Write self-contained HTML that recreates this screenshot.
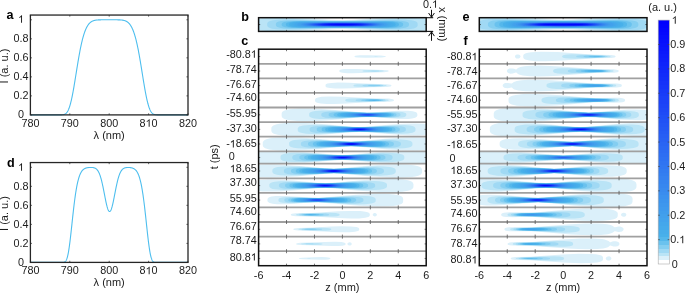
<!DOCTYPE html>
<html><head><meta charset="utf-8"><style>html,body{margin:0;padding:0;background:#fff;overflow:hidden}svg{display:block;will-change:transform;font-kerning:none;font-family:"Liberation Sans",sans-serif}</style></head>
<body><svg width="685" height="293" viewBox="0 0 685 293" font-family="Liberation Sans, sans-serif"><polyline points="30.40,114.90 30.60,114.90 30.79,114.90 30.99,114.90 31.19,114.90 31.38,114.90 31.58,114.90 31.78,114.90 31.98,114.90 32.17,114.90 32.37,114.90 32.57,114.90 32.76,114.90 32.96,114.90 33.16,114.90 33.35,114.90 33.55,114.90 33.75,114.90 33.95,114.90 34.14,114.90 34.34,114.90 34.54,114.90 34.73,114.90 34.93,114.90 35.13,114.90 35.32,114.90 35.52,114.90 35.72,114.90 35.92,114.90 36.11,114.90 36.31,114.90 36.51,114.90 36.70,114.90 36.90,114.90 37.10,114.90 37.30,114.90 37.49,114.90 37.69,114.90 37.89,114.90 38.08,114.90 38.28,114.90 38.48,114.90 38.67,114.90 38.87,114.90 39.07,114.90 39.27,114.90 39.46,114.90 39.66,114.90 39.86,114.90 40.05,114.90 40.25,114.90 40.45,114.90 40.64,114.90 40.84,114.90 41.04,114.90 41.23,114.90 41.43,114.90 41.63,114.90 41.83,114.90 42.02,114.90 42.22,114.90 42.42,114.90 42.61,114.90 42.81,114.90 43.01,114.90 43.20,114.90 43.40,114.90 43.60,114.90 43.80,114.90 43.99,114.90 44.19,114.90 44.39,114.90 44.58,114.90 44.78,114.90 44.98,114.90 45.17,114.90 45.37,114.90 45.57,114.90 45.77,114.90 45.96,114.90 46.16,114.90 46.36,114.90 46.55,114.90 46.75,114.90 46.95,114.90 47.14,114.90 47.34,114.90 47.54,114.90 47.74,114.90 47.93,114.90 48.13,114.90 48.33,114.90 48.52,114.90 48.72,114.90 48.92,114.90 49.11,114.90 49.31,114.90 49.51,114.90 49.71,114.90 49.90,114.90 50.10,114.90 50.30,114.90 50.49,114.90 50.69,114.90 50.89,114.90 51.08,114.90 51.28,114.90 51.48,114.90 51.68,114.90 51.87,114.90 52.07,114.90 52.27,114.90 52.46,114.90 52.66,114.90 52.86,114.90 53.05,114.90 53.25,114.90 53.45,114.90 53.65,114.90 53.84,114.90 54.04,114.90 54.24,114.90 54.43,114.90 54.63,114.90 54.83,114.90 55.02,114.90 55.22,114.90 55.42,114.90 55.62,114.90 55.81,114.90 56.01,114.90 56.21,114.90 56.40,114.90 56.60,114.90 56.80,114.90 56.99,114.90 57.19,114.90 57.39,114.90 57.59,114.90 57.78,114.90 57.98,114.90 58.18,114.90 58.37,114.90 58.57,114.90 58.77,114.90 58.97,114.90 59.16,114.90 59.36,114.89 59.56,114.89 59.75,114.89 59.95,114.89 60.15,114.89 60.34,114.88 60.54,114.88 60.74,114.87 60.94,114.87 61.13,114.86 61.33,114.85 61.53,114.84 61.72,114.83 61.92,114.82 62.12,114.80 62.31,114.79 62.51,114.77 62.71,114.74 62.91,114.71 63.10,114.68 63.30,114.65 63.50,114.61 63.69,114.56 63.89,114.51 64.09,114.44 64.28,114.38 64.48,114.30 64.68,114.22 64.88,114.12 65.07,114.02 65.27,113.90 65.47,113.77 65.66,113.63 65.86,113.47 66.06,113.30 66.25,113.12 66.45,112.91 66.65,112.69 66.84,112.45 67.04,112.19 67.24,111.91 67.44,111.61 67.63,111.28 67.83,110.93 68.03,110.56 68.22,110.16 68.42,109.74 68.62,109.29 68.81,108.82 69.01,108.31 69.21,107.78 69.41,107.22 69.60,106.63 69.80,106.02 70.00,105.37 70.19,104.70 70.39,103.99 70.59,103.26 70.78,102.49 70.98,101.70 71.18,100.88 71.38,100.03 71.57,99.16 71.77,98.25 71.97,97.33 72.16,96.37 72.36,95.39 72.56,94.39 72.75,93.36 72.95,92.31 73.15,91.24 73.35,90.16 73.54,89.05 73.74,87.92 73.94,86.78 74.13,85.63 74.33,84.46 74.53,83.28 74.72,82.09 74.92,80.88 75.12,79.67 75.32,78.46 75.51,77.24 75.71,76.01 75.91,74.78 76.10,73.55 76.30,72.32 76.50,71.09 76.69,69.87 76.89,68.65 77.09,67.43 77.29,66.22 77.48,65.02 77.68,63.82 77.88,62.63 78.07,61.46 78.27,60.30 78.47,59.14 78.66,58.01 78.86,56.88 79.06,55.77 79.26,54.68 79.45,53.60 79.65,52.54 79.85,51.50 80.04,50.47 80.24,49.46 80.44,48.47 80.63,47.50 80.83,46.55 81.03,45.62 81.23,44.71 81.42,43.82 81.62,42.95 81.82,42.10 82.01,41.27 82.21,40.46 82.41,39.67 82.60,38.91 82.80,38.16 83.00,37.43 83.20,36.73 83.39,36.04 83.59,35.37 83.79,34.73 83.98,34.10 84.18,33.49 84.38,32.91 84.57,32.34 84.77,31.79 84.97,31.25 85.17,30.74 85.36,30.24 85.56,29.76 85.76,29.30 85.95,28.85 86.15,28.42 86.35,28.01 86.54,27.61 86.74,27.23 86.94,26.86 87.14,26.51 87.33,26.17 87.53,25.85 87.73,25.53 87.92,25.23 88.12,24.95 88.32,24.67 88.52,24.41 88.71,24.16 88.91,23.92 89.11,23.69 89.30,23.47 89.50,23.26 89.70,23.06 89.89,22.87 90.09,22.69 90.29,22.52 90.48,22.36 90.68,22.20 90.88,22.06 91.08,21.92 91.27,21.78 91.47,21.66 91.67,21.54 91.86,21.43 92.06,21.32 92.26,21.22 92.45,21.12 92.65,21.03 92.85,20.95 93.05,20.87 93.24,20.79 93.44,20.72 93.64,20.66 93.83,20.59 94.03,20.54 94.23,20.48 94.43,20.43 94.62,20.38 94.82,20.34 95.02,20.29 95.21,20.25 95.41,20.22 95.61,20.18 95.80,20.15 96.00,20.12 96.20,20.10 96.40,20.07 96.59,20.05 96.79,20.02 96.99,20.00 97.18,19.99 97.38,19.97 97.58,19.95 97.77,19.94 97.97,19.93 98.17,19.91 98.37,19.90 98.56,19.89 98.76,19.88 98.96,19.87 99.15,19.87 99.35,19.86 99.55,19.85 99.74,19.85 99.94,19.84 100.14,19.84 100.34,19.83 100.53,19.83 100.73,19.83 100.93,19.82 101.12,19.82 101.32,19.82 101.52,19.82 101.71,19.82 101.91,19.81 102.11,19.81 102.31,19.81 102.50,19.81 102.70,19.81 102.90,19.81 103.09,19.81 103.29,19.81 103.49,19.81 103.68,19.81 103.88,19.81 104.08,19.81 104.28,19.81 104.47,19.81 104.67,19.81 104.87,19.81 105.06,19.81 105.26,19.80 105.46,19.80 105.65,19.80 105.85,19.80 106.05,19.80 106.25,19.80 106.44,19.80 106.64,19.80 106.84,19.80 107.03,19.80 107.23,19.80 107.43,19.80 107.62,19.80 107.82,19.80 108.02,19.80 108.22,19.80 108.41,19.80 108.61,19.80 108.81,19.80 109.00,19.80 109.20,19.80 109.40,19.80 109.59,19.80 109.79,19.80 109.99,19.80 110.19,19.80 110.38,19.80 110.58,19.80 110.78,19.80 110.97,19.80 111.17,19.80 111.37,19.80 111.56,19.80 111.76,19.80 111.96,19.80 112.16,19.80 112.35,19.80 112.55,19.80 112.75,19.80 112.94,19.80 113.14,19.80 113.34,19.81 113.53,19.81 113.73,19.81 113.93,19.81 114.12,19.81 114.32,19.81 114.52,19.81 114.72,19.81 114.91,19.81 115.11,19.81 115.31,19.81 115.50,19.81 115.70,19.81 115.90,19.81 116.09,19.81 116.29,19.81 116.49,19.81 116.69,19.82 116.88,19.82 117.08,19.82 117.28,19.82 117.47,19.82 117.67,19.83 117.87,19.83 118.06,19.83 118.26,19.84 118.46,19.84 118.66,19.85 118.85,19.85 119.05,19.86 119.25,19.87 119.44,19.87 119.64,19.88 119.84,19.89 120.03,19.90 120.23,19.91 120.43,19.93 120.63,19.94 120.82,19.95 121.02,19.97 121.22,19.99 121.41,20.00 121.61,20.02 121.81,20.05 122.00,20.07 122.20,20.10 122.40,20.12 122.60,20.15 122.79,20.18 122.99,20.22 123.19,20.25 123.38,20.29 123.58,20.34 123.78,20.38 123.97,20.43 124.17,20.48 124.37,20.54 124.57,20.59 124.76,20.66 124.96,20.72 125.16,20.79 125.35,20.87 125.55,20.95 125.75,21.03 125.94,21.12 126.14,21.22 126.34,21.32 126.54,21.43 126.73,21.54 126.93,21.66 127.13,21.78 127.32,21.92 127.52,22.06 127.72,22.20 127.91,22.36 128.11,22.52 128.31,22.69 128.51,22.87 128.70,23.06 128.90,23.26 129.10,23.47 129.29,23.69 129.49,23.92 129.69,24.16 129.88,24.41 130.08,24.67 130.28,24.95 130.48,25.23 130.67,25.53 130.87,25.85 131.07,26.17 131.26,26.51 131.46,26.86 131.66,27.23 131.85,27.61 132.05,28.01 132.25,28.42 132.45,28.85 132.64,29.30 132.84,29.76 133.04,30.24 133.23,30.74 133.43,31.25 133.63,31.79 133.82,32.34 134.02,32.91 134.22,33.49 134.42,34.10 134.61,34.73 134.81,35.37 135.01,36.04 135.20,36.73 135.40,37.43 135.60,38.16 135.79,38.91 135.99,39.67 136.19,40.46 136.39,41.27 136.58,42.10 136.78,42.95 136.98,43.82 137.17,44.71 137.37,45.62 137.57,46.55 137.76,47.50 137.96,48.47 138.16,49.46 138.36,50.47 138.55,51.50 138.75,52.54 138.95,53.60 139.14,54.68 139.34,55.77 139.54,56.88 139.73,58.01 139.93,59.14 140.13,60.30 140.33,61.46 140.52,62.63 140.72,63.82 140.92,65.02 141.11,66.22 141.31,67.43 141.51,68.65 141.70,69.87 141.90,71.09 142.10,72.32 142.30,73.55 142.49,74.78 142.69,76.01 142.89,77.24 143.08,78.46 143.28,79.67 143.48,80.88 143.67,82.09 143.87,83.28 144.07,84.46 144.27,85.63 144.46,86.78 144.66,87.92 144.86,89.05 145.05,90.16 145.25,91.24 145.45,92.31 145.65,93.36 145.84,94.39 146.04,95.39 146.24,96.37 146.43,97.33 146.63,98.25 146.83,99.16 147.02,100.03 147.22,100.88 147.42,101.70 147.62,102.49 147.81,103.26 148.01,103.99 148.21,104.70 148.40,105.37 148.60,106.02 148.80,106.63 148.99,107.22 149.19,107.78 149.39,108.31 149.59,108.82 149.78,109.29 149.98,109.74 150.18,110.16 150.37,110.56 150.57,110.93 150.77,111.28 150.96,111.61 151.16,111.91 151.36,112.19 151.56,112.45 151.75,112.69 151.95,112.91 152.15,113.12 152.34,113.30 152.54,113.47 152.74,113.63 152.93,113.77 153.13,113.90 153.33,114.02 153.53,114.12 153.72,114.22 153.92,114.30 154.12,114.38 154.31,114.44 154.51,114.51 154.71,114.56 154.90,114.61 155.10,114.65 155.30,114.68 155.50,114.71 155.69,114.74 155.89,114.77 156.09,114.79 156.28,114.80 156.48,114.82 156.68,114.83 156.87,114.84 157.07,114.85 157.27,114.86 157.47,114.87 157.66,114.87 157.86,114.88 158.06,114.88 158.25,114.89 158.45,114.89 158.65,114.89 158.84,114.89 159.04,114.89 159.24,114.90 159.44,114.90 159.63,114.90 159.83,114.90 160.03,114.90 160.22,114.90 160.42,114.90 160.62,114.90 160.81,114.90 161.01,114.90 161.21,114.90 161.41,114.90 161.60,114.90 161.80,114.90 162.00,114.90 162.19,114.90 162.39,114.90 162.59,114.90 162.78,114.90 162.98,114.90 163.18,114.90 163.38,114.90 163.57,114.90 163.77,114.90 163.97,114.90 164.16,114.90 164.36,114.90 164.56,114.90 164.75,114.90 164.95,114.90 165.15,114.90 165.34,114.90 165.54,114.90 165.74,114.90 165.94,114.90 166.13,114.90 166.33,114.90 166.53,114.90 166.72,114.90 166.92,114.90 167.12,114.90 167.31,114.90 167.51,114.90 167.71,114.90 167.91,114.90 168.10,114.90 168.30,114.90 168.50,114.90 168.69,114.90 168.89,114.90 169.09,114.90 169.28,114.90 169.48,114.90 169.68,114.90 169.88,114.90 170.07,114.90 170.27,114.90 170.47,114.90 170.66,114.90 170.86,114.90 171.06,114.90 171.25,114.90 171.45,114.90 171.65,114.90 171.85,114.90 172.04,114.90 172.24,114.90 172.44,114.90 172.63,114.90 172.83,114.90 173.03,114.90 173.22,114.90 173.42,114.90 173.62,114.90 173.82,114.90 174.01,114.90 174.21,114.90 174.41,114.90 174.60,114.90 174.80,114.90 175.00,114.90 175.19,114.90 175.39,114.90 175.59,114.90 175.79,114.90 175.98,114.90 176.18,114.90 176.38,114.90 176.57,114.90 176.77,114.90 176.97,114.90 177.16,114.90 177.36,114.90 177.56,114.90 177.76,114.90 177.95,114.90 178.15,114.90 178.35,114.90 178.54,114.90 178.74,114.90 178.94,114.90 179.13,114.90 179.33,114.90 179.53,114.90 179.73,114.90 179.92,114.90 180.12,114.90 180.32,114.90 180.51,114.90 180.71,114.90 180.91,114.90 181.10,114.90 181.30,114.90 181.50,114.90 181.70,114.90 181.89,114.90 182.09,114.90 182.29,114.90 182.48,114.90 182.68,114.90 182.88,114.90 183.08,114.90 183.27,114.90 183.47,114.90 183.67,114.90 183.86,114.90 184.06,114.90 184.26,114.90 184.45,114.90 184.65,114.90 184.85,114.90 185.05,114.90 185.24,114.90 185.44,114.90 185.64,114.90 185.83,114.90 186.03,114.90 186.23,114.90 186.42,114.90 186.62,114.90 186.82,114.90 187.02,114.90 187.21,114.90 187.41,114.90 187.61,114.90 187.80,114.90 188.00,114.90" fill="none" stroke="#4DBEEE" stroke-width="1.1"/>
<rect x="30.4" y="15.05" width="157.60" height="99.85" fill="none" stroke="#262626" stroke-width="1.3"/>
<line x1="30.40" y1="114.9" x2="30.40" y2="113.30000000000001" stroke="#262626" stroke-width="0.7"/>
<line x1="30.40" y1="15.05" x2="30.40" y2="16.650000000000002" stroke="#262626" stroke-width="0.7"/>
<text x="30.40" y="126.70" font-size="10.8" text-anchor="middle" fill="#1a1a1a">780</text>
<line x1="69.80" y1="114.9" x2="69.80" y2="113.30000000000001" stroke="#262626" stroke-width="0.7"/>
<line x1="69.80" y1="15.05" x2="69.80" y2="16.650000000000002" stroke="#262626" stroke-width="0.7"/>
<text x="69.80" y="126.70" font-size="10.8" text-anchor="middle" fill="#1a1a1a">790</text>
<line x1="109.20" y1="114.9" x2="109.20" y2="113.30000000000001" stroke="#262626" stroke-width="0.7"/>
<line x1="109.20" y1="15.05" x2="109.20" y2="16.650000000000002" stroke="#262626" stroke-width="0.7"/>
<text x="109.20" y="126.70" font-size="10.8" text-anchor="middle" fill="#1a1a1a">800</text>
<line x1="148.60" y1="114.9" x2="148.60" y2="113.30000000000001" stroke="#262626" stroke-width="0.7"/>
<line x1="148.60" y1="15.05" x2="148.60" y2="16.650000000000002" stroke="#262626" stroke-width="0.7"/>
<text x="148.60" y="126.70" font-size="10.8" text-anchor="middle" fill="#1a1a1a">8 0</text>
<path d="M763 0H583V1110Q518 1050 412 990Q306 930 222 900V1070Q373 1140 486 1240Q599 1340 646 1409H763Z" fill="#1a1a1a" transform="translate(145.60 126.70) scale(0.005273 -0.005273)"/>
<line x1="188.00" y1="114.9" x2="188.00" y2="113.30000000000001" stroke="#262626" stroke-width="0.7"/>
<line x1="188.00" y1="15.05" x2="188.00" y2="16.650000000000002" stroke="#262626" stroke-width="0.7"/>
<text x="188.00" y="126.70" font-size="10.8" text-anchor="middle" fill="#1a1a1a">820</text>
<line x1="30.4" y1="114.90" x2="32.0" y2="114.90" stroke="#262626" stroke-width="0.7"/>
<line x1="188.0" y1="114.90" x2="186.4" y2="114.90" stroke="#262626" stroke-width="0.7"/>
<text x="21.00" y="117.90" font-size="10.8" text-anchor="middle" fill="#1a1a1a">0</text>
<line x1="30.4" y1="95.88" x2="32.0" y2="95.88" stroke="#262626" stroke-width="0.7"/>
<line x1="188.0" y1="95.88" x2="186.4" y2="95.88" stroke="#262626" stroke-width="0.7"/>
<text x="21.00" y="98.88" font-size="10.8" text-anchor="middle" fill="#1a1a1a">0.2</text>
<line x1="30.4" y1="76.86" x2="32.0" y2="76.86" stroke="#262626" stroke-width="0.7"/>
<line x1="188.0" y1="76.86" x2="186.4" y2="76.86" stroke="#262626" stroke-width="0.7"/>
<text x="21.00" y="79.86" font-size="10.8" text-anchor="middle" fill="#1a1a1a">0.4</text>
<line x1="30.4" y1="57.84" x2="32.0" y2="57.84" stroke="#262626" stroke-width="0.7"/>
<line x1="188.0" y1="57.84" x2="186.4" y2="57.84" stroke="#262626" stroke-width="0.7"/>
<text x="21.00" y="60.84" font-size="10.8" text-anchor="middle" fill="#1a1a1a">0.6</text>
<line x1="30.4" y1="38.82" x2="32.0" y2="38.82" stroke="#262626" stroke-width="0.7"/>
<line x1="188.0" y1="38.82" x2="186.4" y2="38.82" stroke="#262626" stroke-width="0.7"/>
<text x="21.00" y="41.82" font-size="10.8" text-anchor="middle" fill="#1a1a1a">0.8</text>
<line x1="30.4" y1="19.80" x2="32.0" y2="19.80" stroke="#262626" stroke-width="0.7"/>
<line x1="188.0" y1="19.80" x2="186.4" y2="19.80" stroke="#262626" stroke-width="0.7"/>
<text x="21.00" y="22.80" font-size="10.8" text-anchor="middle" fill="#1a1a1a"> </text>
<path d="M763 0H583V1110Q518 1050 412 990Q306 930 222 900V1070Q373 1140 486 1240Q599 1340 646 1409H763Z" fill="#1a1a1a" transform="translate(18.00 22.80) scale(0.005273 -0.005273)"/>
<text x="109.20" y="138.60" font-size="11" text-anchor="middle" fill="#1a1a1a">λ (nm)</text>
<text x="7.80" y="66.00" font-size="11" text-anchor="middle" transform="rotate(-90 7.80 66.00)" fill="#1a1a1a">I (a. u.)</text>
<text x="6.60" y="18.80" font-size="12.6" text-anchor="start" font-weight="bold" fill="#000">a</text>
<polyline points="30.40,262.40 30.60,262.40 30.79,262.40 30.99,262.40 31.19,262.40 31.38,262.40 31.58,262.40 31.78,262.40 31.98,262.40 32.17,262.40 32.37,262.40 32.57,262.40 32.76,262.40 32.96,262.40 33.16,262.40 33.35,262.40 33.55,262.40 33.75,262.40 33.95,262.40 34.14,262.40 34.34,262.40 34.54,262.40 34.73,262.40 34.93,262.40 35.13,262.40 35.32,262.40 35.52,262.40 35.72,262.40 35.92,262.40 36.11,262.40 36.31,262.40 36.51,262.40 36.70,262.40 36.90,262.40 37.10,262.40 37.30,262.40 37.49,262.40 37.69,262.40 37.89,262.40 38.08,262.40 38.28,262.40 38.48,262.40 38.67,262.40 38.87,262.40 39.07,262.40 39.27,262.40 39.46,262.40 39.66,262.40 39.86,262.40 40.05,262.40 40.25,262.40 40.45,262.40 40.64,262.40 40.84,262.40 41.04,262.40 41.23,262.40 41.43,262.40 41.63,262.40 41.83,262.40 42.02,262.40 42.22,262.40 42.42,262.40 42.61,262.40 42.81,262.40 43.01,262.40 43.20,262.40 43.40,262.40 43.60,262.40 43.80,262.40 43.99,262.40 44.19,262.40 44.39,262.40 44.58,262.40 44.78,262.40 44.98,262.40 45.17,262.40 45.37,262.40 45.57,262.40 45.77,262.40 45.96,262.40 46.16,262.40 46.36,262.40 46.55,262.40 46.75,262.40 46.95,262.40 47.14,262.40 47.34,262.40 47.54,262.40 47.74,262.40 47.93,262.40 48.13,262.40 48.33,262.40 48.52,262.40 48.72,262.40 48.92,262.40 49.11,262.40 49.31,262.40 49.51,262.40 49.71,262.40 49.90,262.40 50.10,262.40 50.30,262.40 50.49,262.40 50.69,262.40 50.89,262.40 51.08,262.40 51.28,262.40 51.48,262.40 51.68,262.40 51.87,262.40 52.07,262.40 52.27,262.40 52.46,262.40 52.66,262.40 52.86,262.40 53.05,262.40 53.25,262.40 53.45,262.40 53.65,262.40 53.84,262.40 54.04,262.40 54.24,262.40 54.43,262.40 54.63,262.40 54.83,262.40 55.02,262.40 55.22,262.40 55.42,262.40 55.62,262.40 55.81,262.40 56.01,262.40 56.21,262.40 56.40,262.40 56.60,262.40 56.80,262.40 56.99,262.40 57.19,262.40 57.39,262.40 57.59,262.40 57.78,262.40 57.98,262.40 58.18,262.40 58.37,262.40 58.57,262.40 58.77,262.40 58.97,262.40 59.16,262.40 59.36,262.40 59.56,262.40 59.75,262.40 59.95,262.40 60.15,262.40 60.34,262.40 60.54,262.40 60.74,262.40 60.94,262.40 61.13,262.40 61.33,262.40 61.53,262.40 61.72,262.40 61.92,262.39 62.12,262.39 62.31,262.39 62.51,262.38 62.71,262.38 62.91,262.37 63.10,262.35 63.30,262.34 63.50,262.31 63.69,262.28 63.89,262.24 64.09,262.19 64.28,262.13 64.48,262.06 64.68,261.96 64.88,261.85 65.07,261.71 65.27,261.54 65.47,261.34 65.66,261.11 65.86,260.84 66.06,260.53 66.25,260.17 66.45,259.76 66.65,259.29 66.84,258.77 67.04,258.19 67.24,257.54 67.44,256.83 67.63,256.05 67.83,255.20 68.03,254.28 68.22,253.29 68.42,252.23 68.62,251.10 68.81,249.89 69.01,248.62 69.21,247.28 69.41,245.88 69.60,244.42 69.80,242.91 70.00,241.34 70.19,239.72 70.39,238.05 70.59,236.35 70.78,234.61 70.98,232.85 71.18,231.05 71.38,229.24 71.57,227.42 71.77,225.58 71.97,223.74 72.16,221.90 72.36,220.06 72.56,218.24 72.75,216.42 72.95,214.63 73.15,212.85 73.35,211.10 73.54,209.37 73.74,207.68 73.94,206.01 74.13,204.38 74.33,202.79 74.53,201.24 74.72,199.72 74.92,198.25 75.12,196.82 75.32,195.44 75.51,194.09 75.71,192.79 75.91,191.54 76.10,190.33 76.30,189.16 76.50,188.04 76.69,186.96 76.89,185.92 77.09,184.92 77.29,183.97 77.48,183.06 77.68,182.18 77.88,181.35 78.07,180.55 78.27,179.80 78.47,179.07 78.66,178.38 78.86,177.73 79.06,177.11 79.26,176.52 79.45,175.96 79.65,175.42 79.85,174.92 80.04,174.44 80.24,173.99 80.44,173.57 80.63,173.16 80.83,172.78 81.03,172.42 81.23,172.09 81.42,171.77 81.62,171.47 81.82,171.19 82.01,170.92 82.21,170.67 82.41,170.44 82.60,170.22 82.80,170.01 83.00,169.82 83.20,169.64 83.39,169.47 83.59,169.31 83.79,169.16 83.98,169.03 84.18,168.90 84.38,168.78 84.57,168.67 84.77,168.56 84.97,168.46 85.17,168.37 85.36,168.29 85.56,168.21 85.76,168.14 85.95,168.07 86.15,168.01 86.35,167.95 86.54,167.90 86.74,167.85 86.94,167.81 87.14,167.76 87.33,167.73 87.53,167.69 87.73,167.66 87.92,167.63 88.12,167.60 88.32,167.58 88.52,167.56 88.71,167.54 88.91,167.52 89.11,167.50 89.30,167.49 89.50,167.48 89.70,167.47 89.89,167.46 90.09,167.45 90.29,167.45 90.48,167.44 90.68,167.44 90.88,167.44 91.08,167.44 91.27,167.45 91.47,167.45 91.67,167.46 91.86,167.47 92.06,167.49 92.26,167.50 92.45,167.52 92.65,167.54 92.85,167.57 93.05,167.59 93.24,167.63 93.44,167.66 93.64,167.70 93.83,167.75 94.03,167.80 94.23,167.86 94.43,167.92 94.62,167.99 94.82,168.07 95.02,168.16 95.21,168.25 95.41,168.35 95.61,168.47 95.80,168.59 96.00,168.72 96.20,168.87 96.40,169.03 96.59,169.21 96.79,169.39 96.99,169.60 97.18,169.82 97.38,170.06 97.58,170.31 97.77,170.58 97.97,170.88 98.17,171.19 98.37,171.53 98.56,171.89 98.76,172.27 98.96,172.68 99.15,173.11 99.35,173.57 99.55,174.06 99.74,174.57 99.94,175.10 100.14,175.67 100.34,176.27 100.53,176.89 100.73,177.54 100.93,178.22 101.12,178.93 101.32,179.66 101.52,180.43 101.71,181.22 101.91,182.04 102.11,182.88 102.31,183.75 102.50,184.64 102.70,185.55 102.90,186.48 103.09,187.43 103.29,188.40 103.49,189.39 103.68,190.38 103.88,191.39 104.08,192.40 104.28,193.42 104.47,194.44 104.67,195.45 104.87,196.47 105.06,197.48 105.26,198.47 105.46,199.46 105.65,200.42 105.85,201.37 106.05,202.29 106.25,203.19 106.44,204.06 106.64,204.89 106.84,205.68 107.03,206.44 107.23,207.15 107.43,207.82 107.62,208.44 107.82,209.01 108.02,209.53 108.22,209.99 108.41,210.39 108.61,210.73 108.81,211.02 109.00,211.24 109.20,211.40 109.40,211.49 109.59,211.52 109.79,211.49 109.99,211.40 110.19,211.24 110.38,211.02 110.58,210.73 110.78,210.39 110.97,209.99 111.17,209.53 111.37,209.01 111.56,208.44 111.76,207.82 111.96,207.15 112.16,206.44 112.35,205.68 112.55,204.89 112.75,204.06 112.94,203.19 113.14,202.29 113.34,201.37 113.53,200.42 113.73,199.46 113.93,198.47 114.12,197.48 114.32,196.47 114.52,195.45 114.72,194.44 114.91,193.42 115.11,192.40 115.31,191.39 115.50,190.38 115.70,189.39 115.90,188.40 116.09,187.43 116.29,186.48 116.49,185.55 116.69,184.64 116.88,183.75 117.08,182.88 117.28,182.04 117.47,181.22 117.67,180.43 117.87,179.66 118.06,178.93 118.26,178.22 118.46,177.54 118.66,176.89 118.85,176.27 119.05,175.67 119.25,175.11 119.44,174.57 119.64,174.06 119.84,173.57 120.03,173.11 120.23,172.68 120.43,172.27 120.63,171.89 120.82,171.53 121.02,171.19 121.22,170.88 121.41,170.59 121.61,170.31 121.81,170.06 122.00,169.82 122.20,169.60 122.40,169.40 122.60,169.21 122.79,169.03 122.99,168.87 123.19,168.73 123.38,168.59 123.58,168.47 123.78,168.36 123.97,168.25 124.17,168.16 124.37,168.07 124.57,168.00 124.76,167.93 124.96,167.87 125.16,167.81 125.35,167.76 125.55,167.71 125.75,167.67 125.94,167.64 126.14,167.61 126.34,167.58 126.54,167.56 126.73,167.54 126.93,167.52 127.13,167.51 127.32,167.50 127.52,167.49 127.72,167.48 127.91,167.48 128.11,167.48 128.31,167.48 128.51,167.48 128.70,167.49 128.90,167.49 129.10,167.50 129.29,167.52 129.49,167.53 129.69,167.55 129.88,167.56 130.08,167.59 130.28,167.61 130.48,167.64 130.67,167.66 130.87,167.70 131.07,167.73 131.26,167.77 131.46,167.81 131.66,167.85 131.85,167.90 132.05,167.96 132.25,168.01 132.45,168.07 132.64,168.14 132.84,168.21 133.04,168.29 133.23,168.38 133.43,168.47 133.63,168.56 133.82,168.67 134.02,168.78 134.22,168.90 134.42,169.03 134.61,169.16 134.81,169.31 135.01,169.47 135.20,169.64 135.40,169.82 135.60,170.01 135.79,170.22 135.99,170.44 136.19,170.67 136.39,170.92 136.58,171.19 136.78,171.47 136.98,171.77 137.17,172.09 137.37,172.42 137.57,172.78 137.76,173.16 137.96,173.57 138.16,173.99 138.36,174.44 138.55,174.92 138.75,175.42 138.95,175.96 139.14,176.52 139.34,177.11 139.54,177.73 139.73,178.38 139.93,179.07 140.13,179.80 140.33,180.55 140.52,181.35 140.72,182.18 140.92,183.06 141.11,183.97 141.31,184.92 141.51,185.92 141.70,186.96 141.90,188.04 142.10,189.16 142.30,190.33 142.49,191.54 142.69,192.79 142.89,194.09 143.08,195.44 143.28,196.82 143.48,198.25 143.67,199.72 143.87,201.24 144.07,202.79 144.27,204.38 144.46,206.01 144.66,207.68 144.86,209.37 145.05,211.10 145.25,212.85 145.45,214.63 145.65,216.42 145.84,218.24 146.04,220.06 146.24,221.90 146.43,223.74 146.63,225.58 146.83,227.42 147.02,229.24 147.22,231.05 147.42,232.85 147.62,234.61 147.81,236.35 148.01,238.05 148.21,239.72 148.40,241.34 148.60,242.91 148.80,244.42 148.99,245.88 149.19,247.28 149.39,248.62 149.59,249.89 149.78,251.10 149.98,252.23 150.18,253.29 150.37,254.28 150.57,255.20 150.77,256.05 150.96,256.83 151.16,257.54 151.36,258.19 151.56,258.77 151.75,259.29 151.95,259.76 152.15,260.17 152.34,260.53 152.54,260.84 152.74,261.11 152.93,261.34 153.13,261.54 153.33,261.71 153.53,261.85 153.72,261.96 153.92,262.06 154.12,262.13 154.31,262.19 154.51,262.24 154.71,262.28 154.90,262.31 155.10,262.34 155.30,262.35 155.50,262.37 155.69,262.38 155.89,262.38 156.09,262.39 156.28,262.39 156.48,262.39 156.68,262.40 156.87,262.40 157.07,262.40 157.27,262.40 157.47,262.40 157.66,262.40 157.86,262.40 158.06,262.40 158.25,262.40 158.45,262.40 158.65,262.40 158.84,262.40 159.04,262.40 159.24,262.40 159.44,262.40 159.63,262.40 159.83,262.40 160.03,262.40 160.22,262.40 160.42,262.40 160.62,262.40 160.81,262.40 161.01,262.40 161.21,262.40 161.41,262.40 161.60,262.40 161.80,262.40 162.00,262.40 162.19,262.40 162.39,262.40 162.59,262.40 162.78,262.40 162.98,262.40 163.18,262.40 163.38,262.40 163.57,262.40 163.77,262.40 163.97,262.40 164.16,262.40 164.36,262.40 164.56,262.40 164.75,262.40 164.95,262.40 165.15,262.40 165.34,262.40 165.54,262.40 165.74,262.40 165.94,262.40 166.13,262.40 166.33,262.40 166.53,262.40 166.72,262.40 166.92,262.40 167.12,262.40 167.31,262.40 167.51,262.40 167.71,262.40 167.91,262.40 168.10,262.40 168.30,262.40 168.50,262.40 168.69,262.40 168.89,262.40 169.09,262.40 169.28,262.40 169.48,262.40 169.68,262.40 169.88,262.40 170.07,262.40 170.27,262.40 170.47,262.40 170.66,262.40 170.86,262.40 171.06,262.40 171.25,262.40 171.45,262.40 171.65,262.40 171.85,262.40 172.04,262.40 172.24,262.40 172.44,262.40 172.63,262.40 172.83,262.40 173.03,262.40 173.22,262.40 173.42,262.40 173.62,262.40 173.82,262.40 174.01,262.40 174.21,262.40 174.41,262.40 174.60,262.40 174.80,262.40 175.00,262.40 175.19,262.40 175.39,262.40 175.59,262.40 175.79,262.40 175.98,262.40 176.18,262.40 176.38,262.40 176.57,262.40 176.77,262.40 176.97,262.40 177.16,262.40 177.36,262.40 177.56,262.40 177.76,262.40 177.95,262.40 178.15,262.40 178.35,262.40 178.54,262.40 178.74,262.40 178.94,262.40 179.13,262.40 179.33,262.40 179.53,262.40 179.73,262.40 179.92,262.40 180.12,262.40 180.32,262.40 180.51,262.40 180.71,262.40 180.91,262.40 181.10,262.40 181.30,262.40 181.50,262.40 181.70,262.40 181.89,262.40 182.09,262.40 182.29,262.40 182.48,262.40 182.68,262.40 182.88,262.40 183.08,262.40 183.27,262.40 183.47,262.40 183.67,262.40 183.86,262.40 184.06,262.40 184.26,262.40 184.45,262.40 184.65,262.40 184.85,262.40 185.05,262.40 185.24,262.40 185.44,262.40 185.64,262.40 185.83,262.40 186.03,262.40 186.23,262.40 186.42,262.40 186.62,262.40 186.82,262.40 187.02,262.40 187.21,262.40 187.41,262.40 187.61,262.40 187.80,262.40 188.00,262.40" fill="none" stroke="#4DBEEE" stroke-width="1.1"/>
<rect x="30.4" y="162.55" width="157.60" height="99.85" fill="none" stroke="#262626" stroke-width="1.3"/>
<line x1="30.40" y1="262.4" x2="30.40" y2="260.79999999999995" stroke="#262626" stroke-width="0.7"/>
<line x1="30.40" y1="162.55" x2="30.40" y2="164.15" stroke="#262626" stroke-width="0.7"/>
<text x="30.40" y="274.20" font-size="10.8" text-anchor="middle" fill="#1a1a1a">780</text>
<line x1="69.80" y1="262.4" x2="69.80" y2="260.79999999999995" stroke="#262626" stroke-width="0.7"/>
<line x1="69.80" y1="162.55" x2="69.80" y2="164.15" stroke="#262626" stroke-width="0.7"/>
<text x="69.80" y="274.20" font-size="10.8" text-anchor="middle" fill="#1a1a1a">790</text>
<line x1="109.20" y1="262.4" x2="109.20" y2="260.79999999999995" stroke="#262626" stroke-width="0.7"/>
<line x1="109.20" y1="162.55" x2="109.20" y2="164.15" stroke="#262626" stroke-width="0.7"/>
<text x="109.20" y="274.20" font-size="10.8" text-anchor="middle" fill="#1a1a1a">800</text>
<line x1="148.60" y1="262.4" x2="148.60" y2="260.79999999999995" stroke="#262626" stroke-width="0.7"/>
<line x1="148.60" y1="162.55" x2="148.60" y2="164.15" stroke="#262626" stroke-width="0.7"/>
<text x="148.60" y="274.20" font-size="10.8" text-anchor="middle" fill="#1a1a1a">8 0</text>
<path d="M763 0H583V1110Q518 1050 412 990Q306 930 222 900V1070Q373 1140 486 1240Q599 1340 646 1409H763Z" fill="#1a1a1a" transform="translate(145.60 274.20) scale(0.005273 -0.005273)"/>
<line x1="188.00" y1="262.4" x2="188.00" y2="260.79999999999995" stroke="#262626" stroke-width="0.7"/>
<line x1="188.00" y1="162.55" x2="188.00" y2="164.15" stroke="#262626" stroke-width="0.7"/>
<text x="188.00" y="274.20" font-size="10.8" text-anchor="middle" fill="#1a1a1a">820</text>
<line x1="30.4" y1="262.40" x2="32.0" y2="262.40" stroke="#262626" stroke-width="0.7"/>
<line x1="188.0" y1="262.40" x2="186.4" y2="262.40" stroke="#262626" stroke-width="0.7"/>
<text x="21.00" y="265.90" font-size="10.8" text-anchor="middle" fill="#1a1a1a">0</text>
<line x1="30.4" y1="243.38" x2="32.0" y2="243.38" stroke="#262626" stroke-width="0.7"/>
<line x1="188.0" y1="243.38" x2="186.4" y2="243.38" stroke="#262626" stroke-width="0.7"/>
<text x="21.00" y="246.88" font-size="10.8" text-anchor="middle" fill="#1a1a1a">0.2</text>
<line x1="30.4" y1="224.36" x2="32.0" y2="224.36" stroke="#262626" stroke-width="0.7"/>
<line x1="188.0" y1="224.36" x2="186.4" y2="224.36" stroke="#262626" stroke-width="0.7"/>
<text x="21.00" y="227.86" font-size="10.8" text-anchor="middle" fill="#1a1a1a">0.4</text>
<line x1="30.4" y1="205.34" x2="32.0" y2="205.34" stroke="#262626" stroke-width="0.7"/>
<line x1="188.0" y1="205.34" x2="186.4" y2="205.34" stroke="#262626" stroke-width="0.7"/>
<text x="21.00" y="208.84" font-size="10.8" text-anchor="middle" fill="#1a1a1a">0.6</text>
<line x1="30.4" y1="186.32" x2="32.0" y2="186.32" stroke="#262626" stroke-width="0.7"/>
<line x1="188.0" y1="186.32" x2="186.4" y2="186.32" stroke="#262626" stroke-width="0.7"/>
<text x="21.00" y="189.82" font-size="10.8" text-anchor="middle" fill="#1a1a1a">0.8</text>
<line x1="30.4" y1="167.30" x2="32.0" y2="167.30" stroke="#262626" stroke-width="0.7"/>
<line x1="188.0" y1="167.30" x2="186.4" y2="167.30" stroke="#262626" stroke-width="0.7"/>
<text x="21.00" y="170.80" font-size="10.8" text-anchor="middle" fill="#1a1a1a"> </text>
<path d="M763 0H583V1110Q518 1050 412 990Q306 930 222 900V1070Q373 1140 486 1240Q599 1340 646 1409H763Z" fill="#1a1a1a" transform="translate(18.00 170.80) scale(0.005273 -0.005273)"/>
<text x="109.20" y="286.10" font-size="11" text-anchor="middle" fill="#1a1a1a">λ (nm)</text>
<text x="7.80" y="213.50" font-size="11" text-anchor="middle" transform="rotate(-90 7.80 213.50)" fill="#1a1a1a">I (a. u.)</text>
<text x="7.00" y="167.10" font-size="12.6" text-anchor="start" font-weight="bold" fill="#000">d</text>
<clipPath id="bc"><rect x="258.6" y="17.7" width="167.60" height="13.70"/></clipPath>
<g clip-path="url(#bc)">
<path d="M259.1 17.7l45.9 0 26.4 2 10.7 .4 11.3-.4 26.4-2 46.4 0 0 13.7-46.4 0-26.4-2-10.7-.4-11.3 .4-26.4 2-46.4 0 0-13.7 .5 0z" fill="#dbf0fa" fill-rule="evenodd"/>
<path d="M268.1 18.2l8.5-.1 10.5 .2 44 2.2 11 .2 11.3-.2 27.3-1.5 19-.8 11.5-.1 8.5 .3 6.5 .8 0 10.7-4 .6-4.5 .4-13 .1-19.5-.7-31.8-1.7-10.7-.2-11.3 .2-32.3 1.7-19.5 .7-12.5-.1-4.5-.4-4-.6 0-10.7 4-.6 5.5-.4z" fill="#bae4f6" fill-rule="evenodd"/>
<path d="M278.6 19.7l6.5-.2 8 .1 35.5 1.3 14.6 .1 14-.2 33-1.2 14 0 7 .6 2.5 .5 1.8 .6 1.3 .7 .6 .8 .2 .7 .1 1.6-.3 1.2-.6 .8-1.3 .7-1.5 .6-5.3 .8-8.5 .4-15.5-.3-29.5-1.1-12.5-.1-14.6 .2-33 1.2-12.5 .1-6-.3-4.5-.6-2.8-.9-.9-.5-.8-.7-.4-1 0-2.1 .4-1 .8-.7 1.6-.8 1.9-.5 3.2-.5 3.5-.3z" fill="#a0d9f4" fill-rule="evenodd"/>
<path d="M287.1 20.5l11-.1 29.5 .8 15.6 .1 14.5-.1 28.5-.8 10.5 0 6 .5 4.1 .9 1.1 .5 .8 .7 .3 .8 0 1-.2 1-.6 .8-1.4 .7-1.6 .5-5 .7-7.5 .2-10-.1-26-.7-13-.1-16.1 .1-28.5 .8-10 0-5.5-.3-3.8-.6-2.4-.7-.8-.5-.6-.8-.2-1.2 .2-1.3 .6-.8 .8-.5 1.3-.5 2.5-.5 5.9-.5z" fill="#84cef1" fill-rule="evenodd"/>
<path d="M294.1 21l8.5 0 33 .5 22.1-.1 26-.5 8.5 .1 5.5 .4 3.5 .8 1.2 .6 .5 .5 .2 .5 .1 1-.2 .8-.6 .7-1 .5-1.7 .5-5 .6-7 .3-38.5-.6-21.1 .1-24.5 .4-9.5 0-5.2-.3-3.8-.5-2.3-.7-.7-.5-.3-.5-.2-1 .2-1.1 .6-.7 1-.5 1.7-.5 2.5-.4 6.5-.4z" fill="#6ac2ee" fill-rule="evenodd"/>
<path d="M295.1 21.5l8.5-.2 22 .3 29.1 0 25-.2 8.5 0 5.5 .4 3.5 .7 1 .5 .5 .5 .3 1.3-.3 .8-.5 .5-1 .5-2 .5-5 .5-7 .1-28.5-.2-57.1 .2-5-.3-3.5-.4-2.1-.7-.7-.5-.4-.5 0-1.5 .4-.5 .8-.6 3-.8 5-.4z" fill="#54b7eb" fill-rule="evenodd"/>
<path d="M299.6 21.7l85.6 0 5 .3 3.5 .6 1 .4 .7 .5 .3 .5 0 .8-.3 .8-.7 .5-2.8 .7-4.7 .5-7.5 .1-20.5-.1-58.6 .1-5-.3-3.5-.4-2-.6-.7-.5-.3-.5 0-1.1 .3-.5 1.3-.7 3.4-.7 5.5-.4z" fill="#48b0ea" fill-rule="evenodd"/>
<path d="M301.6 22l80.6 0 5.4 .3 3.3 .5 1.8 .7 .4 .5 .1 .6-.2 .7-.7 .5-2.6 .8-4.5 .4-7.5 .2-74.6-.1-5-.2-3.5-.4-2.1-.7-.8-.7 0-.8 .1-.5 1.3-.8 3.5-.7 5-.3z" fill="#47adea" fill-rule="evenodd"/>
<path d="M335.1 22l47.1 .2 4 .3 3 .5 1.5 .7 .3 .9-.3 .8-1.5 .7-2.5 .4-3 .3-7.5 .2-31 .1-42.6-.2-4-.3-2.5-.4-1.8-.6-.5-.8 0-.5 .2-.5 .8-.5 2.3-.6 3.5-.4 7.5-.2 27-.1z" fill="#45aaeb" fill-rule="evenodd"/>
<path d="M310.6 22.3l33.1-.2 35 .2 5 .3 3.2 .4 1.8 .6 .4 .4 .1 .6-.3 .7-1.2 .6-2.3 .4-3.7 .3-36 .4-41.6-.3-6.2-.6-1.6-.5-.7-.8 .1-.8 .6-.5 2.3-.6 4.5-.4 7.5-.2z" fill="#44a7eb" fill-rule="evenodd"/>
<path d="M326.6 22.3l20.6-.1 31 .3 4.5 .3 3 .4 1.6 .6 .4 .8-.4 .7-1.3 .5-2.3 .4-3.5 .3-8 .2-29.5 .2-30.1-.2-8-.2-3.5-.3-2.3-.4-1.3-.5-.4-.7 .4-.8 1.1-.5 4.5-.6 7-.3 16.5-.1z" fill="#43a3ec" fill-rule="evenodd"/>
<path d="M335.6 22.3l20.1 0 22.5 .4 6.1 .6 1.6 .5 .3 .2 .2 .6-.2 .5-.3 .2-1.6 .5-5.6 .6-36.6 .5-36-.5-5.6-.6-1.6-.5-.3-.2-.2-.5 .2-.6 .3-.2 1.2-.4 5-.7 8.5-.2 22-.2z" fill="#42a0ec" fill-rule="evenodd"/>
<path d="M324.6 22.5l23.1-.1 27 .4 7 .5 1.7 .5 .4 .2 .3 .6-.3 .5-1.2 .5-2.4 .4-3.5 .2-10.5 .3-24.1 .2-24-.2-10-.3-3.5-.2-2.4-.4-1.2-.5-.3-.5 .3-.6 1.1-.4 3.5-.6 7-.3 12-.2z" fill="#3f9aed" fill-rule="evenodd"/>
<path d="M336.1 22.5l19.6 .1 18 .4 6.6 .5 1.6 .5 .4 .6-.4 .5-1.6 .5-5.6 .5-13.5 .3-18.5 .2-19.1-.2-13.5-.3-5.6-.5-1.6-.5-.4-.5 .4-.6 1.2-.4 5-.5 10.5-.4 16.5-.2z" fill="#3c94ed" fill-rule="evenodd"/>
<path d="M324.1 22.8l22.1-.2 23 .3 9 .6 2 .5 .4 .6-.4 .5-1.5 .4-5.5 .5-14.5 .4-16 .1-16.1-.1-15-.4-5.5-.5-1.5-.4-.4-.5 .4-.6 .7-.2 3.3-.5 15.5-.5z" fill="#3a8dee" fill-rule="evenodd"/>
<path d="M331.1 22.8l18.6-.1 20 .4 7 .5 2 .4 .5 .6-.5 .5-1 .2-6 .6-11.5 .3-17.5 .2-17.6-.1-12-.4-6-.6-1-.2-.5-.5 .5-.6 .9-.2 4.1-.5 20-.5z" fill="#3787ef" fill-rule="evenodd"/>
<path d="M321.6 23l22.1-.2 22 .3 9 .5 2.6 .4 .7 .6-.7 .5-1 .2-6.1 .6-12 .3-15.5 .1-15.6-.1-12.5-.3-6.1-.6-1-.2-.7-.5 .7-.6 2.9-.5 11.2-.5z" fill="#3581f0" fill-rule="evenodd"/>
<path d="M325.6 23l20.1-.1 19.5 .3 9 .5 1.8 .3 .8 .5-.8 .6-1.2 .2-5.1 .5-12.5 .3-14.5 .1-14.6-.1-12.5-.3-5.6-.5-1.2-.2-.8-.5 .8-.6 3.4-.5 13.4-.5z" fill="#327bf0" fill-rule="evenodd"/>
<path d="M330.6 23l17.1 0 17 .2 8.5 .6 1.6 .2 .7 .3 .2 .3-.2 .2-.7 .3-1.4 .2-5.2 .4-10.5 .3-15 .2-15.6-.2-10.5-.3-5.2-.4-1.4-.2-.7-.3-.2-.2 .2-.3 .8-.3 4-.5 16.5-.5z" fill="#3074f1" fill-rule="evenodd"/>
<path d="M339.1 23l15.6 .1 12 .3 5.5 .4 1.5 .3 .7 .2 .2 .3-.4 .3-1.5 .3-5.5 .5-10.5 .3-14 .1-14.6-.1-10.5-.3-5.5-.5-1.5-.3-.4-.3 .4-.4 1.5-.3 5-.4 22-.5z" fill="#2d6ef2" fill-rule="evenodd"/>
<path d="M325.1 23.3l18.1-.2 18 .2 9.5 .5 1.8 .2 .9 .3 .2 .3-.2 .2-1.7 .4-5.5 .4-24.1 .4-23.5-.4-5.5-.4-1.7-.4-.2-.2 .2-.3 .9-.3 2.3-.3 10.5-.4z" fill="#2a68f3" fill-rule="evenodd"/>
<path d="M328.1 23.3l17.1-.1 16 .2 8.1 .4 2.1 .2 .9 .3 .3 .3-.3 .2-1.1 .3-5.8 .5-22.7 .3-23.1-.3-5.5-.4-1.6-.4-.3-.2 .3-.3 .9-.3 2.7-.3 12-.4z" fill="#2861f3" fill-rule="evenodd"/>
<path d="M332.6 23.3l15.1-.1 14 .3 7.5 .4 2.1 .4 .3 .3-.3 .2-1.1 .3-6 .4-22.1 .4-22-.4-5.5-.4-1.1-.3-.3-.2 .3-.3 1.1-.3 3-.3 15-.4z" fill="#255bf4" fill-rule="evenodd"/>
<path d="M323.6 23.5l16-.2 17.6 .1 9.5 .4 2.5 .2 1.1 .3 .4 .3-.4 .2-1.2 .3-5.4 .4-21 .3-21.6-.3-5.4-.4-1.2-.3-.4-.2 .4-.3 2.1-.4 7-.4z" fill="#2355f5" fill-rule="evenodd"/>
<path d="M326.1 23.5l15.5-.1 16.1 .1 9 .4 2.5 .4 .5 .3-.4 .2-1.3 .3-5.3 .3-20.6 .3-20.5-.3-4.8-.3-1.3-.3-.4-.2 .4-.3 2.1-.3 8.5-.5z" fill="#204ff6" fill-rule="evenodd"/>
<path d="M329.1 23.5l14.6-.1 14 .2 8.5 .4 2.1 .3 .4 .3-.4 .2-1.5 .3-4.6 .3-19.5 .3-20.1-.3-4.6-.3-1.5-.3-.4-.2 .5-.3 3-.4 9.5-.4z" fill="#1e48f6" fill-rule="evenodd"/>
<path d="M333.1 23.5l25.6 .2 6.9 .3 1.7 .3 .4 .3-.4 .2-1.7 .3-3.9 .2-19 .3-19.6-.3-3.9-.2-1.7-.3-.4-.2 .4-.3 1.1-.2 3-.2 11.5-.4z" fill="#1b42f7" fill-rule="evenodd"/>
<path d="M325.1 23.8l13.5-.3 15.6 .1 10 .4 2 .3 .5 .3-.5 .2-1.9 .3-4.4 .2-17.2 .3-17.8-.3-4.4-.2-1.9-.3-.5-.2 .5-.3 1.9-.3 4.6-.2z" fill="#183cf8" fill-rule="evenodd"/>
<path d="M327.1 23.8l13-.2 14.6 .1 8.2 .3 2.2 .3 .6 .3-.6 .2-1.4 .2-4.5 .3-16.5 .2-17.1-.2-4.5-.3-1.4-.2-.6-.2 .6-.3 2.2-.3 5.2-.2z" fill="#1635f9" fill-rule="evenodd"/>
<path d="M330.1 23.8l24.9 0 6.4 .2 2.5 .3 .6 .2-1.3 .4-4.5 .3-16 .2-16.6-.2-4.5-.3-1.3-.3 .6-.3 2.5-.3 6.7-.2z" fill="#132ff9" fill-rule="evenodd"/>
<path d="M333.6 23.8l21.1 .1 5.5 .2 2.4 .2 .7 .3-.7 .2-4.4 .3-15.5 .3-16.1-.3-4.4-.3-.7-.2 .7-.3 2.9-.3 8.5-.2z" fill="#1129fa" fill-rule="evenodd"/>
<path d="M327.1 24l10.5-.2 12.6 .1 7.6 .1 3.4 .3 .8 .2-.8 .3-3.5 .3-15 .2-15.6-.2-3.5-.3-.8-.2 .8-.3 3.5-.3z" fill="#0e23fb" fill-rule="evenodd"/>
<path d="M329.6 24l21.6-.1 7 .3 2.4 .4-1 .2-4.2 .3-12.7 .1-13.3-.1-4.2-.3-1-.2 1-.3 4.4-.3z" fill="#0c1cfc" fill-rule="evenodd"/>
<path d="M332.6 24l19.1 0 6.1 .3 1.2 .3-1.2 .2-4.1 .2-11 .1-11.1-.1-4.6-.2-1.2-.2 1.2-.3 5.6-.3z" fill="#0916fc" fill-rule="evenodd"/>
<path d="M338.6 24l12.6 .1 4.3 .2 1.6 .3-3.9 .3-10.5 .2-11.1-.2-3.9-.3 1.9-.3 9-.3z" fill="#0610fd" fill-rule="evenodd"/>
<path d="M332.6 24.3l14.1-.1 5.8 .1 2.2 .3-2.5 .2-10.1 .2-9.8-.2-2.2-.2 2.5-.3z" fill="#0409fe" fill-rule="evenodd"/>
<path d="M337.6 24.3l9.8 0 4 .3-4 .2-5.3 0-4.7 0-4-.2 4.2-.3z" fill="#0103ff" fill-rule="evenodd"/>
</g>
<line x1="286.53" y1="17.7" x2="286.53" y2="19.2" stroke="#555" stroke-width="0.7"/>
<line x1="286.53" y1="31.4" x2="286.53" y2="29.9" stroke="#555" stroke-width="0.7"/>
<line x1="314.47" y1="17.7" x2="314.47" y2="19.2" stroke="#555" stroke-width="0.7"/>
<line x1="314.47" y1="31.4" x2="314.47" y2="29.9" stroke="#555" stroke-width="0.7"/>
<line x1="342.40" y1="17.7" x2="342.40" y2="19.2" stroke="#555" stroke-width="0.7"/>
<line x1="342.40" y1="31.4" x2="342.40" y2="29.9" stroke="#555" stroke-width="0.7"/>
<line x1="370.33" y1="17.7" x2="370.33" y2="19.2" stroke="#555" stroke-width="0.7"/>
<line x1="370.33" y1="31.4" x2="370.33" y2="29.9" stroke="#555" stroke-width="0.7"/>
<line x1="398.27" y1="17.7" x2="398.27" y2="19.2" stroke="#555" stroke-width="0.7"/>
<line x1="398.27" y1="31.4" x2="398.27" y2="29.9" stroke="#555" stroke-width="0.7"/>
<line x1="258.6" y1="24.55" x2="260.20000000000005" y2="24.55" stroke="#333" stroke-width="0.8"/>
<line x1="426.2" y1="24.55" x2="424.59999999999997" y2="24.55" stroke="#333" stroke-width="0.8"/>
<rect x="258.6" y="17.7" width="167.60" height="13.70" fill="none" stroke="#111" stroke-width="1.5"/>
<clipPath id="bf"><rect x="479.3" y="17.7" width="167.70" height="13.70"/></clipPath>
<g clip-path="url(#bf)">
<path d="M479.8 17.7l53.4 0 19.7 1.6 10 .3 10-.3 20.2-1.6 53.9 0 0 13.7-53.9 0-19.7-1.6-10-.3-10 .3-20.2 1.6-53.9 0 0-13.7 .5 0z" fill="#dbf0fa" fill-rule="evenodd"/>
<path d="M479.8 17.7l23.6 0 47.5 2.3 12.5 .2 12-.2 47.5-2.3 24.1 0 0 13.7-24.1 0-47.5-2.3-12-.2-12.5 .2-47.5 2.3-24.1 0 0-13.7 .5 0z" fill="#bae4f6" fill-rule="evenodd"/>
<path d="M493.3 19l13 0 41.6 1.4 14.5 .2 15.5-.2 44.1-1.5 7.5 0 6 .2 4.5 .4 3 .5 2.5 .7 1.5 .8 0 6.1-2 1-3.5 .8-4.5 .5-6 .3-13.5-.2-41.6-1.4-13-.1-13.5 .1-39.1 1.4-11.5 .2-7-.1-5.7-.5-4-.7-1.4-.5-1.4-.8 0-6.1 .4-.2 1.6-.8 3.1-.8 4.1-.5 4.8-.2z" fill="#a0d9f4" fill-rule="evenodd"/>
<path d="M499.8 20l10-.1 32.1 .9 23 .1 19.9-.2 31.2-.8 9.5 0 6.5 .5 4 .9 1.3 .7 .7 .8 .3 .7 .1 1.6-.2 1-.6 .7-1.2 .8-1.5 .5-4.9 .8-8 .3-9.5 0-28.1-.9-20-.1-21 .1-30.6 .9-10.5 0-5.5-.3-4.3-.5-2.7-.8-.8-.5-.7-.8-.4-1 .1-2 .4-.8 1-.7 1.9-.8 2-.4 6.5-.6z" fill="#84cef1" fill-rule="evenodd"/>
<path d="M503.3 20.7l9.5-.2 29.1 .6 39.5 0 29.1-.6 9.5 .1 5.9 .4 3.6 .8 1.1 .5 .9 .7 .3 .8 0 1-.2 1-.6 .8-.8 .5-1.5 .5-4.7 .7-7 .3-36.1-.6-38.5 0-25.1 .5-9.5 .1-5-.3-4-.5-2.7-.7-1.3-1-.3-1 .1-1.6 .4-.7 .7-.5 1.1-.5 2-.5 4.5-.6z" fill="#6ac2ee" fill-rule="evenodd"/>
<path d="M512.8 21l29.6 .4 20.5-.1 22 .1 22.1-.4 9 0 5.5 .4 3.5 .7 1.3 .7 .5 .5 .2 .5 0 1-.1 .8-.6 .7-1 .5-1.7 .5-4.6 .6-7 .2-28.6-.4-20 .1-22.5-.1-21.1 .4-8.5 0-5-.3-3.6-.5-2.3-.7-.7-.5-.3-.5-.1-1.3 .2-1 .5-.5 1.3-.7 2-.4 2.5-.4 7-.3z" fill="#54b7eb" fill-rule="evenodd"/>
<path d="M511.3 21.5l8-.2 20.6 .3 23.5-.2 22 .2 27.1-.2 5.6 .4 3.4 .6 1.5 .9 .3 .5 .1 1-.2 .8-.5 .5-.9 .5-1.8 .5-4.5 .5-6.5 .2-24.1-.3-21.5 .2-23-.2-25.6 .2-5-.2-3.3-.4-2.2-.6-.7-.4-.5-.5-.2-.8 .1-1 .3-.5 .7-.5 2.5-.8 4.8-.5z" fill="#48b0ea" fill-rule="evenodd"/>
<path d="M514.8 21.7l7.6-.1 19.5 .2 21-.2 22 .2 25.1-.1 5 .3 3.2 .5 1.4 .5 .6 .5 .2 .5 .1 .8-.3 .8-.6 .5-2.5 .7-4.6 .5-6.5 .2-19.6-.2-22 .2-23.5-.2-23.6 .1-4.5-.2-3.6-.4-2.4-.7-.8-.8 0-1.5 .4-.5 .9-.5 3-.7 4.5-.4z" fill="#47adea" fill-rule="evenodd"/>
<path d="M554.9 21.8l55.1 .2 4 .3 2.5 .6 1.2 .6 .3 .5 .1 .8-.4 .8-1.5 .7-2.7 .5-3.5 .3-7.1 .1-18.5-.1-21 .3-22-.3-18 .1-7.1-.1-3.5-.3-2.7-.5-1.5-.7-.4-.8 .2-1 1-.8 2.4-.6 3.5-.3 6.6-.2 18.5 .1 14.5-.2z" fill="#45aaeb" fill-rule="evenodd"/>
<path d="M547.9 22l16.5-.2 20 .3 22.6 0 4 .3 3 .5 1.6 .6 .4 .5 .1 .6-.3 .7-1.3 .8-2.4 .5-3.6 .3-44.1 .4-46.1-.4-3.5-.2-2.5-.5-1.6-.6-.4-.8 .2-1 .8-.6 2-.5 3-.4 7.1-.2 24.5-.1z" fill="#44a7eb" fill-rule="evenodd"/>
<path d="M552.9 22l13-.1 40.1 .4 4 .3 2.4 .4 1.6 .7 .3 .9-.3 .8-1.5 .7-2.5 .4-3 .2-42.6 .5-44.6-.4-3.5-.3-2.4-.4-1.3-.5-.6-.8 0-.5 .2-.5 .9-.5 2-.5 3.2-.4 6.1-.2 28.5-.2z" fill="#43a3ec" fill-rule="evenodd"/>
<path d="M558.9 22l46 .5 3.6 .2 2.5 .4 1.5 .7 .3 .8-.3 .7-1 .5-2.5 .5-3.5 .3-42.1 .5-42.6-.5-3.5-.3-2.5-.5-1-.5-.3-.7 .3-.8 1-.5 2.5-.5 3-.3 38.6-.5z" fill="#42a0ec" fill-rule="evenodd"/>
<path d="M552.9 22.3l14-.1 35 .5 4.1 .2 2.4 .4 1.4 .5 .3 .2 .2 .6-.2 .5-.3 .2-1.3 .5-5.6 .6-39.5 .6-40-.6-5.6-.6-1.3-.5-.3-.2-.2-.5 .3-.7 1-.5 2.1-.4 3-.2 30.5-.5z" fill="#3f9aed" fill-rule="evenodd"/>
<path d="M545.9 22.5l20-.2 33.5 .5 6.6 .5 1.6 .5 .4 .2 .3 .6-.3 .5-1.1 .5-5.5 .6-38 .6-38-.6-3.5-.2-2.5-.4-1.1-.5-.3-.5 .3-.6 1.1-.5 4-.5 6.5-.3 16-.2z" fill="#3c94ed" fill-rule="evenodd"/>
<path d="M552.9 22.5l14.5-.1 30.5 .5 6.8 .6 1.5 .5 .3 .6-.3 .5-1.5 .5-5.3 .5-36 .6-36.5-.6-5.3-.5-1.5-.5-.3-.5 .3-.6 1.3-.4 4.5-.5 27-.6z" fill="#3a8dee" fill-rule="evenodd"/>
<path d="M543.4 22.8l21.5-.3 29 .5 8.5 .5 2.2 .5 .4 .6-.4 .5-1.2 .3-5.5 .6-35 .6-34.5-.6-5.5-.6-1.2-.3-.4-.5 .4-.6 .7-.2 3.5-.5 17.5-.5z" fill="#3787ef" fill-rule="evenodd"/>
<path d="M549.9 22.8l17-.2 27.5 .5 7 .5 1.8 .4 .5 .6-.5 .5-1.3 .3-5.5 .5-33 .6-33.5-.6-5.5-.5-1.3-.3-.5-.5 .5-.6 .8-.2 4.3-.5 21.7-.5z" fill="#3581f0" fill-rule="evenodd"/>
<path d="M555.9 22.8l13 0 24.5 .4 7 .5 1.5 .3 .6 .6-.6 .5-1 .2-6 .5-31.5 .6-32-.6-6-.5-1-.2-.6-.5 .6-.6 1-.2 4.5-.5 26-.5z" fill="#327bf0" fill-rule="evenodd"/>
<path d="M543.9 23l21-.2 24.5 .4 9 .4 2.3 .4 .6 .6-.6 .5-1.2 .2-5.6 .5-30.5 .5-31-.5-5.6-.5-1.2-.2-.6-.5 .1-.3 .8-.3 3.5-.5 14.5-.5z" fill="#3074f1" fill-rule="evenodd"/>
<path d="M548.9 23l17-.1 23 .3 8.5 .5 2.1 .3 .6 .3 .2 .3-.2 .2-.6 .3-1.3 .2-5.3 .4-29.5 .5-30-.5-5.3-.4-1.3-.2-.6-.3-.2-.2 .2-.3 .7-.3 4-.5 18-.5z" fill="#2d6ef2" fill-rule="evenodd"/>
<path d="M555.4 23l14 0 20.5 .3 7 .5 1.5 .2 .7 .3 .2 .3-.4 .3-1.5 .3-5.5 .5-28.5 .4-28.5-.4-5.5-.4-1.5-.2-.7-.3-.2-.2 .4-.4 1.5-.3 4.5-.4 22-.5z" fill="#2a68f3" fill-rule="evenodd"/>
<path d="M541.9 23.3l21.5-.2 22 .2 10 .5 1.9 .2 .8 .3 .2 .3-.2 .2-.7 .2-1.5 .3-5.5 .3-27.5 .4-27.5-.4-5.5-.4-1.7-.4-.2-.2 .2-.3 .8-.3 2.4-.3 10.5-.4z" fill="#2861f3" fill-rule="evenodd"/>
<path d="M545.4 23.3l19.5-.2 20.5 .3 8.9 .4 2 .2 .9 .3 .2 .3-.2 .2-1.8 .4-5.5 .4-26.5 .4-26.5-.4-6-.4-1.8-.4-.2-.2 .2-.3 .9-.3 2.9-.3 12.5-.4z" fill="#255bf4" fill-rule="evenodd"/>
<path d="M550.9 23.3l16.5-.1 18.5 .3 7.5 .3 2 .3 .8 .2 .3 .3-.3 .2-1.8 .4-5.9 .4-25.6 .3-25.5-.4-6-.4-1.3-.3-.3-.2 .3-.3 1-.3 3.8-.3 16-.4z" fill="#2355f5" fill-rule="evenodd"/>
<path d="M562.4 23.3l25.5 .3 6 .4 1.4 .3 .3 .2-.3 .3-1.4 .3-6 .4-24.5 .3-25-.3-6-.4-1.4-.3-.3-.2 .3-.3 1.4-.3 6-.4 24-.3z" fill="#204ff6" fill-rule="evenodd"/>
<path d="M542.4 23.5l19.5-.1 20 .1 9.5 .4 2.5 .3 .8 .4-.3 .2-1.3 .3-6.2 .4-23.5 .2-24-.2-6.2-.4-1.3-.3-.3-.2 .3-.3 2.5-.4 8-.4z" fill="#1e48f6" fill-rule="evenodd"/>
<path d="M545.9 23.5l19-.1 17.5 .2 8.5 .3 2.5 .4 .4 .3-.4 .2-1.4 .3-5.6 .3-23.5 .3-23-.3-5.6-.3-1.4-.3-.4-.3 .9-.3 2.5-.3 10-.4z" fill="#1b42f7" fill-rule="evenodd"/>
<path d="M550.9 23.5l32 .1 8 .4 1.6 .3 .4 .2-.4 .3-1.6 .3-5 .3-22.5 .2-22.5-.2-5.5-.3-1.6-.3-.4-.2 .4-.3 1.6-.3 3-.2 12.5-.3z" fill="#183cf8" fill-rule="evenodd"/>
<path d="M540.9 23.8l13-.2 25.5 0 9.5 .4 2.6 .3 .5 .3-.5 .2-1.8 .3-4.8 .2-21.5 .2-22-.2-4.8-.2-1.8-.3-.5-.2 .5-.3 1.8-.3 4.3-.2z" fill="#1635f9" fill-rule="evenodd"/>
<path d="M543.4 23.8l36.5-.1 8.6 .3 2 .3 .5 .3-.5 .2-2 .3-5.6 .2-25.5 .2-16-.2-4-.3-1.6-.2-.5-.3 .5-.2 2-.3 5.6-.2z" fill="#132ff9" fill-rule="evenodd"/>
<path d="M545.9 23.8l34 0 7.2 .2 2.3 .3 .6 .3-.6 .2-2.3 .3-6.2 .2-25.5 .1-14-.2-4-.3-1.1-.4 .6-.2 2.3-.3 6.7-.2z" fill="#1129fa" fill-rule="evenodd"/>
<path d="M552.4 23.8l27.5 .1 5.6 .1 2.7 .3 .7 .3-.7 .2-2.3 .2-5.5 .2-26 .1-13-.2-3.3-.3-.7-.2 .7-.3 2.8-.3 11.5-.2z" fill="#0e23fb" fill-rule="evenodd"/>
<path d="M542.9 24l8.5-.1 26 0 6.5 .2 3.1 .2 .8 .2-.8 .3-3.3 .3-10.8 .1-26.5 0-5.5-.3-2.4-.4 .8-.2 3.6-.3z" fill="#0c1cfc" fill-rule="evenodd"/>
<path d="M545.4 24l32.5 0 6 .2 2.6 .4-1 .2-3.6 .2-8.5 .2-26.5-.1-5.5-.2-1.6-.3 1-.3 4.6-.3z" fill="#0916fc" fill-rule="evenodd"/>
<path d="M549.4 24l27.9 0 6.6 .3 1.1 .3-3.1 .3-8 .2-25 0-6.5-.3-1.1-.2 1.6-.3 6.5-.3z" fill="#0610fd" fill-rule="evenodd"/>
<path d="M544.9 24.3l31-.2 5.9 .2 1.5 .2-1.9 .3-7 .2-25-.1-4.9-.1-1.5-.2 1.9-.3z" fill="#0409fe" fill-rule="evenodd"/>
<path d="M548.4 24.3l7 0 4.1 .3-8.1 .2-3.5 0-2.6-.2 3.1-.3zM571.4 24.3l7 0 2.6 .3-2.6 .2-3.5 0-8.1-.3 4.6-.2z" fill="#0103ff" fill-rule="evenodd"/>
</g>
<line x1="507.25" y1="17.7" x2="507.25" y2="19.2" stroke="#555" stroke-width="0.7"/>
<line x1="507.25" y1="31.4" x2="507.25" y2="29.9" stroke="#555" stroke-width="0.7"/>
<line x1="535.20" y1="17.7" x2="535.20" y2="19.2" stroke="#555" stroke-width="0.7"/>
<line x1="535.20" y1="31.4" x2="535.20" y2="29.9" stroke="#555" stroke-width="0.7"/>
<line x1="563.15" y1="17.7" x2="563.15" y2="19.2" stroke="#555" stroke-width="0.7"/>
<line x1="563.15" y1="31.4" x2="563.15" y2="29.9" stroke="#555" stroke-width="0.7"/>
<line x1="591.10" y1="17.7" x2="591.10" y2="19.2" stroke="#555" stroke-width="0.7"/>
<line x1="591.10" y1="31.4" x2="591.10" y2="29.9" stroke="#555" stroke-width="0.7"/>
<line x1="619.05" y1="17.7" x2="619.05" y2="19.2" stroke="#555" stroke-width="0.7"/>
<line x1="619.05" y1="31.4" x2="619.05" y2="29.9" stroke="#555" stroke-width="0.7"/>
<line x1="479.3" y1="24.55" x2="480.90000000000003" y2="24.55" stroke="#333" stroke-width="0.8"/>
<line x1="647.0" y1="24.55" x2="645.4" y2="24.55" stroke="#333" stroke-width="0.8"/>
<rect x="479.3" y="17.7" width="167.70" height="13.70" fill="none" stroke="#111" stroke-width="1.5"/>
<clipPath id="cc0"><rect x="258.6" y="49.2" width="167.60" height="14.60"/></clipPath>
<g clip-path="url(#cc0)">
<path d="M359.7 55.2l8 0 13 .4 4 .3 1 .3 .2 .3-.2 .3-.7 .2-3.3 .4-16 .4-8-.2-2.4-.3-.8-.5 0-.6 .8-.5 4.4-.5z" fill="#dbf0fa" fill-rule="evenodd"/>
<path d="M373.7 56.5l2-.2 2.6 .2-2.6 .2-2-.2z" fill="#bae4f6" fill-rule="evenodd"/>
</g>
<clipPath id="cc1"><rect x="258.6" y="63.8" width="167.60" height="14.50"/></clipPath>
<g clip-path="url(#cc1)">
<path d="M345.2 69l11-.1 27 1 4.2 .4 .9 .3 .5 .5-.5 .5-.9 .2-3.2 .4-31 1-6 0-4.5-.4-2.4-.5-1-.7 0-1 1-.8 2.2-.5 2.7-.3z" fill="#dbf0fa" fill-rule="evenodd"/>
<path d="M364.7 70.3l5.5-.2 8 .1 4.2 .4 1.1 .2 .2 .2-.2 .3-1.1 .3-2.2 .2-9.5 .2-6.2-.2-1.4-.2-.6-.3-.1-.3 .1-.2 .6-.2 1.6-.3z" fill="#bae4f6" fill-rule="evenodd"/>
<path d="M372.2 70.8l4.5-.1 1.8 .1 .8 .2-.8 .3-3.3 .2-3.4-.2-.6-.3 1-.2z" fill="#a0d9f4" fill-rule="evenodd"/>
</g>
<clipPath id="cc2"><rect x="258.6" y="78.3" width="167.60" height="14.60"/></clipPath>
<g clip-path="url(#cc2)">
<path d="M338.1 82.6l11.1 .1 21.8 1.1 15.7 .5 3.9 .5 .6 .3 .3 .5-.3 .5-.6 .3-3.9 .5-15 .4-18.5 1-10.5 .3-7.6-.1-5.2-.4-3.1-.7-.8-.5-.4-.5-.1-1.1 .2-.7 .6-.5 1.1-.5 4.2-.7 6.5-.3z" fill="#dbf0fa" fill-rule="evenodd"/>
<path d="M357.2 84.3l7.5-.1 16 .4 4 .3 1.1 .2 .5 .2 .2 .3-.2 .3-.6 .2-3.5 .5-18 .5-7.5-.3-2.6-.4-.6-.5 0-.6 .6-.5 3.1-.5z" fill="#bae4f6" fill-rule="evenodd"/>
<path d="M365.2 84.8l5.5-.2 7.5 .2 3.8 .3 1 .2 .3 .3-.3 .3-.8 .2-2 .2-9.5 .3-5.9-.2-1.5-.3-.6-.2-.1-.3 .1-.3 .6-.2 1.9-.3z" fill="#a0d9f4" fill-rule="evenodd"/>
<path d="M370.2 85.1l7.5 0 2.3 .2 .5 .3-.5 .3-1.8 .2-4.5 .1-3.7-.1-1.6-.2-.4-.3 .4-.3 1.8-.2z" fill="#84cef1" fill-rule="evenodd"/>
<path d="M374.2 85.6l2.1 0-2.5 0 .4 0z" fill="#6ac2ee" fill-rule="evenodd"/>
</g>
<clipPath id="cc3"><rect x="258.6" y="92.9" width="167.60" height="14.60"/></clipPath>
<g clip-path="url(#cc3)">
<path d="M329.1 96.4l15.1 .3 30 1.7 14.5 .2 4.2 .6 .9 .5 .2 .5-.2 .5-.9 .5-3.7 .5-16 .3-26 1.6-12.6 .4-8-.1-6-.4-2.6-.5-1.5-.5-.9-.5-.5-.8-.1-1.5 .2-.8 .8-.7 1.1-.5 4.5-.9 7.5-.4z" fill="#dbf0fa" fill-rule="evenodd"/>
<path d="M350.2 98.4l8.5-.1 24.5 .7 4.4 .4 .8 .3 .4 .5-.4 .5-.8 .3-3.4 .4-26.5 .7-5 0-4-.3-2.1-.3-.7-.3-.6-.5 0-1 .6-.5 1.8-.5 2.5-.3z" fill="#bae4f6" fill-rule="evenodd"/>
<path d="M360.7 98.9l7 0 13 .3 4 .4 .9 .3 .1 .3-.1 .3-.6 .2-3.3 .4-15.5 .4-7.5-.2-2.3-.3-.8-.5 0-.6 .8-.5 4.3-.5z" fill="#a0d9f4" fill-rule="evenodd"/>
<path d="M367.7 99.2l12 .2 2.6 .3 .9 .2 .2 .3-.2 .3-.9 .2-2.1 .3-10.5 .2-6.6-.2-1.3-.3-.5-.2-.1-.3 .1-.3 .5-.2 1.3-.3 4.6-.2z" fill="#84cef1" fill-rule="evenodd"/>
<path d="M370.2 99.4l8 .2 2.5 .3 .7 .3-.3 .3-1.9 .3-6.5 .2-5.5-.2-1.8-.3-.2-.3 .2-.3 .9-.2 3.9-.3z" fill="#6ac2ee" fill-rule="evenodd"/>
<path d="M371.2 99.7l5.5 0 2.2 .2 .6 .3-.6 .3-1.2 .1-4 .2-3.5-.2-1.4-.1-.4-.3 .4-.3 2.4-.2z" fill="#54b7eb" fill-rule="evenodd"/>
<path d="M373.7 99.9l3.2 .3-2.7 .3-2.3-.3 1.8-.3z" fill="#48b0ea" fill-rule="evenodd"/>
</g>
<clipPath id="cc4"><rect x="258.6" y="107.5" width="167.60" height="14.60"/></clipPath>
<g clip-path="url(#cc4)">
<path d="M298.1 108.5l10.5-.1 12.5 .5 14 1 24 2.1 7.6 .4 7.4-.1 24.1-1.6 10 0 4.5 .5 2.9 .8 .9 .5 .6 .8 .2 .7 .1 1.3-.2 .8-.5 .7-1.5 .9-3 .8-4 .4-10 0-24.1-1.6-7.9-.1-7.1 .4-33 2.8-10 .6-8.5 .2-10-.1-8.1-.8-2.6-.5-2.4-.7-1.8-1-.8-1-.3-1.5 .1-2.6 .7-1.2 1.5-1 2.2-.8 3.4-.7 8.6-.8z" fill="#dbf0fa" fill-rule="evenodd"/>
<path d="M322.1 110.5l6 0 7.5 .2 23 1.6 8.1 .3 7.5-.1 17-.8 7.5 .1 3.5 .3 2.8 .7 .8 .5 .4 .5 .2 1.3-.4 1-1.3 .8-2.5 .6-3.5 .3-7.5 .1-17-.8-8-.1-7.6 .3-20 1.4-11.5 .4-7.5-.1-5.5-.6-3.2-.8-1.2-.8-.5-.7-.1-1.3 .1-1.3 .5-.7 1.2-.8 1.6-.5 2.6-.5 7-.5z" fill="#bae4f6" fill-rule="evenodd"/>
<path d="M330.1 111.5l11 0 25.6 1.3 5 0 15.5-.6 6.5 .1 3 .2 2.5 .6 1 .7 .2 .5 .1 .8-.3 .7-1.3 .8-2.3 .5-2.9 .2-6.5 .1-15.5-.6-5.5 0-21.5 1.1-8.1 .3-6.5-.1-4.5-.4-3.1-.9-.7-.5-.4-.5-.1-1 .1-1 .4-.5 .7-.5 2.6-.8 5-.5z" fill="#a0d9f4" fill-rule="evenodd"/>
<path d="M336.6 112l8.6 0 22 .9 17.5-.4 5.5 .1 3 .3 2 .4 1.2 .7 .2 1.1-.4 .7-1 .5-2 .4-3 .3-5.5 .1-18-.4-25.1 1-5.5-.1-4-.4-2.3-.6-.8-.5-.3-.5 0-1.6 .3-.5 .8-.5 2.8-.6 4-.4z" fill="#84cef1" fill-rule="evenodd"/>
<path d="M338.6 112.5l8.6-.2 21 .7 19-.2 3.1 .2 1.9 .4 1.3 .6 .3 .8-.1 .5-.5 .5-1.4 .5-2.6 .4-4 .2-17.5-.3-18.5 .6-7.1 .1-3.6-.2-2.4-.4-1.4-.4-1-.7-.1-1.3 .6-.8 1.4-.5 3-.5z" fill="#6ac2ee" fill-rule="evenodd"/>
<path d="M342.1 112.8l6.6-.2 18 .5 18.5-.1 3 .2 1.9 .3 1.1 .5 .3 .8-.3 .8-1.5 .6-2.5 .3-4 .2-16-.2-21.5 .5-5.9-.4-1.7-.5-.7-.5-.2-.5 0-.8 .9-.8 1.7-.5 2.3-.2z" fill="#54b7eb" fill-rule="evenodd"/>
<path d="M348.2 112.8l19 .3 17 0 2.5 .2 2 .4 .9 .6 .1 .5-.4 .8-1.4 .5-2.7 .3-4 .1-13.5 0-20 .3-5.6-.5-1.5-.5-.5-.5 0-1 1.1-.8 2.5-.5 4.5-.2z" fill="#48b0ea" fill-rule="evenodd"/>
<path d="M347.7 113l5.5-.1 13.5 .3 16 0 4.4 .6 1 .5 .1 .5-.1 .5-.4 .3-1.7 .5-6.3 .3-12 0-18.5 .2-4.5-.4-1.6-.4-.7-.5 0-1 .7-.5 2-.5 2.6-.3z" fill="#47adea" fill-rule="evenodd"/>
<path d="M348.2 113.3l6-.2 27 .2 4.4 .5 1.1 .5 .2 .5-.2 .5-.4 .3-1.1 .3-2.5 .3-4 .1-27.5 .2-5-.4-1-.3-.8-.5-.1-.8 .4-.5 1.4-.5 2.1-.2z" fill="#45aaeb" fill-rule="evenodd"/>
<path d="M350.7 113.3l5.5-.1 24 .2 4 .4 1.4 .5 .2 .5-.2 .5-.9 .4-3.5 .5-24.5 .2-5 0-3-.3-2-.4-.8-.6 .2-.8 .9-.5 3.7-.5z" fill="#44a7eb" fill-rule="evenodd"/>
<path d="M354.2 113.3l25.5 .2 4 .5 .8 .3 .3 .5-.3 .5-.5 .3-3.8 .5-22 .2-8.1-.2-2.2-.5-.5-.5 .1-.8 1.2-.5 2-.3 3.5-.2z" fill="#43a3ec" fill-rule="evenodd"/>
<path d="M352.2 113.5l6-.2 20 .2 4.5 .5 .9 .3 .3 .5-.3 .5-1.8 .5-7.6 .4-20 0-4.1-.4-.8-.2-.7-.5 0-.6 .7-.5 2.9-.5z" fill="#42a0ec" fill-rule="evenodd"/>
<path d="M356.2 113.5l21 .1 4 .4 .7 .3 .4 .5-.4 .5-2.2 .5-7 .3-16.8 0-3.7-.4-1.2-.4-.3-.2 0-.6 .9-.5 4.6-.5z" fill="#3f9aed" fill-rule="evenodd"/>
<path d="M355.7 113.8l6-.2 14 .1 3.8 .3 1 .3 .5 .5-.5 .5-1.8 .4-7.5 .3-14-.1-3.5-.3-1.2-.5 0-.6 .3-.2 2.9-.5z" fill="#3c94ed" fill-rule="evenodd"/>
<path d="M358.2 113.8l7-.1 9.8 .1 3.7 .4 1 .3 .1 .3-.1 .3-.5 .2-3 .4-11.5 .2-8-.2-2.3-.4-.5-.5 .5-.5 .8-.2 3-.3z" fill="#3a8dee" fill-rule="evenodd"/>
<path d="M360.7 113.8l14 .1 3.3 .4 .6 .2 .2 .3-.2 .3-.6 .2-2.3 .3-10 .3-8-.3-1.8-.3-.5-.2-.2-.3 .2-.3 .5-.2 .8-.2 4-.3z" fill="#3787ef" fill-rule="evenodd"/>
<path d="M359.2 114l5.5-.2 8.5 .1 3.8 .4 .7 .2 .1 .3-.1 .3-.7 .2-1.8 .3-9 .2-7.5-.2-1.5-.3-.7-.2-.1-.3 .1-.3 .7-.2 2-.3z" fill="#3581f0" fill-rule="evenodd"/>
<path d="M360.7 114l5.5-.1 6.5 .1 3.2 .3 .9 .2 .2 .3-.2 .3-.9 .2-1.7 .2-7.5 .2-6.5-.2-1.8-.2-.8-.2-.1-.3 .1-.3 .8-.2 2.3-.3z" fill="#327bf0" fill-rule="evenodd"/>
<path d="M362.2 114l10 0 2.7 .3 1 .2 .2 .3-.2 .3-.7 .2-1.5 .1-6.5 .3-6.5-.3-1.5-.2-.8-.4 .2-.3 .9-.2 2.7-.3z" fill="#3074f1" fill-rule="evenodd"/>
<path d="M364.7 114l8 .2 2 .2 .6 .4-.2 .3-1.9 .3-6 .2-6-.2-1.6-.3-.2-.3 .2-.3 1-.2 4.1-.3z" fill="#2d6ef2" fill-rule="evenodd"/>
<path d="M362.2 114.3l4-.2 4.5 0 2.5 .2 1 .2 .4 .3-.4 .3-1.3 .2-5.7 .2-5.4-.2-1.3-.2-.3-.3 .3-.3 1.7-.2z" fill="#2a68f3" fill-rule="evenodd"/>
<path d="M363.2 114.3l7.5-.1 2.5 .3 .6 .3-.4 .3-1.6 .2-4.6 .1-4.2-.1-1.5-.2-.4-.3 .4-.3 1.7-.2z" fill="#2861f3" fill-rule="evenodd"/>
<path d="M364.7 114.3l5.7 0 2.2 .2 .5 .3-.5 .3-1.4 .1-3.5 .2-4-.2-1.3-.1-.4-.3 .4-.3 2.3-.2z" fill="#255bf4" fill-rule="evenodd"/>
<path d="M363.7 114.5l5-.2 3 .2 .6 .3-1.1 .3-3.5 .2-3.5-.2-1.4-.3 .9-.3z" fill="#2355f5" fill-rule="evenodd"/>
<path d="M364.7 114.5l4.5-.1 1.4 .1 .8 .3-.8 .3-2.9 .1-3-.1-.9-.3 .9-.3z" fill="#204ff6" fill-rule="evenodd"/>
<path d="M366.2 114.5l2.9 0 1.3 .3-2.7 .3-1.6 0-1.3-.3 1.4-.3z" fill="#1e48f6" fill-rule="evenodd"/>
<path d="M366.7 114.8l2.1 0-2.3 0 .2 0z" fill="#1b42f7" fill-rule="evenodd"/>
</g>
<clipPath id="cc5"><rect x="258.6" y="122.1" width="167.60" height="14.60"/></clipPath>
<g clip-path="url(#cc5)">
<path d="M288.1 122.8l10.5-.1 13 .5 14 1 23.2 2.2 9.9 .5 8.5-.3 24.5-2.1 12.5-.8 11.5-.3 8.5 .3 2 .2 0 11-4 .3-5 .2-11.5-.2-14-.9-24.5-2.1-8.5-.3-9.9 .5-23.2 2.2-12.5 .9-11.5 .5-10 .1-7.7-.4-6.3-.9-3.7-1.1-1.3-.8-.9-1-.4-1.5 .1-2.8 .7-1.2 1.3-1 2.6-1 3.1-.7 4-.5 5-.4z" fill="#dbf0fa" fill-rule="evenodd"/>
<path d="M309.6 124.9l7-.1 8 .2 27.5 1.9 7.2 .2 8-.2 24.4-1.7 7-.1 6 0 5.3 .5 2.4 .5 1.4 .5 .8 .5 .7 .8 .2 .7 0 1.3-.2 1-.7 .8-2.2 1-4.4 .7-6.8 .3-11-.2-22.9-1.6-8-.2-7.2 .2-26.5 1.9-7.5 .2-6.5 0-5.5-.3-4-.6-2.9-.9-.7-.5-.6-.8-.2-1 .1-1.8 .5-.7 .9-.8 1.9-.7 2-.4 6.5-.6z" fill="#bae4f6" fill-rule="evenodd"/>
<path d="M317.6 125.9l5.5-.2 7 .1 23.8 1.3 5.8 .2 5.8-.2 20.7-1.1 10-.1 5 .4 3 .8 1 .5 .4 .5 .3 1.6-.2 .7-.5 .8-2 .9-3.7 .6-5.8 .2-8.5-.1-19.7-1.1-6.3-.2-5.3 .2-22.3 1.3-10.5 .1-4.5-.2-3.2-.5-2.5-.7-.7-.5-.4-.5-.2-.8 0-1.3 .3-.7 .6-.5 1-.5 1.9-.5 4.2-.5z" fill="#a0d9f4" fill-rule="evenodd"/>
<path d="M324.1 126.4l10-.1 17.3 .8 8.3 .3 23-1 8.5 0 4 .3 3 .7 1.2 .7 .3 .5 .1 1.1-.2 .7-.4 .5-1.8 .8-3.2 .5-5.5 .3-7.5-.2-21.5-.9-8.3 .3-16.3 .8-8.5 .1-4-.3-2.8-.4-2.2-.7-.8-.8-.1-1.8 .3-.5 .6-.5 2.2-.7 4.3-.5z" fill="#84cef1" fill-rule="evenodd"/>
<path d="M330.1 126.6l8 0 21.1 .8 21.5-.7 7.5 .1 3.8 .3 2.1 .5 1.1 .8 .3 1.3-.1 .5-.4 .5-1.8 .7-3.3 .5-5.2 .2-25-.7-21.6 .8-7.5 0-4-.3-2.5-.4-1.7-.6-.7-.7 0-1.6 .3-.5 .9-.5 2.7-.6 4.5-.4z" fill="#6ac2ee" fill-rule="evenodd"/>
<path d="M333.6 126.9l7 0 18.6 .6 19-.5 7 0 3.5 .3 2.4 .6 1 .7 .1 1.1-.1 .5-.5 .5-1.9 .6-3 .4-4.5 .2-22.5-.6-19.1 .6-7 0-5.6-.5-1.7-.5-1-.7-.1-.8 .1-.8 1-.7 2.8-.7 4.5-.3z" fill="#54b7eb" fill-rule="evenodd"/>
<path d="M335.1 127.1l6.5 0 18.1 .5 17-.5 6 .1 3 .2 2.5 .5 1.3 .7 .1 1.1-.1 .5-.7 .5-1.6 .5-3 .3-4.5 .2-20-.5-18.1 .5-6 0-5.3-.5-1.5-.5-.7-.8 .1-1.3 1.2-.7 2.4-.5 3.3-.3z" fill="#48b0ea" fill-rule="evenodd"/>
<path d="M335.6 127.4l7.1-.2 17 .4 15.5-.3 5.5 0 5 .6 1.3 .5 .5 .5 0 .5 0 .5-.5 .5-1.3 .5-3 .4-4.5 .2-18.5-.3-16 .4-6.1-.1-3-.2-2.5-.4-1.2-.5-.5-.5 0-1 .9-.8 2-.5 2.3-.2z" fill="#47adea" fill-rule="evenodd"/>
<path d="M340.1 127.4l19.1 .3 15-.3 5.5 .1 3 .3 1.8 .3 1 .5 .2 .8 0 .5-.6 .5-1.6 .5-2.8 .3-4 .2-17-.3-20.1 .3-5.2-.5-1.5-.5-.5-.5 0-1 1.1-.8 2.5-.5 4.1-.2z" fill="#45aaeb" fill-rule="evenodd"/>
<path d="M339.1 127.6l6.1-.1 14.5 .2 18-.1 3 .2 2.1 .3 1.1 .5 .3 .8-.3 .8-1.7 .6-3 .4-3.5 .1-16-.2-19.1 .2-4.5-.5-1.4-.4-.6-.5 0-1 .6-.5 1.8-.5 2.6-.3z" fill="#44a7eb" fill-rule="evenodd"/>
<path d="M342.1 127.6l17.1 .2 17.5-.1 4.5 .4 1.3 .5 .4 .8-.4 .8-1.3 .5-3 .3-4.5 .2-13.5-.2-18.6 .2-4.6-.5-1.2-.5-.4-.5 .1-.8 1.1-.6 2-.4 3.5-.3z" fill="#43a3ec" fill-rule="evenodd"/>
<path d="M340.6 127.9l5.6-.2 29.5 .1 3 .2 2 .4 .8 .5 .2 .5-.2 .5-.3 .3-1.5 .5-2.5 .3-4 .1-30 0-4.6-.4-1-.3-.8-.5-.1-.8 .4-.5 1.5-.5 2-.2z" fill="#42a0ec" fill-rule="evenodd"/>
<path d="M344.7 127.9l29.5 0 4.2 .5 1.1 .5 .2 .5-.2 .5-.4 .3-1.4 .4-3 .3-4 .1-26-.1-4.6-.5-.7-.2-.6-.5 .2-.8 1-.5 4.7-.5z" fill="#3f9aed" fill-rule="evenodd"/>
<path d="M344.2 128.1l5.5-.2 22.5 .1 4.2 .4 1.4 .5 .2 .5-.2 .5-1.6 .5-3 .4-4 .1-23-.1-4.1-.4-.8-.2-.7-.5 0-.6 .7-.5 2.9-.5z" fill="#3c94ed" fill-rule="evenodd"/>
<path d="M346.7 128.1l24.5 0 4 .4 1.1 .4 .3 .5-.3 .5-1.7 .5-6.9 .4-20.5-.1-3.5-.4-1-.3-.6-.3 0-.6 .8-.5 3.8-.5z" fill="#3a8dee" fill-rule="evenodd"/>
<path d="M349.7 128.1l21 .1 3.6 .4 .7 .3 .4 .5-.4 .5-.7 .3-3.1 .4-17 .1-8.5-.3-2-.5-.3-.5 .3-.5 1-.3 5-.5z" fill="#3787ef" fill-rule="evenodd"/>
<path d="M347.7 128.4l6-.2 15 0 4.3 .4 .8 .3 .5 .5-.5 .5-1.6 .4-6.5 .3-16 0-3.5-.4-1.3-.3-.3-.2 0-.6 .3-.2 2.8-.5z" fill="#3581f0" fill-rule="evenodd"/>
<path d="M349.2 128.4l6.5-.2 12.5 .1 3.7 .3 .9 .3 .5 .5-.1 .3-.5 .2-3 .5-11.5 .2-9.5-.2-2.7-.5-.5-.5 .5-.5 .7-.2 2.5-.3z" fill="#327bf0" fill-rule="evenodd"/>
<path d="M351.2 128.4l9-.1 7.8 .1 3.2 .3 .6 .2 .6 .5-.6 .5-2.6 .4-10 .2-9.5-.2-2.7-.4-.6-.5 .6-.5 .7-.2 3.5-.3z" fill="#3074f1" fill-rule="evenodd"/>
<path d="M352.7 128.4l14.5 0 3.5 .4 .8 .3 .1 .3-.1 .3-.5 .2-2.3 .4-9.5 .2-9-.2-2.3-.4-.5-.2-.1-.3 .4-.4 1-.3 4-.3z" fill="#2d6ef2" fill-rule="evenodd"/>
<path d="M355.2 128.4l12 .1 2.9 .4 .6 .2 .1 .3-.1 .3-.6 .2-1.9 .3-9 .2-8.5-.2-1.9-.3-.6-.2-.2-.3 .2-.3 .6-.2 1.4-.3 5-.2z" fill="#2a68f3" fill-rule="evenodd"/>
<path d="M351.7 128.6l6-.2 8 .1 3.6 .4 .7 .2 .1 .3-.1 .3-.7 .2-1.7 .3-8.4 .2-8-.2-1.6-.3-.7-.2-.1-.3 .1-.3 .7-.2 2.1-.3z" fill="#2861f3" fill-rule="evenodd"/>
<path d="M352.7 128.6l6-.1 6.5 .1 3.3 .3 .8 .2 .2 .3-.2 .3-.8 .2-1.8 .2-7.5 .2-7-.2-1.8-.2-.8-.2-.1-.3 .1-.3 .8-.2 2.3-.3z" fill="#255bf4" fill-rule="evenodd"/>
<path d="M353.7 128.6l5.5-.1 6 .1 2.6 .3 .8 .2 .2 .3-.2 .3-.8 .2-1.6 .2-6.5 .2-7-.2-1.6-.2-.8-.2-.2-.3 .2-.3 .8-.2 2.6-.3z" fill="#2355f5" fill-rule="evenodd"/>
<path d="M354.7 128.6l9.6 0 2.8 .3 .9 .2 .2 .3-.5 .4-1.5 .2-6.5 .2-6.5-.1-1.5-.2-.8-.2-.2-.3 .2-.3 1-.2 2.8-.3z" fill="#204ff6" fill-rule="evenodd"/>
<path d="M356.2 128.6l8.5 .1 2 .3 .7 .1 .2 .3-.2 .3-1.7 .3-6 .2-6.5-.2-1.6-.3-.3-.3 .3-.3 1-.2 3.6-.3z" fill="#1e48f6" fill-rule="evenodd"/>
<path d="M359.2 128.6l6 .3 1.6 .2 .3 .3-.3 .3-1.2 .2-5.9 .3-6-.3-1.5-.2-.3-.3 .3-.3 1.5-.2 5.5-.3z" fill="#1b42f7" fill-rule="evenodd"/>
<path d="M354.2 128.9l4-.2 4.5 .1 2.5 .1 1 .2 .3 .3-.3 .3-1.4 .2-5.1 .2-5.6-.2-1.3-.2-.3-.3 .3-.3 1.4-.2z" fill="#183cf8" fill-rule="evenodd"/>
<path d="M355.2 128.9l7.5-.1 2.5 .3 .8 .3-.4 .3-1.6 .2-4.3 .2-4.7-.2-1.6-.2-.4-.3 .4-.3 1.8-.2z" fill="#1635f9" fill-rule="evenodd"/>
<path d="M356.2 128.9l6.5 0 2.3 .2 .4 .3-.4 .3-1.3 .1-4 .2-4-.1-1.7-.2-.4-.3 .4-.3 2.2-.2z" fill="#132ff9" fill-rule="evenodd"/>
<path d="M357.2 128.9l5 0 2.2 .2 .5 .3-.5 .3-1.2 .1-3.5 .2-4-.2-1.1-.1-.4-.3 .4-.3 2.6-.2z" fill="#1129fa" fill-rule="evenodd"/>
<path d="M355.7 129.1l5.5-.2 2.5 .2 .6 .3-1.1 .3-3.5 .2-3.5-.1-1.5-.4 1-.3z" fill="#0e23fb" fill-rule="evenodd"/>
<path d="M356.2 129.1l4.5-.1 2.3 .1 .7 .3-1 .3-3 .1-3.5-.1-.8-.3 .8-.3z" fill="#0c1cfc" fill-rule="evenodd"/>
<path d="M357.2 129.1l4 0 1.8 .3-.8 .3-2.5 .1-2.8-.1-.9-.3 1.2-.3z" fill="#0916fc" fill-rule="evenodd"/>
<path d="M358.2 129.1l2.8 0 1.3 .3-2.6 .3-1.7 0-1.2-.3 1.4-.3z" fill="#0610fd" fill-rule="evenodd"/>
<path d="M358.2 129.3l3.1 .1-1.6 .2-2-.2 .5-.1z" fill="#0409fe" fill-rule="evenodd"/>
</g>
<clipPath id="cc6"><rect x="258.6" y="136.7" width="167.60" height="14.60"/></clipPath>
<g clip-path="url(#cc6)">
<path d="M279.1 137.5l11-.2 13 .5 14 1 23.2 2.2 10.4 .5 7.6-.3 26.9-2.4 15.5-1.1 13.5-.3 11 .3 1 .1 0 12.4-10.5 .4-14-.3-14-.9-29.4-2.6-7.6-.3-10.4 .5-23.2 2.2-13 .9-11.5 .5-10 .1-7.5-.4-6-.8-3.9-1.2-1.2-.8-.9-1-.4-1.5 .1-2.8 .7-1.2 1.2-1 2.4-1 3-.7 4-.5 5-.3z" fill="#dbf0fa" fill-rule="evenodd"/>
<path d="M300.6 139.5l7-.2 8.5 .3 27.6 1.9 7.5 .2 7.1-.2 27.4-1.9 8-.2 7 .1 5.8 .5 2.5 .5 1.5 .5 .9 .5 .7 .7 .3 .8 .1 1.5-.2 1-.6 .8-1.2 .7-1.5 .5-4.8 .8-7.5 .3-12.5-.3-25.9-1.8-7.1-.2-7.5 .2-27.1 1.9-7.5 .3-6.5-.1-5-.3-4-.5-2.6-.8-.9-.5-.7-.7-.3-1 0-2.1 .5-.7 .9-.8 1.6-.6 2-.5 6.5-.6z" fill="#bae4f6" fill-rule="evenodd"/>
<path d="M308.6 140.5l5.5-.3 7 .1 24.5 1.4 5.6 .1 5.3-.1 23.2-1.3 11-.1 5 .4 3.3 .8 1 .5 .6 .5 .3 .7 0 1.1-.1 .7-.5 .8-.7 .5-1.4 .5-4 .6-6 .3-9.5-.1-22.2-1.3-5.3-.1-5.6 .1-22.5 1.3-10.5 .1-4.5-.2-3.5-.5-2.4-.7-1-.8-.3-.7 0-1.6 .3-.7 .5-.5 1-.5 1.9-.5 4-.5z" fill="#a0d9f4" fill-rule="evenodd"/>
<path d="M315.1 140.9l4.5-.1 6 0 17.4 .9 8.2 .3 7.8-.3 16.7-.8 9.5 0 4.3 .3 3 .8 .9 .5 .4 .5 .1 1.3-.1 .7-.4 .5-.9 .5-1.3 .4-4 .6-5 .2-7.5-.1-15.7-.8-7.8-.3-8.2 .3-16.4 .8-9 .1-3.5-.2-3.1-.5-2.2-.7-.7-.8-.1-1.8 .2-.5 .6-.5 2.2-.7 4.1-.6z" fill="#84cef1" fill-rule="evenodd"/>
<path d="M320.6 141.2l8 0 22.6 .8 22-.8 8 0 4 .4 2.6 .6 1.1 .8 .2 1.3-.2 .7-.6 .5-2.1 .7-3.5 .5-5 .2-26.5-.9-22.1 .8-7.5 0-3.5-.2-2.5-.4-2.1-.7-.6-.7 0-1.6 .3-.5 .8-.5 2.6-.6 4-.4z" fill="#6ac2ee" fill-rule="evenodd"/>
<path d="M324.1 141.5l7 0 20.1 .6 20-.6 7 0 3.5 .3 2.5 .6 1 .6 .3 .5 0 .8-.1 .5-.5 .5-2.1 .7-3.1 .4-4.5 .2-24-.7-20.1 .6-6.5 0-5.5-.5-1.7-.5-.9-.7-.1-.8 .1-.8 .9-.7 2.7-.7 4-.3z" fill="#54b7eb" fill-rule="evenodd"/>
<path d="M325.6 141.7l7 0 18.6 .5 18-.5 6.5 0 3.4 .3 2.3 .5 1.1 .7 .2 1.1-.2 .5-.3 .3-1.7 .7-3.3 .4-4.5 .2-21.5-.6-18.1 .5-6 0-3.5-.2-2.2-.3-1.4-.5-.6-.5-.1-1.3 .7-.8 2.1-.6 3.5-.4z" fill="#48b0ea" fill-rule="evenodd"/>
<path d="M326.6 142l7-.2 17.6 .4 16.5-.4 6 .1 3.5 .3 2 .4 1 .6 .2 1.1-.2 .5-.7 .5-1.9 .5-2.9 .3-4.5 .1-19-.4-16.6 .4-6-.1-5-.5-1.1-.3-.9-.8 0-1 .9-.8 1.8-.5 2.3-.2z" fill="#47adea" fill-rule="evenodd"/>
<path d="M330.6 142l20.6 .3 20.5-.3 3.3 .2 2.2 .5 1 .5 .3 .8-.1 .5-.5 .5-1.4 .5-2.8 .4-4.5 .2-18-.4-20.6 .3-5.1-.5-1.4-.5-.5-.5 0-1 1-.8 2.4-.5 3.6-.2z" fill="#45aaeb" fill-rule="evenodd"/>
<path d="M329.6 142.2l5-.1 16.1 .2 19.5-.2 3 .2 2.3 .4 1 .5 .3 .8-.3 .8-1.8 .7-3 .3-4 .1-16.5-.2-19.1 .2-4.6-.4-1.7-.5-.6-.5 0-1 .6-.5 1.7-.5 2.1-.3z" fill="#44a7eb" fill-rule="evenodd"/>
<path d="M332.6 142.2l18.6 .2 18-.2 4.6 .5 1.2 .5 .4 .8-.4 .8-1.8 .6-3 .3-4 .1-14.5-.2-19.1 .2-4.5-.5-1.2-.5-.3-.5 .1-.8 .9-.6 1.9-.4 3.1-.3z" fill="#43a3ec" fill-rule="evenodd"/>
<path d="M331.6 142.5l5.5-.3 13.6 .2 17-.1 3 .2 2 .3 1 .4 .3 .3 .1 .5-.1 .5-.3 .3-1.4 .5-2.6 .3-4 .1-14.5-.1-16.6 .1-5-.4-.9-.3-.7-.5-.1-.8 .3-.5 1.4-.5 2-.2z" fill="#42a0ec" fill-rule="evenodd"/>
<path d="M335.1 142.5l31.1 0 4.6 .5 1 .5 .2 .5-.2 .5-.3 .3-1.8 .5-6.5 .3-27.6-.1-4-.4-1.1-.3-.5-.5 .1-.8 1-.5 4-.5z" fill="#3f9aed" fill-rule="evenodd"/>
<path d="M335.1 142.7l5.5-.2 23.6 .1 4.6 .4 1.2 .5 .3 .5-.3 .5-.4 .3-1.4 .3-6.5 .4-24.6-.1-3.9-.4-.8-.2-.6-.5 0-.6 .6-.5 2.7-.5z" fill="#3c94ed" fill-rule="evenodd"/>
<path d="M337.6 142.7l25.6 0 4 .3 1.3 .5 .3 .5-.3 .5-1.6 .5-2.7 .3-4.5 .1-21.1-.1-3.6-.3-1-.2-.7-.5 0-.6 .7-.5 3.6-.5z" fill="#3a8dee" fill-rule="evenodd"/>
<path d="M340.1 142.7l22.1 0 4.3 .5 .7 .3 .3 .5-.3 .5-1.9 .5-6.6 .3-19.1-.1-3.5-.3-1-.3-.5-.3 0-.6 .8-.5 4.7-.5z" fill="#3787ef" fill-rule="evenodd"/>
<path d="M344.7 142.7l17.5 .2 3 .3 .8 .3 .4 .5-.4 .5-.8 .3-3 .3-15 .2-8.9-.3-2.3-.5-.4-.5 .4-.5 2.1-.5 6.6-.3z" fill="#3581f0" fill-rule="evenodd"/>
<path d="M340.1 143l6.6-.2 13.5 .1 3.8 .3 .9 .3 .5 .5-.5 .5-1.7 .4-6.5 .3-15.1-.1-3.7-.3-1.2-.5 0-.6 .4-.2 3-.5z" fill="#327bf0" fill-rule="evenodd"/>
<path d="M341.6 143l7.6-.2 10.5 .1 3.2 .3 1 .3 .5 .5-.5 .5-2.7 .5-10 .2-10.6-.3-2.5-.4-.6-.5 .1-.3 1-.4 3-.3z" fill="#3074f1" fill-rule="evenodd"/>
<path d="M343.7 143l15.5 0 3.5 .4 .8 .3 .1 .3-.6 .5-2.3 .4-9.5 .2-10.1-.2-2.1-.4-.6-.5 .2-.3 1-.4 4.1-.3z" fill="#2d6ef2" fill-rule="evenodd"/>
<path d="M345.7 143l13 .1 3.5 .4 .5 .2 .1 .3-.1 .3-.5 .2-2 .3-9 .3-9.1-.2-2.3-.4-.5-.2-.1-.3 .1-.3 .5-.2 1.3-.3 4.6-.2z" fill="#2a68f3" fill-rule="evenodd"/>
<path d="M348.7 143l10.5 .2 2.2 .3 .6 .2 .1 .3-.1 .3-.6 .2-1.7 .3-8.5 .2-8.5-.2-2.1-.3-.6-.2-.1-.3 .1-.3 .6-.2 1.6-.3 6.5-.2z" fill="#2861f3" fill-rule="evenodd"/>
<path d="M343.7 143.2l6-.2 7.5 .1 3.4 .4 .7 .2 .1 .3-.1 .3-.7 .2-1.8 .3-7.6 .2-8-.2-1.8-.3-.7-.2-.1-.3 .1-.3 .7-.2 2.3-.3z" fill="#255bf4" fill-rule="evenodd"/>
<path d="M344.7 143.2l5.5-.1 6.5 .1 3.2 .3 .7 .2 .2 .3-.2 .3-.7 .2-1.7 .2-7 .2-7-.1-2.1-.3-.7-.2-.2-.3 .2-.3 .7-.2 2.6-.3z" fill="#2355f5" fill-rule="evenodd"/>
<path d="M345.7 143.2l11 0 2.4 .3 .9 .2 .2 .3-.2 .3-.8 .2-1.5 .2-6.5 .2-7-.2-1.5-.3-.7-.1-.2-.3 .2-.3 .9-.2 2.8-.3z" fill="#204ff6" fill-rule="evenodd"/>
<path d="M346.7 143.2l9.5 .1 2.2 .2 1 .2 .2 .3-.2 .3-1.7 .3-6.5 .2-6.5-.2-1.5-.2-.8-.4 .2-.3 1-.2 3.1-.3z" fill="#1e48f6" fill-rule="evenodd"/>
<path d="M348.2 143.2l8 .2 2 .2 .8 .4-.2 .3-1.6 .3-6 .2-6-.2-2-.3-.2-.3 .2-.3 1.1-.2 3.9-.3z" fill="#1b42f7" fill-rule="evenodd"/>
<path d="M345.2 143.5l4-.2 5 0 2.8 .2 1.2 .2 .3 .3-.3 .3-1.2 .2-5.8 .2-6-.2-1.4-.2-.3-.3 .3-.3 1.4-.2z" fill="#183cf8" fill-rule="evenodd"/>
<path d="M346.2 143.5l8-.1 2.5 .2 .9 .1 .4 .3-.4 .3-1.4 .2-5 .2-5.4-.2-1.4-.2-.4-.3 .4-.3 1.8-.2z" fill="#1635f9" fill-rule="evenodd"/>
<path d="M346.7 143.5l7.5-.1 2.5 .3 .7 .3-.4 .3-1.6 .2-4.2 .1-4.6-.1-1.6-.2-.4-.3 .4-.3 1.7-.2z" fill="#132ff9" fill-rule="evenodd"/>
<path d="M347.7 143.5l6.5 0 2.3 .2 .4 .3-.4 .3-1.3 .1-4 .2-4-.1-1.7-.2-.4-.3 .4-.3 2.2-.2z" fill="#1129fa" fill-rule="evenodd"/>
<path d="M348.7 143.5l5 0 2.2 .2 .4 .3-.4 .3-1.2 .1-3.5 .2-4-.2-1.1-.1-.4-.3 .4-.3 2.6-.2z" fill="#0e23fb" fill-rule="evenodd"/>
<path d="M347.2 143.7l5.5-.2 2.5 .2 .6 .3-1.1 .3-3.5 .2-3.5-.1-1.5-.4 1-.3z" fill="#0c1cfc" fill-rule="evenodd"/>
<path d="M347.7 143.7l4.5-.1 2.3 .1 .7 .3-1 .3-3 .1-3.5-.1-.9-.3 .9-.3z" fill="#0916fc" fill-rule="evenodd"/>
<path d="M348.7 143.7l4 0 1.9 .3-.9 .3-2.5 .1-2.9-.1-.9-.3 1.3-.3z" fill="#0610fd" fill-rule="evenodd"/>
<path d="M349.7 143.7l3 0 1.2 .3-1.2 .3-1.5 0-1.9 0-1.2-.3 1.6-.3z" fill="#0409fe" fill-rule="evenodd"/>
<path d="M349.2 144l2-.2 1.8 .2-1.8 .2-2.2-.2 .2 0z" fill="#0103ff" fill-rule="evenodd"/>
</g>
<clipPath id="cc7"><rect x="258.6" y="151.3" width="167.60" height="12.40"/></clipPath>
<g clip-path="url(#cc7)">
<path d="M263.6 151.5l2-.2 28.5 0 13 .9 26 2.4 9.6 .4 9-.4 26-2.4 13-.9 28.5 0 3.9 .5 3.1 .7 0 10-3.1 .7-3.9 .5-28.5 0-13-.9-26-2.4-9-.4-9.6 .4-26 2.4-13 .9-28.5 0-3.9-.5-3.1-.7 0-10 5-1z" fill="#dbf0fa" fill-rule="evenodd"/>
<path d="M290.1 153.1l7-.3 9 .2 9 .5 17.8 1.3 9.8 .4 9.2-.4 25.8-1.7 8-.3 6.5 .1 6 .5 4 1 1.2 .7 .7 .8 .2 .7 .1 1.5-.3 1-.7 .8-1.2 .7-1.5 .5-5 .7-7 .4-13.5-.4-23.3-1.6-9.2-.4-9.8 .4-24.3 1.7-7.5 .2-6.5 0-5.5-.3-4-.5-2.9-.9-1.3-1-.4-1 0-2 .4-.8 .8-.8 2.9-1 5.5-.7z" fill="#bae4f6" fill-rule="evenodd"/>
<path d="M302.1 153.8l5.5-.1 6.5 .2 20.1 1.2 7.9 .3 8.5-.3 20.6-1.2 11.5-.1 5.4 .5 2.8 .8 .9 .5 .5 .5 .3 .8 0 1-.2 .7-.6 .8-.9 .5-1.6 .5-4.1 .6-6 .3-10-.3-18.6-1.1-7.9-.3-8.5 .3-19.6 1.2-11 .1-5-.3-3.1-.5-2.2-.7-.9-1.1-.2-1 .2-1.2 .6-.8 .6-.4 3.1-.9 5.4-.5z" fill="#a0d9f4" fill-rule="evenodd"/>
<path d="M308.6 154.3l9.5 .1 18.9 .9 5.1 .1 5.7-.1 19.4-.9 9.5 0 4 .3 3.1 .6 1 .6 .5 .5 .2 1.5-.2 .7-.5 .5-1.9 .8-3.7 .6-6 .2-7.5-.1-17.9-.9-5.1-.1-5.7 .1-18.9 .9-9 .1-4.2-.3-3-.5-1.9-.8-.6-.7 0-1.8 .3-.5 .7-.5 1.5-.5 1.7-.3 5-.5z" fill="#84cef1" fill-rule="evenodd"/>
<path d="M310.6 154.8l9-.1 23.1 .8 21.5-.8 8 0 4 .3 2.8 .6 1.3 .8 .3 .5 0 .7-.1 .8-.5 .5-1.9 .8-3.5 .5-4.9 .2-6.5-.1-20.5-.8-22.1 .8-7.5 0-3.5-.2-2.9-.4-1.5-.6-.9-.7-.1-1.5 .3-.5 .7-.5 1.9-.6 3.5-.5z" fill="#6ac2ee" fill-rule="evenodd"/>
<path d="M313.6 155.1l8-.2 21.1 .7 19.5-.6 7 0 4 .3 2.5 .6 1.1 .7 .2 1-.1 .5-.3 .5-1.8 .8-3.5 .5-4.6 .2-24-.7-19.6 .6-7 0-5.5-.5-1.5-.4-1.1-.7-.2-.5 .1-1 .7-.8 2-.6 3-.4z" fill="#54b7eb" fill-rule="evenodd"/>
<path d="M315.6 155.3l7.5-.2 20.1 .6 17-.5 6.5 0 3.5 .2 2.2 .5 1.5 .7 .3 1-.1 .5-.5 .5-1.9 .7-3 .4-4.5 .2-21.5-.6-18.1 .5-6 0-5.5-.5-1.5-.4-.9-.8 0-1 .5-.7 1.4-.6 3-.5z" fill="#48b0ea" fill-rule="evenodd"/>
<path d="M320.6 155.3l21.5 .4 17.1-.4 6 .1 3 .2 2.4 .5 .9 .5 .3 .5 .1 .5-.2 .5-.5 .5-1.5 .5-3.5 .5-4.5 .1-19-.4-17.1 .4-5.5-.1-5-.5-1.5-.5-.6-.7 .1-1 1.1-.8 2.5-.5 3.9-.3z" fill="#47adea" fill-rule="evenodd"/>
<path d="M320.1 155.6l6.5-.2 16.1 .4 15-.3 5.5 0 3 .2 2.2 .4 1.1 .5 .4 .5 0 .5-.4 .8-1.8 .7-2.7 .3-4.3 .2-18-.4-20.6 .3-4.5-.4-1.9-.5-.7-.5-.1-1 .8-.7 1.9-.5 2.5-.3z" fill="#45aaeb" fill-rule="evenodd"/>
<path d="M323.6 155.6l18.5 .2 14.6-.2 5.5 0 3 .3 2.1 .5 .8 .5 .2 .7-.5 .8-1.6 .5-3 .4-4.5 .1-16-.2-19.6 .2-4.7-.5-1.4-.5-.4-.5 .1-1 .8-.5 2.3-.5 3.8-.3z" fill="#44a7eb" fill-rule="evenodd"/>
<path d="M322.1 155.8l5.5-.1 14 .2 19.1-.2 3 .3 2 .4 .9 .5 .2 .7-.2 .5-.3 .3-1.6 .5-3 .3-4 .1-15-.2-18.1 .2-4.5-.4-1.6-.5-.5-.5 0-.8 .5-.5 1.6-.5 2-.3z" fill="#43a3ec" fill-rule="evenodd"/>
<path d="M324.6 155.8l35.1 0 4.6 .6 1 .5 .3 .7-.3 .5-.4 .3-1.9 .5-6.8 .4-13.5-.2-17.1 .1-4.5-.4-1.2-.4-.6-.5 0-.8 .8-.6 1.7-.4 2.8-.3z" fill="#42a0ec" fill-rule="evenodd"/>
<path d="M325.1 156.1l5.5-.2 27.1 .1 4.5 .5 .9 .4 .3 .2 0 .5-.3 .5-.5 .3-1.4 .3-6.5 .4-27.1 0-4.5-.5-.9-.2-.8-.5 0-.8 .8-.5 2.9-.5z" fill="#3f9aed" fill-rule="evenodd"/>
<path d="M328.1 156.1l28.1 0 4.5 .5 .9 .5 .1 .5-.4 .5-1.8 .5-2.8 .3-5 .1-23.6-.1-4-.5-.6-.3-.4-.5 .1-.5 .9-.5 4-.5z" fill="#3c94ed" fill-rule="evenodd"/>
<path d="M332.6 156.1l23.1 .1 3.5 .5 .9 .4 .1 .5-.5 .5-2.2 .5-7.3 .3-20.6-.1-3.8-.4-.7-.3-.5-.5 .1-.5 1.4-.5 2.5-.4 4-.1z" fill="#3a8dee" fill-rule="evenodd"/>
<path d="M329.6 156.3l6-.1 18.1 .1 4 .4 1.1 .4 .1 .5-.6 .5-2.1 .5-8 .2-17.6-.1-3.2-.3-.9-.3-.6-.5 .1-.5 .5-.2 3.1-.6z" fill="#3787ef" fill-rule="evenodd"/>
<path d="M331.6 156.3l21.6 0 3.9 .6 .5 .2 .2 .5-.7 .5-2.4 .4-9 .3-14.4-.2-3.2-.4-.9-.3-.2-.3 .2-.5 .5-.2 3.9-.6z" fill="#3581f0" fill-rule="evenodd"/>
<path d="M333.6 156.4l18.6 0 3.8 .5 .5 .2 .3 .5-.8 .5-2.8 .4-10.5 .2-11.1-.2-2.8-.4-.8-.5 .3-.5 .8-.3 4.5-.4z" fill="#327bf0" fill-rule="evenodd"/>
<path d="M337.1 156.4l15.1 .1 2.7 .4 .7 .2 .2 .5-.9 .5-2.2 .4-10 .2-10.6-.2-2.2-.4-.9-.5 .2-.5 1.4-.4 6.5-.3z" fill="#3074f1" fill-rule="evenodd"/>
<path d="M332.6 156.6l6.5-.2 11.1 .1 3.8 .4 .7 .2 .3 .3 0 .2-1 .5-1.8 .3-9.5 .2-9.6-.2-2.3-.3-1-.5 0-.2 .3-.3 2.5-.5z" fill="#2d6ef2" fill-rule="evenodd"/>
<path d="M334.1 156.6l7.5-.2 8.6 .2 3 .3 .7 .2 .3 .3 0 .2-1.2 .5-2.1 .3-8.2 .2-8.8-.2-2.1-.3-1.2-.5 0-.2 .5-.4 3-.4z" fill="#2a68f3" fill-rule="evenodd"/>
<path d="M335.6 156.6l7.1-.1 6.9 .1 3.1 .4 .8 .4 0 .2-.8 .4-2 .3-8 .2-8.1-.2-2-.2-1.3-.5 0-.2 .8-.4 3.5-.4z" fill="#2861f3" fill-rule="evenodd"/>
<path d="M337.1 156.6l12.1 .1 3.2 .4 .4 .3 0 .2-.6 .4-2 .3-7.5 .2-7.6-.2-2-.2-1.1-.5 0-.2 .4-.3 .7-.2 4-.3z" fill="#255bf4" fill-rule="evenodd"/>
<path d="M338.6 156.6l10.6 .1 2.5 .4 .5 .3 0 .2-.5 .3-2 .3-7 .2-7.6-.2-2-.3-.5-.3 0-.2 .5-.3 1-.2 4.5-.3z" fill="#2355f5" fill-rule="evenodd"/>
<path d="M335.6 156.8l5.5-.2 6.6 .1 3.4 .4 .5 .3 0 .2-.5 .3-1.9 .3-6.5 .2-7.1-.2-1.9-.3-.5-.3 0-.2 .5-.3 1.9-.3z" fill="#204ff6" fill-rule="evenodd"/>
<path d="M336.1 156.9l5-.2 6.1 .1 3.2 .3 .6 .3 0 .2-.6 .3-1.6 .2-6.1 .2-6.6-.2-1.7-.2-.6-.3 0-.2 .6-.3 1.7-.2z" fill="#1e48f6" fill-rule="evenodd"/>
<path d="M337.1 156.9l5-.2 5.1 .1 2.6 .3 .6 .3 0 .2-.6 .3-1.9 .2-5.2 .2-5.8-.2-1.9-.2-.6-.3 0-.2 .6-.3 2.1-.2z" fill="#1b42f7" fill-rule="evenodd"/>
<path d="M338.1 156.9l8.8 0 2.3 .2 .6 .3 0 .2-.6 .3-2 .2-4.5 .1-5.1-.1-2-.2-.6-.3 0-.2 .6-.3 2.5-.2z" fill="#183cf8" fill-rule="evenodd"/>
<path d="M339.1 156.9l7.6 0 1.8 .2 .8 .3 0 .2-2.1 .4-4.5 .2-4.6-.1-2.6-.5 0-.2 .8-.3 2.8-.2z" fill="#1635f9" fill-rule="evenodd"/>
<path d="M340.6 156.9l6.6 .1 1.5 .4 0 .2-2 .4-4 .2-4.6-.2-2-.4 0-.2 .8-.3 3.7-.2z" fill="#132ff9" fill-rule="evenodd"/>
<path d="M337.6 157.1l3.5-.2 4.1 .1 2 .1 1 .3 0 .2-1.5 .3-4 .2-4.1-.1-2-.4 0-.2 1-.3z" fill="#1129fa" fill-rule="evenodd"/>
<path d="M338.6 157.1l6.6-.1 2 .3 .4 .1 0 .2-1.4 .3-3.5 .1-4.1-.1-1.4-.3 0-.2 1.4-.3z" fill="#0e23fb" fill-rule="evenodd"/>
<path d="M339.1 157.1l6.1 0 1.9 .3 0 .2-1.4 .3-3 .1-3.6-.1-1.4-.3 0-.2 1.4-.3z" fill="#0c1cfc" fill-rule="evenodd"/>
<path d="M340.1 157.1l4.6 0 1.8 .3 0 .2-3.8 .3-2.6 0-1.8-.3 0-.2 1.8-.3z" fill="#0916fc" fill-rule="evenodd"/>
<path d="M342.1 157.1l3.1 .2 .6 .1 0 .2-3.1 .3-3.7-.3 .1-.3 3-.2z" fill="#0610fd" fill-rule="evenodd"/>
<path d="M340.1 157.3l3.6-.1 1.3 .2 0 .2-2.3 .2-2.9-.2 0-.2 .3-.1z" fill="#0409fe" fill-rule="evenodd"/>
<path d="M341.1 157.3l2.9 .1 0 .2-3.2 0 0-.2 .3-.1z" fill="#0103ff" fill-rule="evenodd"/>
</g>
<clipPath id="cc8"><rect x="258.6" y="163.7" width="167.60" height="14.60"/></clipPath>
<g clip-path="url(#cc8)">
<path d="M264.6 164.5l10-.1 12 .5 13.5 1 23 2.1 10.5 .5 10.9-.5 23.2-2.2 14-1 13-.5 11 .2 8.2 .7 3.3 .7 2.4 .8 1.2 .8 .9 1 .4 1.2 0 2.1-.2 1.2-.6 1-1.2 1-1.8 .8-3 .7-3.1 .5-8 .6-10.5 .1-12.5-.6-13.5-.9-23.2-2.2-10.4-.5-7.6 .3-29.4 2.6-14 .9-14 .3-10.5-.4 0-12.4 6-.3z" fill="#dbf0fa" fill-rule="evenodd"/>
<path d="M284.1 166.5l7-.1 8 .2 27.4 1.9 7.1 .2 7.5-.2 27.6-1.9 8-.3 7 .1 6.1 .6 2.5 .5 1.5 .5 .9 .5 .7 .7 .3 .8 .1 1.5-.2 1-.6 .8-1.2 .7-1.5 .5-5.1 .8-7.5 .4-12.5-.3-26.1-1.9-7.5-.2-7.1 .2-26.4 1.9-7.5 .2-6.5 0-5.5-.3-3.7-.5-2.6-.8-.9-.5-.7-.7-.4-1 .1-2.1 .4-.7 1-.8 1.8-.7 2-.4 6.5-.6z" fill="#bae4f6" fill-rule="evenodd"/>
<path d="M291.6 167.5l5.5-.3 7 .1 24.2 1.4 5.8 .1 5.1-.1 23-1.3 11.5-.1 5 .4 3.4 .8 1 .5 .5 .5 .3 .7 .1 1.1-.1 .7-.5 .8-.8 .5-1.3 .5-4.1 .7-6 .3-9.5-.2-22.5-1.3-5.6-.1-5.3 .1-22.7 1.3-10 .1-4.5-.2-3.5-.5-2.4-.7-1-.8-.3-.7 0-1.6 .3-.7 .6-.5 1-.5 1.8-.5 4-.5z" fill="#a0d9f4" fill-rule="evenodd"/>
<path d="M298.1 167.9l10-.1 17.7 .9 8.3 .3 7.7-.3 16.4-.8 9.5-.1 4.7 .4 2.8 .7 1.4 .8 .2 .5 .1 1.1-.2 .7-.4 .5-.8 .5-1.7 .5-3.7 .5-5.4 .2-7.5-.1-15.4-.8-8.2-.3-7.8 .3-16.2 .8-9 .1-3.5-.2-3.2-.5-2.1-.7-.8-.8-.1-1.8 .3-.5 .6-.5 2.1-.7 4.2-.6z" fill="#84cef1" fill-rule="evenodd"/>
<path d="M303.6 168.2l8 0 22 .8 22.6-.8 8 0 4 .4 2.6 .6 1 .8 .2 1.3-.2 .7-.5 .5-2.1 .7-3.5 .5-5 .2-26.6-.9-22 .8-7.5 0-4-.3-2.5-.4-1.6-.6-.7-.7 0-1.6 .3-.5 .9-.5 2.6-.6 4-.4z" fill="#6ac2ee" fill-rule="evenodd"/>
<path d="M307.1 168.5l7 0 19.5 .6 20.1-.6 7 0 3.4 .2 2.6 .5 1.4 .8 .3 .5 0 .8-.1 .5-.5 .5-2.1 .7-3.5 .4-4.5 .2-23.6-.7-20 .6-6.5 0-5.6-.5-1.7-.5-.9-.7-.1-.8 .1-.8 .9-.7 2.8-.7 4-.3z" fill="#54b7eb" fill-rule="evenodd"/>
<path d="M308.6 168.7l7 0 18 .5 18.6-.5 6.5 0 3.3 .3 2.2 .5 1.2 .7 .2 1.1-.2 .5-.6 .5-1.4 .5-3.2 .4-4.5 .2-21.6-.6-18 .5-6 0-5.5-.5-1.8-.5-.5-.5-.1-1.3 .6-.8 2.3-.6 3.5-.4z" fill="#48b0ea" fill-rule="evenodd"/>
<path d="M309.6 169l7-.2 17.5 .4 16.1-.4 6.5 .1 3.5 .3 2 .5 .8 .5 .2 1.1-.2 .5-.7 .5-1.8 .5-2.8 .3-4.5 .1-19.1-.4-16.5 .4-6-.1-5-.5-1.3-.3-.8-.8 0-1 .8-.8 1.9-.5 2.4-.2z" fill="#47adea" fill-rule="evenodd"/>
<path d="M313.6 169l20 .3 15.6-.3 5.5 0 3.1 .2 2.4 .5 .9 .5 .2 .8-.1 .5-.5 .5-1.4 .5-3.1 .4-4 .2-18.1-.4-20.7 .3-5.1-.5-1.4-.5-.5-.5 0-1 1-.8 2.4-.5 3.8-.2z" fill="#45aaeb" fill-rule="evenodd"/>
<path d="M312.6 169.2l6-.1 15.5 .2 19.1-.2 3 .2 2.1 .4 1.1 .5 .3 .8-.3 .8-1.7 .6-2.5 .4-4.5 .1-16.6-.2-19.5 .2-4.5-.4-1.4-.5-.6-.5 0-1 .6-.5 1.7-.5 2.2-.3z" fill="#44a7eb" fill-rule="evenodd"/>
<path d="M315.6 169.2l18 .2 18.6-.2 4.5 .5 1.2 .5 .3 .8-.3 .8-1.7 .6-3 .3-4 .1-15.1-.2-18.5 .2-4.6-.5-1.2-.5-.4-.5 .1-.8 1.1-.7 1.7-.3 3.3-.3z" fill="#43a3ec" fill-rule="evenodd"/>
<path d="M314.1 169.5l5.5-.3 14 .2 17.1-.1 2.8 .2 2.2 .4 .9 .3 .4 .8-.4 .8-1.4 .5-2.5 .3-4 .1-14.6-.1-17 .1-4.6-.4-.9-.3-.8-.5-.1-.8 .4-.5 1.4-.5 1.6-.2z" fill="#42a0ec" fill-rule="evenodd"/>
<path d="M318.1 169.5l31.1 0 4.5 .5 1 .5 .1 .5-.1 .5-.4 .3-1.9 .5-6.7 .3-27.1-.1-4.5-.5-.8-.2-.5-.5 .2-.8 1-.5 4.1-.5z" fill="#3f9aed" fill-rule="evenodd"/>
<path d="M318.1 169.7l5.5-.2 23.6 .1 4.4 .4 1.3 .5 .2 .5-.2 .5-.5 .3-1.2 .3-3 .3-4 .1-24.1-.1-4.1-.4-.8-.2-.6-.5 0-.6 .6-.5 2.9-.5z" fill="#3c94ed" fill-rule="evenodd"/>
<path d="M320.1 169.7l5.5-.1 20.6 .1 4 .4 1.1 .4 .3 .5-.3 .5-1.5 .5-2.6 .3-4.5 .1-21.6-.1-3.2-.3-1.1-.2-.7-.5 0-.6 .7-.5 3.3-.5z" fill="#3a8dee" fill-rule="evenodd"/>
<path d="M323.1 169.7l22.1 .1 4.2 .4 .6 .3 .3 .5-.3 .5-1.9 .5-6.5 .3-19 0-3.5-.4-1-.2-.7-.4 0-.6 .9-.5 1.8-.3 3-.2z" fill="#3787ef" fill-rule="evenodd"/>
<path d="M327.6 169.7l17.1 .2 3.4 .3 .7 .3 .4 .5-.4 .5-2.3 .5-8.9 .3-15-.2-3-.3-.8-.3-.4-.5 .4-.5 1.8-.4 7-.4z" fill="#3581f0" fill-rule="evenodd"/>
<path d="M323.1 170l6.5-.2 13.6 .1 3.7 .3 .8 .3 .5 .5-.5 .5-2.8 .5-10.8 .2-11.4-.2-2.6-.4-.6-.3-.1-.3 .5-.5 .7-.2 2.5-.3z" fill="#327bf0" fill-rule="evenodd"/>
<path d="M324.6 170l8-.2 10.1 .2 3 .2 1 .3 .6 .5-.6 .5-2.5 .4-10.6 .3-10-.2-2.7-.5-.5-.5 .5-.5 .7-.2 3-.3z" fill="#3074f1" fill-rule="evenodd"/>
<path d="M326.1 170l15.5 0 3.6 .3 1 .4 .2 .3-.6 .5-2.1 .4-10.1 .2-9.5-.2-2.3-.4-.6-.5 .6-.5 .8-.2 3.5-.3z" fill="#2d6ef2" fill-rule="evenodd"/>
<path d="M328.1 170l13.5 .1 3.4 .4 .5 .2 .1 .3-.1 .3-.5 .2-2.3 .4-9.1 .2-9-.3-2-.3-.5-.2-.1-.3 .1-.3 .5-.2 1-.2 4.5-.3z" fill="#2a68f3" fill-rule="evenodd"/>
<path d="M331.6 170l10 .2 2.6 .3 .6 .2 .1 .3-.1 .3-.6 .2-2.1 .3-8.5 .2-8.5-.2-1.7-.3-.6-.2-.1-.3 .1-.3 .6-.2 1.6-.3 6.6-.2z" fill="#2861f3" fill-rule="evenodd"/>
<path d="M326.1 170.2l6-.2 7.5 .1 3.8 .4 .7 .2 .1 .3-.1 .3-.7 .2-1.8 .3-8 .2-7.6-.2-1.8-.3-.7-.2-.1-.3 .1-.3 .7-.2 1.9-.3z" fill="#255bf4" fill-rule="evenodd"/>
<path d="M327.1 170.2l5.5-.1 6.5 .1 3.6 .3 .7 .2 .2 .3-.2 .3-.7 .2-2.1 .3-7 .1-7-.2-1.7-.2-.7-.2-.2-.3 .2-.3 .7-.2 2.2-.3z" fill="#2355f5" fill-rule="evenodd"/>
<path d="M328.1 170.2l11 0 2.8 .3 .9 .2 .2 .3-.2 .3-.7 .1-1.5 .3-7 .2-6.5-.2-1.5-.2-.8-.2-.2-.3 .2-.3 .9-.2 2.4-.3z" fill="#204ff6" fill-rule="evenodd"/>
<path d="M329.6 170.2l9 .1 2.6 .2 1 .2 .2 .3-.8 .4-1.5 .2-6.5 .2-6.5-.2-1.7-.3-.2-.3 .2-.3 1-.2 3.2-.3z" fill="#1e48f6" fill-rule="evenodd"/>
<path d="M331.1 170.2l8 .2 2 .2 .7 .4-.2 .3-2 .3-6 .2-6-.2-1.6-.3-.2-.3 .2-.3 1.1-.2 4-.3z" fill="#1b42f7" fill-rule="evenodd"/>
<path d="M328.1 170.5l4-.2 5 0 2.7 .2 1.2 .2 .3 .3-.3 .3-1.4 .2-6 .2-5.8-.2-1.2-.2-.3-.3 .3-.3 1.5-.2z" fill="#183cf8" fill-rule="evenodd"/>
<path d="M328.6 170.5l4-.2 4.5 .1 2.5 .2 .8 .1 .4 .3-.4 .3-1.4 .2-5.4 .2-5-.2-1.4-.2-.4-.3 .4-.3 1.4-.2z" fill="#1635f9" fill-rule="evenodd"/>
<path d="M329.6 170.5l7.5-.1 2.5 .3 .6 .3-.4 .3-1.6 .2-4.6 .1-4.2-.1-1.6-.2-.4-.3 .4-.3 1.8-.2z" fill="#132ff9" fill-rule="evenodd"/>
<path d="M330.6 170.5l6.5 0 2.2 .2 .4 .3-.4 .3-1.7 .2-4 .1-4-.2-1.3-.1-.4-.3 .4-.3 2.3-.2z" fill="#1129fa" fill-rule="evenodd"/>
<path d="M331.6 170.5l5 0 2.1 .2 .4 .3-.4 .3-1.1 .1-4 .2-3.5-.2-1.2-.1-.4-.3 .4-.3 2.7-.2z" fill="#0e23fb" fill-rule="evenodd"/>
<path d="M329.6 170.7l5.5-.2 2.9 .2 .6 .3-1.5 .4-3.5 .1-3.5-.2-1.1-.3 .6-.3z" fill="#0c1cfc" fill-rule="evenodd"/>
<path d="M330.6 170.7l4.5-.1 2.2 .1 .7 .3-.9 .3-3.5 .1-3-.1-1-.3 1-.3z" fill="#0916fc" fill-rule="evenodd"/>
<path d="M331.1 170.7l4 0 1.4 0 .9 .3-.9 .3-2.9 .1-2.5-.1-.9-.3 .9-.3z" fill="#0610fd" fill-rule="evenodd"/>
<path d="M332.1 170.7l3.4 0 1.2 .3-1.2 .3-1.9 0-1.5 0-1.2-.3 1.2-.3z" fill="#0409fe" fill-rule="evenodd"/>
<path d="M332.1 170.9l2-.1 1.7 .2-2.2 .2-1.8-.2 .3-.1z" fill="#0103ff" fill-rule="evenodd"/>
</g>
<clipPath id="cc9"><rect x="258.6" y="178.3" width="167.60" height="14.50"/></clipPath>
<g clip-path="url(#cc9)">
<path d="M380.2 179l9-.1 8 .1 6.5 .5 4.3 .8 3 1 1.2 .7 .7 .8 .6 1.5-.1 3-.5 1-1 1-1.5 .7-2.4 .8-5.8 .9-8 .5-10.5 0-12-.6-13-.9-23-2.1-9.6-.6-8.2 .3-24.8 2.2-14 .9-11.5 .2-5-.2-4-.4 0-10.9 1.5-.2 8.5-.4 11 .3 13.5 .8 24.8 2.2 8.2 .3 9.6-.5 29.5-2.7 15-.9z" fill="#dbf0fa" fill-rule="evenodd"/>
<path d="M362.7 181l12 0 4.5 .3 3.5 .5 2.4 .8 1.5 1 .4 1 0 2-.3 .7-.7 .7-2.4 1-3.9 .8-5.5 .3-6.5 .1-8-.3-27.3-1.9-7.3-.2-7.3 .2-23.2 1.6-10.5 .3-7-.3-4.5-.7-1.6-.6-.8-.5-.7-.8-.2-1 0-1.2 .2-.8 .7-.7 .8-.5 1.3-.5 2.3-.5 5-.5 6-.1 7.5 .2 24.7 1.6 7.8 .3 6.8-.3 19.3-1.4 11-.6z" fill="#bae4f6" fill-rule="evenodd"/>
<path d="M289.1 182l10 .1 20.6 1.2 5.4 .1 5.5-.1 23.6-1.4 11.5 0 5 .5 3 .8 .9 .6 .4 .5 .2 1.7-.2 .8-.7 .8-2.1 .8-4.4 .6-6.1 .3-9-.2-22.1-1.3-5-.1-5.9 .1-20.6 1.2-10 .1-4-.3-3.1-.5-2.1-.7-.7-.8-.3-.8 .1-1.5 .6-.7 .8-.5 3.2-.8 5.5-.5z" fill="#a0d9f4" fill-rule="evenodd"/>
<path d="M294.1 182.5l8.5 .1 22.5 .9 8-.2 16.6-.9 9.5 0 4.5 .4 3 .7 1.1 .8 .3 .5 0 1-.1 .8-.4 .4-.9 .6-1.5 .4-3.8 .6-5.2 .1-7.5-.1-23.1-1-8.5 .2-14.5 .7-8.5 .1-3.9-.3-2.6-.4-1.6-.6-.8-.7-.2-1 .2-1 .4-.6 1-.4 3-.7 4.5-.4z" fill="#84cef1" fill-rule="evenodd"/>
<path d="M346.7 182.8l8 0 5.5 .5 1.8 .5 .8 .5 .4 .8 0 .9-.4 .8-1.5 .8-2.7 .4-3.9 .3-7.5 0-22.1-.8-24.5 .8-5-.2-3.5-.4-2-.7-.5-.4-.3-.8 .3-1.2 1.1-.8 2.4-.6 3.5-.3 7.5 0 21.5 .7 21.1-.8z" fill="#6ac2ee" fill-rule="evenodd"/>
<path d="M344.7 183l7.1 0 5.1 .6 1.7 .4 .7 .6 .3 .4 0 1-.6 .8-1.3 .6-2.4 .4-3.6 .3-6.5 0-20.1-.7-22 .6-4.5-.1-3.5-.4-1.9-.7-.5-.5-.1-.5 .1-1 1-.8 1.9-.5 3.5-.3 7-.1 19.5 .6 19.1-.7z" fill="#54b7eb" fill-rule="evenodd"/>
<path d="M303.6 183.3l21.5 .4 18.1-.5 7 .1 2.9 .3 2.3 .4 1.2 .8 .1 1-.1 .5-.4 .4-1.7 .6-3.3 .4-5 .2-20.6-.5-17.5 .4-5.5 0-5.1-.5-1.5-.5-.8-.8 0-.7 .1-.5 1.3-.8 2.6-.4 4.4-.3z" fill="#48b0ea" fill-rule="evenodd"/>
<path d="M303.1 183.5l6-.1 16.5 .4 16-.4 6.1 0 3.5 .3 2 .5 1 .6 .2 1-.2 .5-.7 .5-1.8 .5-3 .3-4 .1-19.1-.4-16 .4-5.5-.1-5.1-.6-1.2-.4-.5-.6 0-1 1-.7 2-.5 2.8-.3z" fill="#47adea" fill-rule="evenodd"/>
<path d="M339.1 183.5l6.1 0 4.5 .4 2.2 .7 .5 .4 .1 .8-.6 .8-1.4 .4-4.8 .5-20.6-.2-16.5 .2-4.5-.1-2.9-.4-1.5-.4-.6-.6 0-.4 .2-.8 1-.5 1.8-.4 3-.3 5.5 0 15 .2 13.5-.3z" fill="#45aaeb" fill-rule="evenodd"/>
<path d="M305.6 183.8l5.5-.1 14.5 .2 18.6-.2 3 .2 2.3 .4 1 .5 .3 .8-.3 .7-1.8 .7-2.5 .3-4.1 .2-16.5-.3-18.5 .2-4.5-.5-1.3-.3-.6-.6 0-1 .6-.4 1.9-.6 2.4-.2z" fill="#44a7eb" fill-rule="evenodd"/>
<path d="M309.1 183.8l16 .1 18.3-.1 4.4 .5 1.2 .5 .4 .8-.4 .7-1.8 .6-3 .4-4.1 .1-14.5-.2-17.5 .1-4.5-.5-1.3-.5-.3-.5 0-.5 .3-.5 1.3-.5 2-.3 3.5-.2z" fill="#43a3ec" fill-rule="evenodd"/>
<path d="M307.1 184l5-.2 13 .2 16.5-.1 3 .1 2.1 .4 1 .4 .3 .2 .1 .6-.1 .4-.3 .3-1.4 .5-2.6 .3-4.1 .2-14-.2-16 .1-4.5-.4-1-.2-.8-.6-.2-.7 .4-.5 1.6-.5 2-.3z" fill="#42a0ec" fill-rule="evenodd"/>
<path d="M311.1 184l29 0 4.7 .6 1 .4 .2 .6-.2 .4-.3 .3-1.8 .5-6.6 .3-26.2-.1-4.3-.4-.9-.3-.5-.5 .1-.8 1.1-.4 4.7-.6z" fill="#3f9aed" fill-rule="evenodd"/>
<path d="M310.6 184.3l5.5-.2 22.5 0 4.1 .5 1.3 .4 .2 .6-.2 .4-.4 .3-1.5 .3-6.5 .4-23.5-.1-3.7-.3-.9-.3-.7-.5 0-.5 .7-.5 3.1-.5z" fill="#3c94ed" fill-rule="evenodd"/>
<path d="M313.1 184.3l24.5 0 4 .4 .9 .3 .2 .5-.2 .5-1.6 .6-6.8 .3-20.5-.1-3.5-.3-1-.2-.8-.5 0-.5 .8-.5 4-.5z" fill="#3a8dee" fill-rule="evenodd"/>
<path d="M316.1 184.3l20.5 0 3.9 .5 .6 .2 .3 .6-.3 .4-2 .6-8.5 .3-17-.2-3.1-.4-.7-.3-.4-.4 .4-.6 1.3-.3 5-.4z" fill="#3787ef" fill-rule="evenodd"/>
<path d="M313.6 184.5l6-.2 15 .1 4.6 .4 .7 .2 .4 .6-.4 .4-1.8 .5-6.5 .3-16-.1-3.5-.3-1.5-.6 0-.5 .3-.3 2.7-.5z" fill="#3581f0" fill-rule="evenodd"/>
<path d="M315.1 184.5l6.5-.1 12.5 .1 3.8 .3 .9 .2 .5 .6-.1 .2-.6 .3-2.5 .4-9.5 .2-11.6-.1-2.9-.5-.5-.3-.1-.2 .5-.6 .6-.1 2.5-.4z" fill="#327bf0" fill-rule="evenodd"/>
<path d="M317.1 184.5l16.5 0 3.5 .4 .7 .1 .6 .6-.6 .4-2.7 .5-9.5 .2-10-.2-2.7-.5-.5-.4 .5-.6 .7-.1 3.5-.4z" fill="#3074f1" fill-rule="evenodd"/>
<path d="M318.6 184.5l14.5 .1 3.5 .4 .8 .3 .1 .3-.1 .2-.5 .2-2.3 .4-9 .2-9.5-.2-2.3-.4-.5-.2-.1-.2 .4-.5 1-.2 4-.4z" fill="#2d6ef2" fill-rule="evenodd"/>
<path d="M321.1 184.5l12 .2 3 .3 .5 .3 .2 .3-.2 .2-.5 .2-2 .4-8.5 .2-9-.2-1.9-.4-.6-.2-.1-.2 .1-.3 .6-.3 1.4-.2 5-.3z" fill="#2a68f3" fill-rule="evenodd"/>
<path d="M317.1 184.8l5.5-.2 8.5 0 4 .4 .8 .3 .1 .3-.1 .2-.7 .2-1.6 .3-8 .2-8.5-.2-1.6-.3-.7-.2-.1-.2 .1-.3 .7-.3 1.6-.2z" fill="#2861f3" fill-rule="evenodd"/>
<path d="M318.6 184.8l6-.2 6.5 .1 3.4 .3 .7 .3 .1 .3-.1 .2-.7 .2-1.9 .3-7 .2-7.5-.2-1.9-.3-.7-.2-.2-.2 .2-.3 .7-.3 2.4-.2z" fill="#255bf4" fill-rule="evenodd"/>
<path d="M319.6 184.8l6-.1 5.5 .1 2.6 .2 .8 .3 .2 .3-.2 .2-.8 .3-1.6 .1-7 .2-6.5-.1-1.6-.3-.8-.2-.2-.2 .2-.3 .8-.3 2.6-.2z" fill="#2355f5" fill-rule="evenodd"/>
<path d="M320.6 184.8l9.7 0 2.6 .2 1 .3 .2 .3-.2 .2-.8 .2-1.5 .2-6.5 .2-6.5-.2-1.5-.3-.5-.3 .2-.3 .9-.3 2.9-.2z" fill="#204ff6" fill-rule="evenodd"/>
<path d="M322.1 184.8l8 .1 2.1 .1 1 .3 .3 .3-.4 .2-2 .4-6 .2-6-.3-1.7-.3-.2-.2 .2-.3 1-.3 3.7-.2z" fill="#1e48f6" fill-rule="evenodd"/>
<path d="M324.1 184.8l6.5 .2 2 .3 .3 .3-.3 .2-1.5 .3-6 .2-5.5-.2-1.6-.3-.3-.2 .3-.3 1.2-.3 4.9-.2z" fill="#1b42f7" fill-rule="evenodd"/>
<path d="M320.1 185l4-.1 4.5 0 2.5 .2 .9 .2 .3 .3-.3 .2-1.3 .2-5.6 .3-5.2-.3-1.3-.2-.3-.2 .3-.3 1.5-.3z" fill="#183cf8" fill-rule="evenodd"/>
<path d="M321.1 185l7.5 0 2.5 .2 .7 .4-.4 .2-1.5 .2-4.8 .2-4.4-.2-1.5-.2-.4-.2 .4-.3 1.9-.3z" fill="#1635f9" fill-rule="evenodd"/>
<path d="M322.1 185l6.5 0 2.2 .3 .4 .3-.4 .2-1.7 .2-4 .2-4-.2-1.3-.2-.4-.2 .4-.3 2.3-.3z" fill="#132ff9" fill-rule="evenodd"/>
<path d="M323.1 185l5 .1 2.1 .2 .4 .3-.4 .2-1.1 .1-4 .2-3.5-.1-1.2-.2-.5-.2 .5-.3 2.7-.3z" fill="#1129fa" fill-rule="evenodd"/>
<path d="M325.1 185l3.5 .2 1.5 .4-1.5 .3-3.5 .2-3.5-.2-1.1-.3 1.1-.4 3.5-.2z" fill="#0e23fb" fill-rule="evenodd"/>
<path d="M322.1 185.3l4.5-.2 2.2 .2 .6 .3-.8 .2-3.5 .2-3-.2-1-.2 1-.3z" fill="#0c1cfc" fill-rule="evenodd"/>
<path d="M322.6 185.3l4-.1 2.2 .4-.8 .2-2.9 .1-2.5-.1-.8-.2 .8-.3z" fill="#0916fc" fill-rule="evenodd"/>
<path d="M324.1 185.3l2.7 0 1.2 .3-1.2 .2-1.7 0-2.6-.2 1.6-.3z" fill="#0610fd" fill-rule="evenodd"/>
<path d="M323.6 185.5l1.5-.1 2 .2-2 .1-1.6-.1 .1-.1z" fill="#0409fe" fill-rule="evenodd"/>
</g>
<clipPath id="cc10"><rect x="258.6" y="192.8" width="167.60" height="14.60"/></clipPath>
<g clip-path="url(#cc10)">
<path d="M372.7 193.8l8.5-.1 7.5 .2 5.5 .5 4.5 .9 2.7 1 1.4 1.3 .4 1.5-.1 2.8-.5 1-1.2 1-1.7 .7-3 .8-3.5 .5-4.5 .4-10.5 .2-9-.2-10-.6-33.5-2.8-7.1-.4-7.9 .1-24.1 1.6-10 0-4-.4-3-.8-1.5-.9-.5-.7-.2-.8 .2-1.8 .5-.7 .6-.5 1.1-.5 1.8-.5 4.4-.5 4.6-.2 6 .1 24.1 1.6 7.9 .1 7.1-.4 30.5-2.6 16.5-.9z" fill="#dbf0fa" fill-rule="evenodd"/>
<path d="M355.7 195.8l10 .1 4 .4 2.6 .5 2.1 .8 .9 .7 .4 1 0 1.8-.4 .8-.9 .7-1.2 .5-2 .5-5.5 .7-8 .1-11.5-.4-20-1.4-7.6-.3-8 .1-17 .8-7.5-.1-3.5-.3-2.5-.6-1.3-.8-.4-1 .2-1.3 .4-.5 .8-.5 2.3-.6 3.7-.4 7.8-.1 17 .8 8 .1 7.6-.3 19.5-1.4 10-.4z" fill="#bae4f6" fill-rule="evenodd"/>
<path d="M343.7 196.8l9.5-.1 6.5 .6 2 .5 1.3 .8 .4 .7 0 1.6-.4 .7-.7 .5-2.6 .8-4.6 .5-6.4 .1-8.6-.3-21.5-1.1-5.5 0-15.5 .6-6.5-.1-2.9-.2-2.3-.5-1.3-.8-.3-.7 .1-1.1 .9-.7 1.8-.6 3.5-.4 6.5-.1 16 .6 5.5 0 25.1-1.3z" fill="#a0d9f4" fill-rule="evenodd"/>
<path d="M338.6 197.3l9.1 0 5.5 .5 1.8 .5 .8 .5 .4 .8 0 1-.2 .5-.5 .5-2.3 .8-4 .4-5.5 .2-25.6-1-18 .4-5.5-.1-3-.3-2-.4-1-.5-.4-.7 .2-1.1 .7-.5 2-.6 3-.3 5.5-.1 18.5 .4 20.5-.9z" fill="#84cef1" fill-rule="evenodd"/>
<path d="M331.1 197.8l9.5-.2 6.6 .3 2.2 .4 1.2 .5 .5 .5 .2 1.1-.2 .5-.5 .5-1.9 .6-3.5 .5-5.1 .1-22.5-.7-20.5 .2-4.5-.6-1-.4-.5-.7 .2-1.1 .8-.5 2-.4 2.5-.3 5.5-.1 15 .3 14-.5z" fill="#6ac2ee" fill-rule="evenodd"/>
<path d="M328.1 198.1l9.5-.2 6.1 .3 3 .6 .7 .5 .2 1.1-.2 .5-.7 .5-1.7 .5-3.4 .3-5 .1-18.5-.5-19 .1-4.4-.5-1.1-.5-.3-.8 .3-.8 1.1-.5 3.9-.5 5-.1 14 .2 10.5-.3z" fill="#54b7eb" fill-rule="evenodd"/>
<path d="M332.1 198.1l6.5 .1 4.1 .4 .9 .2 .9 .5 .3 1.1-.6 .7-2.1 .6-3.5 .3-4.5 .1-16-.3-17.5 0-2.5-.2-2-.4-.9-.6-.1-.5 .1-.5 .9-.6 2-.4 2.5-.2 17.5 0 14-.3z" fill="#48b0ea" fill-rule="evenodd"/>
<path d="M326.1 198.3l8-.1 5 .3 2.6 .6 .7 .5 0 .8-.3 .5-.4 .2-2 .5-3.1 .3-5 .1-13.5-.3-16.5-.1-3.9-.5-1-.5-.1-.5 .1-.5 1-.5 3.9-.5 24.5-.3z" fill="#47adea" fill-rule="evenodd"/>
<path d="M304.6 198.6l30-.2 4.5 .6 1 .3 .3 .3 .1 .5-.1 .5-.3 .3-1.4 .5-3.1 .3-4 .1-28-.2-4.4-.5-.7-.2-.6-.5 .2-.8 1.1-.5 1.9-.3 3.5-.2z" fill="#45aaeb" fill-rule="evenodd"/>
<path d="M320.6 198.6l9-.1 5 .1 3.2 .5 .9 .5 .2 .5-.2 .5-.3 .3-1.8 .5-3 .2-4.5 .1-25-.2-4-.5-.9-.4-.2-.5 .2-.5 .5-.3 3.4-.5 17.5-.2z" fill="#44a7eb" fill-rule="evenodd"/>
<path d="M324.1 198.6l6.5 0 4.1 .2 2.2 .5 .4 .3 .2 .5-.2 .5-.4 .3-1.8 .4-3 .3-4.5 0-23-.2-3.8-.5-.5-.3-.3-.5 .3-.5 .5-.3 3.3-.5 20-.2z" fill="#43a3ec" fill-rule="evenodd"/>
<path d="M306.1 198.8l24.5-.1 4.1 .4 1.3 .5 .2 .5-.2 .5-1.4 .5-2.5 .3-4.5 .2-21.5-.2-3.5-.4-1-.2-.6-.4 0-.6 .8-.5 4.3-.5z" fill="#42a0ec" fill-rule="evenodd"/>
<path d="M311.6 198.8l18 .1 3.6 .4 .6 .3 .3 .5-.3 .5-1.8 .5-3.1 .3-4.8 0-17.5-.2-3-.3-.7-.3-.4-.5 .4-.5 1.7-.4 7-.4z" fill="#3f9aed" fill-rule="evenodd"/>
<path d="M307.6 199.1l7-.2 12.5 0 4.1 .4 .8 .3 .4 .5-.4 .5-2.4 .5-7.5 .2-14.5-.2-3-.4-.7-.3-.1-.3 .1-.3 .7-.3 3-.4z" fill="#3c94ed" fill-rule="evenodd"/>
<path d="M310.1 199.1l10-.1 6.5 .1 3 .3 .8 .2 .5 .5-.5 .5-2.3 .4-8 .2-11.5-.2-3-.4-.5-.2-.1-.3 .6-.5 1-.2 3.5-.3z" fill="#3a8dee" fill-rule="evenodd"/>
<path d="M313.1 199.1l12.5 .1 3.3 .4 .5 .2 .2 .3-.2 .3-.5 .2-1.8 .3-8 .3-10-.3-2.3-.3-.6-.2-.2-.3 .2-.3 .6-.2 1.3-.2 5-.3z" fill="#3787ef" fill-rule="evenodd"/>
<path d="M309.6 199.3l6-.2 8 .1 3.5 .3 1.2 .3 .1 .3-.1 .3-.7 .2-1.5 .3-7.5 .2-9-.2-1.8-.3-.7-.2-.1-.3 .1-.3 .7-.2 1.8-.3z" fill="#3581f0" fill-rule="evenodd"/>
<path d="M311.1 199.3l5.5-.1 6.5 .1 3.3 .3 .8 .2 .1 .3-.1 .3-.8 .2-1.8 .2-6.5 .2-7.5-.2-1.7-.2-.9-.2-.2-.3 .2-.3 .9-.2 2.2-.3z" fill="#327bf0" fill-rule="evenodd"/>
<path d="M312.6 199.3l10.2 0 2.5 .3 .9 .2 .2 .3-.8 .4-1.5 .2-6.5 .3-6.5-.3-1.5-.1-.7-.2-.2-.3 .2-.3 1-.2 2.7-.3z" fill="#3074f1" fill-rule="evenodd"/>
<path d="M315.1 199.3l7.5 .1 2 .3 .8 .4-.2 .3-1.6 .3-6 .2-6-.2-1.9-.3-.2-.3 .2-.3 1.2-.2 4.2-.3z" fill="#2d6ef2" fill-rule="evenodd"/>
<path d="M312.1 199.6l4-.2 4.5 0 2.5 .2 1.2 .2 .3 .3-.3 .3-1.3 .2-5.4 .2-5.7-.2-1.3-.2-.4-.3 .4-.3 1.5-.2z" fill="#2a68f3" fill-rule="evenodd"/>
<path d="M313.1 199.6l7.5-.1 2.5 .3 .6 .3-.4 .3-1.5 .2-4.2 .1-4.6-.1-1.6-.2-.4-.3 .4-.3 1.7-.2z" fill="#2861f3" fill-rule="evenodd"/>
<path d="M314.6 199.6l5.7 0 2.1 .2 .4 .3-.4 .3-1.3 .1-4 .2-3.5-.2-1.4-.1-.5-.3 .5-.3 2.4-.2z" fill="#255bf4" fill-rule="evenodd"/>
<path d="M313.1 199.8l5.5-.2 2.8 .2 .6 .3-.6 .3-1.3 .1-4 .1-3-.2-.6-.3 .6-.3z" fill="#2355f5" fill-rule="evenodd"/>
<path d="M314.6 199.8l4-.1 1.7 .1 .7 .3-.9 .3-3 .1-2.9-.1-.8-.3 1.2-.3z" fill="#204ff6" fill-rule="evenodd"/>
<path d="M316.1 199.8l2.6 0 1.3 .3-1.3 .3-1.6 0-2.7-.3 1.7-.3z" fill="#1e48f6" fill-rule="evenodd"/>
<path d="M316.1 200.1l2.2 0-2.3 0 .1 0z" fill="#1b42f7" fill-rule="evenodd"/>
</g>
<clipPath id="cc11"><rect x="258.6" y="207.4" width="167.60" height="14.60"/></clipPath>
<g clip-path="url(#cc11)">
<path d="M349.7 210.9l10.5 .2 3.8 .3 2.7 .5 1.6 .5 1.1 .8 .4 .7 0 1.6-.4 .7-1.1 .8-3.1 .8-6 .6-8.5 .1-12.6-.4-26.5-1.6-16-.3-3.7-.5-.9-.5-.2-.5 .2-.5 .9-.5 3.7-.5 16-.3 26-1.6 12.1-.4zM374.2 213.1l1-.1 1.3 .7 .4 .7 0 .6-.7 1-.5 .2-1 .2-1-.3-.8-.6-.2-.8 .2-.8 .5-.5 .8-.3z" fill="#dbf0fa" fill-rule="evenodd"/>
<path d="M320.6 212.9l9-.1 6 .2 3.3 .7 .6 .5 .1 .8-.3 .5-.4 .2-1.8 .5-3.5 .3-5.5 .1-27.5-.7-3.4-.4-.8-.3-.4-.5 .4-.5 .8-.3 2.9-.3 20.5-.7z" fill="#bae4f6" fill-rule="evenodd"/>
<path d="M314.1 213.4l7 0 4.5 .1 2.8 .4 .5 .3 .3 .5-.3 .5-1.7 .5-7.1 .3-17-.4-3.3-.4-.6-.2-.1-.3 .1-.3 .6-.2 2.3-.4 12-.4z" fill="#a0d9f4" fill-rule="evenodd"/>
<path d="M312.6 213.7l8.5 .2 1.9 .3 .5 .2 .1 .3-.1 .3-.5 .2-1.3 .3-6.6 .2-10.5-.2-2.1-.3-.9-.2-.2-.3 .2-.3 .9-.2 1.6-.2 8.5-.3z" fill="#84cef1" fill-rule="evenodd"/>
<path d="M309.6 213.9l7.5 .2 1.5 .1 .8 .2 .2 .3-.2 .3-1.8 .3-5.5 .2-6.5-.2-1.9-.3-.3-.3 .3-.3 1.3-.2 4.6-.3z" fill="#6ac2ee" fill-rule="evenodd"/>
<path d="M308.6 214.2l5.2 0 2.2 .2 .4 .3-.4 .3-1.4 .1-3.5 .2-4-.2-1.2-.1-.6-.3 .6-.3 2.7-.2z" fill="#54b7eb" fill-rule="evenodd"/>
<path d="M309.6 214.4l1.7 0 1.6 .3-2.3 .3-2.7-.3 1.7-.3z" fill="#48b0ea" fill-rule="evenodd"/>
</g>
<clipPath id="cc12"><rect x="258.6" y="222.0" width="167.60" height="14.60"/></clipPath>
<g clip-path="url(#cc12)">
<path d="M341.6 226.3l9.1 .1 5.7 .6 1.6 .5 .8 .5 .4 .8 0 1-.4 .8-.8 .5-3.1 .7-5.2 .4-7 .1-10.6-.3-19.5-1-14.5-.4-3.9-.5-.6-.3-.3-.5 .3-.5 .6-.3 3.9-.5 15-.4 18.5-1 10-.3z" fill="#dbf0fa" fill-rule="evenodd"/>
<path d="M311.6 228l9.5-.2 6 .2 3.6 .5 .4 .3 .2 .5-.2 .5-.4 .3-1.6 .3-3 .3-4.5 .1-19-.5-3.5-.5-.6-.2-.2-.3 .2-.3 .5-.2 2.1-.3 10.5-.5z" fill="#bae4f6" fill-rule="evenodd"/>
<path d="M305.6 228.5l7-.2 5.5 .1 3.4 .4 .6 .2 .1 .3-.1 .3-.6 .2-1.5 .3-5.9 .2-9.5-.3-2-.2-.8-.2-.3-.3 .3-.3 1-.2 2.8-.3z" fill="#a0d9f4" fill-rule="evenodd"/>
<path d="M307.1 228.8l7 0 2.3 .2 .4 .3-.4 .3-1.6 .2-3.7 .1-4.5-.1-1.8-.2-.5-.3 .5-.3 2.3-.2z" fill="#84cef1" fill-rule="evenodd"/>
<path d="M308.6 229.3l2.4 0-2.5 0 .1 0z" fill="#6ac2ee" fill-rule="evenodd"/>
</g>
<clipPath id="cc13"><rect x="258.6" y="236.6" width="167.60" height="14.60"/></clipPath>
<g clip-path="url(#cc13)">
<path d="M325.1 241.9l10-.2 6.5 .4 2.1 .3 1.3 .5 .5 .5 .1 .8-.3 .5-.8 .5-2.3 .5-4.1 .3-5.5 .1-32-1.1-3.2-.3-.9-.3-.5-.5 .5-.5 .6-.2 3-.4 25-.9zM349.2 242.3l1.5 .1 .8 .7 .2 1.1-.2 .5-.5 .5-.8 .3-1 0-.9-.3-.8-.8-.1-.8 .5-.7 1.3-.6z" fill="#dbf0fa" fill-rule="evenodd"/>
<path d="M305.1 243.1l7-.2 6 .1 3.6 .4 .6 .2 .1 .3-.1 .3-.6 .2-1.4 .3-6.2 .2-9.5-.3-2.2-.2-1.1-.2-.2-.3 .2-.3 1.1-.2 2.7-.3z" fill="#bae4f6" fill-rule="evenodd"/>
<path d="M306.6 243.6l4.5-.1 1.9 .1 .6 .3-.6 .3-3.4 .1-3.2-.1-.9-.3 1.1-.3z" fill="#a0d9f4" fill-rule="evenodd"/>
</g>
<clipPath id="cc14"><rect x="258.6" y="251.2" width="167.60" height="14.50"/></clipPath>
<g clip-path="url(#cc14)">
<path d="M314.1 257.2l7.5-.1 5 .2 3 .4 .5 .3 .3 .4-.3 .6-1.7 .4-2.8 .3-5 .1-17.5-.5-3.3-.3-.7-.3-.2-.3 .2-.2 .7-.2 2.3-.3 12-.5z" fill="#dbf0fa" fill-rule="evenodd"/>
<path d="M306.6 258.4l2.5-.2 2.1 .2-2.1 .3-2.5-.3z" fill="#bae4f6" fill-rule="evenodd"/>
</g>
<line x1="258.6" y1="63.8" x2="426.2" y2="63.8" stroke="#a0a0a0" stroke-width="1.8"/>
<line x1="258.6" y1="78.3" x2="426.2" y2="78.3" stroke="#a0a0a0" stroke-width="1.8"/>
<line x1="258.6" y1="92.9" x2="426.2" y2="92.9" stroke="#a0a0a0" stroke-width="1.8"/>
<line x1="258.6" y1="107.5" x2="426.2" y2="107.5" stroke="#a0a0a0" stroke-width="1.8"/>
<line x1="258.6" y1="122.1" x2="426.2" y2="122.1" stroke="#a0a0a0" stroke-width="1.8"/>
<line x1="258.6" y1="136.7" x2="426.2" y2="136.7" stroke="#a0a0a0" stroke-width="1.8"/>
<line x1="258.6" y1="151.3" x2="426.2" y2="151.3" stroke="#a0a0a0" stroke-width="1.8"/>
<line x1="258.6" y1="163.7" x2="426.2" y2="163.7" stroke="#a0a0a0" stroke-width="1.8"/>
<line x1="258.6" y1="178.3" x2="426.2" y2="178.3" stroke="#a0a0a0" stroke-width="1.8"/>
<line x1="258.6" y1="192.8" x2="426.2" y2="192.8" stroke="#a0a0a0" stroke-width="1.8"/>
<line x1="258.6" y1="207.4" x2="426.2" y2="207.4" stroke="#a0a0a0" stroke-width="1.8"/>
<line x1="258.6" y1="222.0" x2="426.2" y2="222.0" stroke="#a0a0a0" stroke-width="1.8"/>
<line x1="258.6" y1="236.6" x2="426.2" y2="236.6" stroke="#a0a0a0" stroke-width="1.8"/>
<line x1="258.6" y1="251.2" x2="426.2" y2="251.2" stroke="#a0a0a0" stroke-width="1.8"/>
<line x1="286.53" y1="49.2" x2="286.53" y2="51.2" stroke="#555" stroke-width="0.8"/>
<line x1="286.53" y1="63.8" x2="286.53" y2="61.8" stroke="#555" stroke-width="0.8"/>
<line x1="314.47" y1="49.2" x2="314.47" y2="51.2" stroke="#555" stroke-width="0.8"/>
<line x1="314.47" y1="63.8" x2="314.47" y2="61.8" stroke="#555" stroke-width="0.8"/>
<line x1="342.40" y1="49.2" x2="342.40" y2="51.2" stroke="#555" stroke-width="0.8"/>
<line x1="342.40" y1="63.8" x2="342.40" y2="61.8" stroke="#555" stroke-width="0.8"/>
<line x1="370.33" y1="49.2" x2="370.33" y2="51.2" stroke="#555" stroke-width="0.8"/>
<line x1="370.33" y1="63.8" x2="370.33" y2="61.8" stroke="#555" stroke-width="0.8"/>
<line x1="398.27" y1="49.2" x2="398.27" y2="51.2" stroke="#555" stroke-width="0.8"/>
<line x1="398.27" y1="63.8" x2="398.27" y2="61.8" stroke="#555" stroke-width="0.8"/>
<line x1="258.6" y1="56.50" x2="260.20000000000005" y2="56.50" stroke="#555" stroke-width="0.8"/>
<line x1="426.2" y1="56.50" x2="424.59999999999997" y2="56.50" stroke="#555" stroke-width="0.8"/>
<text x="256.80" y="57.70" font-size="10.8" text-anchor="end" fill="#1a1a1a">-80.8 </text>
<path d="M763 0H583V1110Q518 1050 412 990Q306 930 222 900V1070Q373 1140 486 1240Q599 1340 646 1409H763Z" fill="#1a1a1a" transform="translate(250.79 57.70) scale(0.005273 -0.005273)"/>
<line x1="286.53" y1="63.8" x2="286.53" y2="65.8" stroke="#555" stroke-width="0.8"/>
<line x1="286.53" y1="78.3" x2="286.53" y2="76.3" stroke="#555" stroke-width="0.8"/>
<line x1="314.47" y1="63.8" x2="314.47" y2="65.8" stroke="#555" stroke-width="0.8"/>
<line x1="314.47" y1="78.3" x2="314.47" y2="76.3" stroke="#555" stroke-width="0.8"/>
<line x1="342.40" y1="63.8" x2="342.40" y2="65.8" stroke="#555" stroke-width="0.8"/>
<line x1="342.40" y1="78.3" x2="342.40" y2="76.3" stroke="#555" stroke-width="0.8"/>
<line x1="370.33" y1="63.8" x2="370.33" y2="65.8" stroke="#555" stroke-width="0.8"/>
<line x1="370.33" y1="78.3" x2="370.33" y2="76.3" stroke="#555" stroke-width="0.8"/>
<line x1="398.27" y1="63.8" x2="398.27" y2="65.8" stroke="#555" stroke-width="0.8"/>
<line x1="398.27" y1="78.3" x2="398.27" y2="76.3" stroke="#555" stroke-width="0.8"/>
<line x1="258.6" y1="71.05" x2="260.20000000000005" y2="71.05" stroke="#555" stroke-width="0.8"/>
<line x1="426.2" y1="71.05" x2="424.59999999999997" y2="71.05" stroke="#555" stroke-width="0.8"/>
<text x="256.80" y="72.70" font-size="10.8" text-anchor="end" fill="#1a1a1a">-78.74</text>
<line x1="286.53" y1="78.3" x2="286.53" y2="80.3" stroke="#555" stroke-width="0.8"/>
<line x1="286.53" y1="92.9" x2="286.53" y2="90.9" stroke="#555" stroke-width="0.8"/>
<line x1="314.47" y1="78.3" x2="314.47" y2="80.3" stroke="#555" stroke-width="0.8"/>
<line x1="314.47" y1="92.9" x2="314.47" y2="90.9" stroke="#555" stroke-width="0.8"/>
<line x1="342.40" y1="78.3" x2="342.40" y2="80.3" stroke="#555" stroke-width="0.8"/>
<line x1="342.40" y1="92.9" x2="342.40" y2="90.9" stroke="#555" stroke-width="0.8"/>
<line x1="370.33" y1="78.3" x2="370.33" y2="80.3" stroke="#555" stroke-width="0.8"/>
<line x1="370.33" y1="92.9" x2="370.33" y2="90.9" stroke="#555" stroke-width="0.8"/>
<line x1="398.27" y1="78.3" x2="398.27" y2="80.3" stroke="#555" stroke-width="0.8"/>
<line x1="398.27" y1="92.9" x2="398.27" y2="90.9" stroke="#555" stroke-width="0.8"/>
<line x1="258.6" y1="85.60" x2="260.20000000000005" y2="85.60" stroke="#555" stroke-width="0.8"/>
<line x1="426.2" y1="85.60" x2="424.59999999999997" y2="85.60" stroke="#555" stroke-width="0.8"/>
<text x="256.80" y="87.60" font-size="10.8" text-anchor="end" fill="#1a1a1a">-76.67</text>
<line x1="286.53" y1="92.9" x2="286.53" y2="94.9" stroke="#555" stroke-width="0.8"/>
<line x1="286.53" y1="107.5" x2="286.53" y2="105.5" stroke="#555" stroke-width="0.8"/>
<line x1="314.47" y1="92.9" x2="314.47" y2="94.9" stroke="#555" stroke-width="0.8"/>
<line x1="314.47" y1="107.5" x2="314.47" y2="105.5" stroke="#555" stroke-width="0.8"/>
<line x1="342.40" y1="92.9" x2="342.40" y2="94.9" stroke="#555" stroke-width="0.8"/>
<line x1="342.40" y1="107.5" x2="342.40" y2="105.5" stroke="#555" stroke-width="0.8"/>
<line x1="370.33" y1="92.9" x2="370.33" y2="94.9" stroke="#555" stroke-width="0.8"/>
<line x1="370.33" y1="107.5" x2="370.33" y2="105.5" stroke="#555" stroke-width="0.8"/>
<line x1="398.27" y1="92.9" x2="398.27" y2="94.9" stroke="#555" stroke-width="0.8"/>
<line x1="398.27" y1="107.5" x2="398.27" y2="105.5" stroke="#555" stroke-width="0.8"/>
<line x1="258.6" y1="100.20" x2="260.20000000000005" y2="100.20" stroke="#555" stroke-width="0.8"/>
<line x1="426.2" y1="100.20" x2="424.59999999999997" y2="100.20" stroke="#555" stroke-width="0.8"/>
<text x="256.80" y="101.10" font-size="10.8" text-anchor="end" fill="#1a1a1a">-74.60</text>
<line x1="286.53" y1="107.5" x2="286.53" y2="109.5" stroke="#555" stroke-width="0.8"/>
<line x1="286.53" y1="122.1" x2="286.53" y2="120.1" stroke="#555" stroke-width="0.8"/>
<line x1="314.47" y1="107.5" x2="314.47" y2="109.5" stroke="#555" stroke-width="0.8"/>
<line x1="314.47" y1="122.1" x2="314.47" y2="120.1" stroke="#555" stroke-width="0.8"/>
<line x1="342.40" y1="107.5" x2="342.40" y2="109.5" stroke="#555" stroke-width="0.8"/>
<line x1="342.40" y1="122.1" x2="342.40" y2="120.1" stroke="#555" stroke-width="0.8"/>
<line x1="370.33" y1="107.5" x2="370.33" y2="109.5" stroke="#555" stroke-width="0.8"/>
<line x1="370.33" y1="122.1" x2="370.33" y2="120.1" stroke="#555" stroke-width="0.8"/>
<line x1="398.27" y1="107.5" x2="398.27" y2="109.5" stroke="#555" stroke-width="0.8"/>
<line x1="398.27" y1="122.1" x2="398.27" y2="120.1" stroke="#555" stroke-width="0.8"/>
<line x1="258.6" y1="114.80" x2="260.20000000000005" y2="114.80" stroke="#555" stroke-width="0.8"/>
<line x1="426.2" y1="114.80" x2="424.59999999999997" y2="114.80" stroke="#555" stroke-width="0.8"/>
<text x="256.80" y="116.50" font-size="10.8" text-anchor="end" fill="#1a1a1a">-55.95</text>
<line x1="286.53" y1="122.1" x2="286.53" y2="124.1" stroke="#555" stroke-width="0.8"/>
<line x1="286.53" y1="136.7" x2="286.53" y2="134.7" stroke="#555" stroke-width="0.8"/>
<line x1="314.47" y1="122.1" x2="314.47" y2="124.1" stroke="#555" stroke-width="0.8"/>
<line x1="314.47" y1="136.7" x2="314.47" y2="134.7" stroke="#555" stroke-width="0.8"/>
<line x1="342.40" y1="122.1" x2="342.40" y2="124.1" stroke="#555" stroke-width="0.8"/>
<line x1="342.40" y1="136.7" x2="342.40" y2="134.7" stroke="#555" stroke-width="0.8"/>
<line x1="370.33" y1="122.1" x2="370.33" y2="124.1" stroke="#555" stroke-width="0.8"/>
<line x1="370.33" y1="136.7" x2="370.33" y2="134.7" stroke="#555" stroke-width="0.8"/>
<line x1="398.27" y1="122.1" x2="398.27" y2="124.1" stroke="#555" stroke-width="0.8"/>
<line x1="398.27" y1="136.7" x2="398.27" y2="134.7" stroke="#555" stroke-width="0.8"/>
<line x1="258.6" y1="129.40" x2="260.20000000000005" y2="129.40" stroke="#555" stroke-width="0.8"/>
<line x1="426.2" y1="129.40" x2="424.59999999999997" y2="129.40" stroke="#555" stroke-width="0.8"/>
<text x="256.80" y="131.50" font-size="10.8" text-anchor="end" fill="#1a1a1a">-37.30</text>
<line x1="286.53" y1="136.7" x2="286.53" y2="138.7" stroke="#555" stroke-width="0.8"/>
<line x1="286.53" y1="151.3" x2="286.53" y2="149.3" stroke="#555" stroke-width="0.8"/>
<line x1="314.47" y1="136.7" x2="314.47" y2="138.7" stroke="#555" stroke-width="0.8"/>
<line x1="314.47" y1="151.3" x2="314.47" y2="149.3" stroke="#555" stroke-width="0.8"/>
<line x1="342.40" y1="136.7" x2="342.40" y2="138.7" stroke="#555" stroke-width="0.8"/>
<line x1="342.40" y1="151.3" x2="342.40" y2="149.3" stroke="#555" stroke-width="0.8"/>
<line x1="370.33" y1="136.7" x2="370.33" y2="138.7" stroke="#555" stroke-width="0.8"/>
<line x1="370.33" y1="151.3" x2="370.33" y2="149.3" stroke="#555" stroke-width="0.8"/>
<line x1="398.27" y1="136.7" x2="398.27" y2="138.7" stroke="#555" stroke-width="0.8"/>
<line x1="398.27" y1="151.3" x2="398.27" y2="149.3" stroke="#555" stroke-width="0.8"/>
<line x1="258.6" y1="144.00" x2="260.20000000000005" y2="144.00" stroke="#555" stroke-width="0.8"/>
<line x1="426.2" y1="144.00" x2="424.59999999999997" y2="144.00" stroke="#555" stroke-width="0.8"/>
<text x="256.80" y="147.40" font-size="10.8" text-anchor="end" fill="#1a1a1a">- 8.65</text>
<path d="M763 0H583V1110Q518 1050 412 990Q306 930 222 900V1070Q373 1140 486 1240Q599 1340 646 1409H763Z" fill="#1a1a1a" transform="translate(229.77 147.40) scale(0.005273 -0.005273)"/>
<line x1="286.53" y1="151.3" x2="286.53" y2="153.3" stroke="#555" stroke-width="0.8"/>
<line x1="286.53" y1="163.7" x2="286.53" y2="161.7" stroke="#555" stroke-width="0.8"/>
<line x1="314.47" y1="151.3" x2="314.47" y2="153.3" stroke="#555" stroke-width="0.8"/>
<line x1="314.47" y1="163.7" x2="314.47" y2="161.7" stroke="#555" stroke-width="0.8"/>
<line x1="342.40" y1="151.3" x2="342.40" y2="153.3" stroke="#555" stroke-width="0.8"/>
<line x1="342.40" y1="163.7" x2="342.40" y2="161.7" stroke="#555" stroke-width="0.8"/>
<line x1="370.33" y1="151.3" x2="370.33" y2="153.3" stroke="#555" stroke-width="0.8"/>
<line x1="370.33" y1="163.7" x2="370.33" y2="161.7" stroke="#555" stroke-width="0.8"/>
<line x1="398.27" y1="151.3" x2="398.27" y2="153.3" stroke="#555" stroke-width="0.8"/>
<line x1="398.27" y1="163.7" x2="398.27" y2="161.7" stroke="#555" stroke-width="0.8"/>
<line x1="258.6" y1="157.50" x2="260.20000000000005" y2="157.50" stroke="#555" stroke-width="0.8"/>
<line x1="426.2" y1="157.50" x2="424.59999999999997" y2="157.50" stroke="#555" stroke-width="0.8"/>
<text x="228.80" y="160.30" font-size="10.8" text-anchor="start" fill="#1a1a1a">0</text>
<line x1="286.53" y1="163.7" x2="286.53" y2="165.7" stroke="#555" stroke-width="0.8"/>
<line x1="286.53" y1="178.3" x2="286.53" y2="176.3" stroke="#555" stroke-width="0.8"/>
<line x1="314.47" y1="163.7" x2="314.47" y2="165.7" stroke="#555" stroke-width="0.8"/>
<line x1="314.47" y1="178.3" x2="314.47" y2="176.3" stroke="#555" stroke-width="0.8"/>
<line x1="342.40" y1="163.7" x2="342.40" y2="165.7" stroke="#555" stroke-width="0.8"/>
<line x1="342.40" y1="178.3" x2="342.40" y2="176.3" stroke="#555" stroke-width="0.8"/>
<line x1="370.33" y1="163.7" x2="370.33" y2="165.7" stroke="#555" stroke-width="0.8"/>
<line x1="370.33" y1="178.3" x2="370.33" y2="176.3" stroke="#555" stroke-width="0.8"/>
<line x1="398.27" y1="163.7" x2="398.27" y2="165.7" stroke="#555" stroke-width="0.8"/>
<line x1="398.27" y1="178.3" x2="398.27" y2="176.3" stroke="#555" stroke-width="0.8"/>
<line x1="258.6" y1="171.00" x2="260.20000000000005" y2="171.00" stroke="#555" stroke-width="0.8"/>
<line x1="426.2" y1="171.00" x2="424.59999999999997" y2="171.00" stroke="#555" stroke-width="0.8"/>
<text x="256.80" y="172.30" font-size="10.8" text-anchor="end" fill="#1a1a1a"> 8.65</text>
<path d="M763 0H583V1110Q518 1050 412 990Q306 930 222 900V1070Q373 1140 486 1240Q599 1340 646 1409H763Z" fill="#1a1a1a" transform="translate(229.77 172.30) scale(0.005273 -0.005273)"/>
<line x1="286.53" y1="178.3" x2="286.53" y2="180.3" stroke="#555" stroke-width="0.8"/>
<line x1="286.53" y1="192.8" x2="286.53" y2="190.8" stroke="#555" stroke-width="0.8"/>
<line x1="314.47" y1="178.3" x2="314.47" y2="180.3" stroke="#555" stroke-width="0.8"/>
<line x1="314.47" y1="192.8" x2="314.47" y2="190.8" stroke="#555" stroke-width="0.8"/>
<line x1="342.40" y1="178.3" x2="342.40" y2="180.3" stroke="#555" stroke-width="0.8"/>
<line x1="342.40" y1="192.8" x2="342.40" y2="190.8" stroke="#555" stroke-width="0.8"/>
<line x1="370.33" y1="178.3" x2="370.33" y2="180.3" stroke="#555" stroke-width="0.8"/>
<line x1="370.33" y1="192.8" x2="370.33" y2="190.8" stroke="#555" stroke-width="0.8"/>
<line x1="398.27" y1="178.3" x2="398.27" y2="180.3" stroke="#555" stroke-width="0.8"/>
<line x1="398.27" y1="192.8" x2="398.27" y2="190.8" stroke="#555" stroke-width="0.8"/>
<line x1="258.6" y1="185.55" x2="260.20000000000005" y2="185.55" stroke="#555" stroke-width="0.8"/>
<line x1="426.2" y1="185.55" x2="424.59999999999997" y2="185.55" stroke="#555" stroke-width="0.8"/>
<text x="256.80" y="185.80" font-size="10.8" text-anchor="end" fill="#1a1a1a">37.30</text>
<line x1="286.53" y1="192.8" x2="286.53" y2="194.8" stroke="#555" stroke-width="0.8"/>
<line x1="286.53" y1="207.4" x2="286.53" y2="205.4" stroke="#555" stroke-width="0.8"/>
<line x1="314.47" y1="192.8" x2="314.47" y2="194.8" stroke="#555" stroke-width="0.8"/>
<line x1="314.47" y1="207.4" x2="314.47" y2="205.4" stroke="#555" stroke-width="0.8"/>
<line x1="342.40" y1="192.8" x2="342.40" y2="194.8" stroke="#555" stroke-width="0.8"/>
<line x1="342.40" y1="207.4" x2="342.40" y2="205.4" stroke="#555" stroke-width="0.8"/>
<line x1="370.33" y1="192.8" x2="370.33" y2="194.8" stroke="#555" stroke-width="0.8"/>
<line x1="370.33" y1="207.4" x2="370.33" y2="205.4" stroke="#555" stroke-width="0.8"/>
<line x1="398.27" y1="192.8" x2="398.27" y2="194.8" stroke="#555" stroke-width="0.8"/>
<line x1="398.27" y1="207.4" x2="398.27" y2="205.4" stroke="#555" stroke-width="0.8"/>
<line x1="258.6" y1="200.10" x2="260.20000000000005" y2="200.10" stroke="#555" stroke-width="0.8"/>
<line x1="426.2" y1="200.10" x2="424.59999999999997" y2="200.10" stroke="#555" stroke-width="0.8"/>
<text x="256.80" y="202.40" font-size="10.8" text-anchor="end" fill="#1a1a1a">55.95</text>
<line x1="286.53" y1="207.4" x2="286.53" y2="209.4" stroke="#555" stroke-width="0.8"/>
<line x1="286.53" y1="222.0" x2="286.53" y2="220.0" stroke="#555" stroke-width="0.8"/>
<line x1="314.47" y1="207.4" x2="314.47" y2="209.4" stroke="#555" stroke-width="0.8"/>
<line x1="314.47" y1="222.0" x2="314.47" y2="220.0" stroke="#555" stroke-width="0.8"/>
<line x1="342.40" y1="207.4" x2="342.40" y2="209.4" stroke="#555" stroke-width="0.8"/>
<line x1="342.40" y1="222.0" x2="342.40" y2="220.0" stroke="#555" stroke-width="0.8"/>
<line x1="370.33" y1="207.4" x2="370.33" y2="209.4" stroke="#555" stroke-width="0.8"/>
<line x1="370.33" y1="222.0" x2="370.33" y2="220.0" stroke="#555" stroke-width="0.8"/>
<line x1="398.27" y1="207.4" x2="398.27" y2="209.4" stroke="#555" stroke-width="0.8"/>
<line x1="398.27" y1="222.0" x2="398.27" y2="220.0" stroke="#555" stroke-width="0.8"/>
<line x1="258.6" y1="214.70" x2="260.20000000000005" y2="214.70" stroke="#555" stroke-width="0.8"/>
<line x1="426.2" y1="214.70" x2="424.59999999999997" y2="214.70" stroke="#555" stroke-width="0.8"/>
<text x="256.80" y="214.70" font-size="10.8" text-anchor="end" fill="#1a1a1a">74.60</text>
<line x1="286.53" y1="222.0" x2="286.53" y2="224.0" stroke="#555" stroke-width="0.8"/>
<line x1="286.53" y1="236.6" x2="286.53" y2="234.6" stroke="#555" stroke-width="0.8"/>
<line x1="314.47" y1="222.0" x2="314.47" y2="224.0" stroke="#555" stroke-width="0.8"/>
<line x1="314.47" y1="236.6" x2="314.47" y2="234.6" stroke="#555" stroke-width="0.8"/>
<line x1="342.40" y1="222.0" x2="342.40" y2="224.0" stroke="#555" stroke-width="0.8"/>
<line x1="342.40" y1="236.6" x2="342.40" y2="234.6" stroke="#555" stroke-width="0.8"/>
<line x1="370.33" y1="222.0" x2="370.33" y2="224.0" stroke="#555" stroke-width="0.8"/>
<line x1="370.33" y1="236.6" x2="370.33" y2="234.6" stroke="#555" stroke-width="0.8"/>
<line x1="398.27" y1="222.0" x2="398.27" y2="224.0" stroke="#555" stroke-width="0.8"/>
<line x1="398.27" y1="236.6" x2="398.27" y2="234.6" stroke="#555" stroke-width="0.8"/>
<line x1="258.6" y1="229.30" x2="260.20000000000005" y2="229.30" stroke="#555" stroke-width="0.8"/>
<line x1="426.2" y1="229.30" x2="424.59999999999997" y2="229.30" stroke="#555" stroke-width="0.8"/>
<text x="256.80" y="229.80" font-size="10.8" text-anchor="end" fill="#1a1a1a">76.67</text>
<line x1="286.53" y1="236.6" x2="286.53" y2="238.6" stroke="#555" stroke-width="0.8"/>
<line x1="286.53" y1="251.2" x2="286.53" y2="249.2" stroke="#555" stroke-width="0.8"/>
<line x1="314.47" y1="236.6" x2="314.47" y2="238.6" stroke="#555" stroke-width="0.8"/>
<line x1="314.47" y1="251.2" x2="314.47" y2="249.2" stroke="#555" stroke-width="0.8"/>
<line x1="342.40" y1="236.6" x2="342.40" y2="238.6" stroke="#555" stroke-width="0.8"/>
<line x1="342.40" y1="251.2" x2="342.40" y2="249.2" stroke="#555" stroke-width="0.8"/>
<line x1="370.33" y1="236.6" x2="370.33" y2="238.6" stroke="#555" stroke-width="0.8"/>
<line x1="370.33" y1="251.2" x2="370.33" y2="249.2" stroke="#555" stroke-width="0.8"/>
<line x1="398.27" y1="236.6" x2="398.27" y2="238.6" stroke="#555" stroke-width="0.8"/>
<line x1="398.27" y1="251.2" x2="398.27" y2="249.2" stroke="#555" stroke-width="0.8"/>
<line x1="258.6" y1="243.90" x2="260.20000000000005" y2="243.90" stroke="#555" stroke-width="0.8"/>
<line x1="426.2" y1="243.90" x2="424.59999999999997" y2="243.90" stroke="#555" stroke-width="0.8"/>
<text x="256.80" y="244.30" font-size="10.8" text-anchor="end" fill="#1a1a1a">78.74</text>
<line x1="286.53" y1="251.2" x2="286.53" y2="253.2" stroke="#555" stroke-width="0.8"/>
<line x1="286.53" y1="265.7" x2="286.53" y2="263.7" stroke="#555" stroke-width="0.8"/>
<line x1="314.47" y1="251.2" x2="314.47" y2="253.2" stroke="#555" stroke-width="0.8"/>
<line x1="314.47" y1="265.7" x2="314.47" y2="263.7" stroke="#555" stroke-width="0.8"/>
<line x1="342.40" y1="251.2" x2="342.40" y2="253.2" stroke="#555" stroke-width="0.8"/>
<line x1="342.40" y1="265.7" x2="342.40" y2="263.7" stroke="#555" stroke-width="0.8"/>
<line x1="370.33" y1="251.2" x2="370.33" y2="253.2" stroke="#555" stroke-width="0.8"/>
<line x1="370.33" y1="265.7" x2="370.33" y2="263.7" stroke="#555" stroke-width="0.8"/>
<line x1="398.27" y1="251.2" x2="398.27" y2="253.2" stroke="#555" stroke-width="0.8"/>
<line x1="398.27" y1="265.7" x2="398.27" y2="263.7" stroke="#555" stroke-width="0.8"/>
<line x1="258.6" y1="258.45" x2="260.20000000000005" y2="258.45" stroke="#555" stroke-width="0.8"/>
<line x1="426.2" y1="258.45" x2="424.59999999999997" y2="258.45" stroke="#555" stroke-width="0.8"/>
<text x="256.80" y="260.60" font-size="10.8" text-anchor="end" fill="#1a1a1a">80.8 </text>
<path d="M763 0H583V1110Q518 1050 412 990Q306 930 222 900V1070Q373 1140 486 1240Q599 1340 646 1409H763Z" fill="#1a1a1a" transform="translate(250.79 260.60) scale(0.005273 -0.005273)"/>
<rect x="258.6" y="49.2" width="167.60" height="216.50" fill="none" stroke="#111" stroke-width="1.5"/>
<text x="258.60" y="278.80" font-size="10.8" text-anchor="middle" fill="#1a1a1a">-6</text>
<text x="286.53" y="278.80" font-size="10.8" text-anchor="middle" fill="#1a1a1a">-4</text>
<text x="314.47" y="278.80" font-size="10.8" text-anchor="middle" fill="#1a1a1a">-2</text>
<text x="342.40" y="278.80" font-size="10.8" text-anchor="middle" fill="#1a1a1a">0</text>
<text x="370.33" y="278.80" font-size="10.8" text-anchor="middle" fill="#1a1a1a">2</text>
<text x="398.27" y="278.80" font-size="10.8" text-anchor="middle" fill="#1a1a1a">4</text>
<text x="426.20" y="278.80" font-size="10.8" text-anchor="middle" fill="#1a1a1a">6</text>
<text x="342.40" y="290.80" font-size="11" text-anchor="middle" fill="#1a1a1a">z (mm)</text>
<text x="217.70" y="156.80" font-size="11" text-anchor="middle" transform="rotate(-90 217.70 156.80)" fill="#1a1a1a">t (ps)</text>
<clipPath id="cf0"><rect x="479.3" y="49.2" width="167.70" height="14.60"/></clipPath>
<g clip-path="url(#cf0)">
<path d="M540.9 51.7l16.5 .4 34.5 2.4 19.1 .6 3.5 .5 .9 .4 .2 .5-.2 .5-.9 .4-3.5 .5-14.5 .4-33.1 2.3-17.5 .7-9.5-.1-7.2-.7-4-1-1.2-.7-.7-1-.1-2.1 .3-1 .8-.7 1.6-.8 2-.5 3.5-.5 9.5-.5zM516.8 54.5l1.5-.1 1 .3 .7 .5 .6 1.3-.6 1.3-1.2 .6-1 .2-1.5-.2-.8-.6-.6-1 .2-1.1 .6-.7 1.1-.5z" fill="#dbf0fa" fill-rule="evenodd"/>
<path d="M567.4 54.5l4.5-.2 6 0 27.6 1.1 3.7 .3 1 .3 .5 .5-.5 .5-.7 .2-3 .4-31.1 1.1-6-.1-4-.3-2.3-.5-.9-.8 0-1 .9-.8 2-.5 2.3-.2z" fill="#bae4f6" fill-rule="evenodd"/>
<path d="M580.4 55.2l7.5-.1 14.5 .5 4.1 .3 1 .3 .2 .3-.2 .3-.7 .2-2.9 .3-17.5 .6-7.5-.3-2-.3-.7-.5 0-.6 .7-.5 3.5-.5z" fill="#a0d9f4" fill-rule="evenodd"/>
<path d="M585.9 55.7l5.5-.2 8.5 .2 3.9 .3 1.2 .2 .3 .3-.9 .4-2.5 .3-10.5 .3-5.9-.2-1.3-.3-.6-.2-.1-.3 .1-.3 .6-.2 1.7-.3z" fill="#84cef1" fill-rule="evenodd"/>
<path d="M590.4 56l8.5-.1 3 .3 1.1 .3-.5 .3-2.1 .2-5.5 .2-4.7-.2-1.4-.2-.2-.3 .2-.3 1.6-.2z" fill="#6ac2ee" fill-rule="evenodd"/>
<path d="M594.4 56.2l4 0 1.7 .3-1.3 .3-2.4 0-2.2 0-1-.3 1.2-.3z" fill="#54b7eb" fill-rule="evenodd"/>
</g>
<clipPath id="cf1"><rect x="479.3" y="63.8" width="167.70" height="14.50"/></clipPath>
<g clip-path="url(#cf1)">
<path d="M530.4 65.8l9-.2 10.5 .3 14 .8 30.3 2.3 19.3 .3 4 .6 .9 .4 .4 .7-.4 .8-.9 .4-3.5 .6-19.8 .2-35.3 2.7-11 .6-9 .2-9-.2-7.2-.7-3.7-1-1.3-.8-1.4-1.2-.5 0-3 1-2.5 .1-2-.7-.7-.4-.7-1 0-1 .4-.8 1-.8 1-.4 1.5-.2 1.5 0 1.8 .4 1.7 .7 .5 0 1.7-1.5 2.5-1 3.9-.7 6-.5z" fill="#dbf0fa" fill-rule="evenodd"/>
<path d="M561.4 68.3l11 0 22 1.1 14.1 .3 4 .5 .8 .4 .3 .4-.3 .6-.6 .2-3.7 .5-13.6 .4-18.5 .9-8.5 .3-6.5-.1-4.5-.3-3-.7-.8-.5-.4-.5 0-1.5 .4-.5 .8-.5 3-.7 4-.3z" fill="#bae4f6" fill-rule="evenodd"/>
<path d="M572.4 69.3l8.5-.2 24 .8 4.2 .4 .9 .3 .5 .4-.1 .3-.9 .4-3 .4-26.6 .9-8.5-.3-2.3-.4-.7-.3-.5-.4 0-1 .5-.6 1.8-.4 2.2-.3z" fill="#a0d9f4" fill-rule="evenodd"/>
<path d="M579.4 69.8l7.5-.2 16 .5 4.1 .3 1.1 .4 .2 .2-.2 .3-.6 .3-3.1 .4-18.5 .5-7.5-.3-2.1-.4-.6-.5 0-.5 .6-.5 3.1-.5z" fill="#84cef1" fill-rule="evenodd"/>
<path d="M584.4 70l6.5-.1 10.5 .3 4 .4 .8 .2 .3 .2-.3 .3-.8 .3-2 .2-12.5 .4-6.9-.2-2-.2-1.2-.5 0-.5 .3-.2 3.3-.6z" fill="#6ac2ee" fill-rule="evenodd"/>
<path d="M586.9 70.3l5-.2 8 .2 3.5 .3 1.1 .2 .3 .2-.9 .4-2 .3-9.5 .3-5.5-.2-1.7-.2-.6-.3-.1-.3 .1-.2 .6-.3 1.7-.2z" fill="#54b7eb" fill-rule="evenodd"/>
<path d="M588.9 70.5l4-.2 5.5 .1 3.5 .2 1.4 .4-.4 .3-2 .3-7 .2-5.1-.3-1-.2-.3-.3 .3-.2 1.1-.3z" fill="#48b0ea" fill-rule="evenodd"/>
<path d="M593.4 70.5l5.5 .1 2.1 .2 .6 .2-1.7 .4-4.5 .2-3.5-.1-1.2-.2-.4-.3 .4-.2 2.7-.3z" fill="#47adea" fill-rule="evenodd"/>
<path d="M594.4 70.8l3.7 0 1.4 .2-3.1 .3-2 0-1.2-.3 1.2-.2z" fill="#45aaeb" fill-rule="evenodd"/>
</g>
<clipPath id="cf2"><rect x="479.3" y="78.3" width="167.70" height="14.60"/></clipPath>
<g clip-path="url(#cf2)">
<path d="M528.4 79.8l10.5-.1 13 .5 13.5 1 22.3 1.9 8.2 .5 20.6 0 2.6 .2 1.9 .5 .7 .5 .2 1.1-.5 .7-.9 .5-4 .5-21.1 0-7.7 .5-32.3 2.6-11.5 .6-9.5 .2-9-.2-7.1-.8-3.9-1.1-.9-.5-1.7-1.3-.5 0-3.5 .7-2.5-.2-1-.4-.9-.6-.4-.5-.3-.7 0-.8 .5-.8 .9-.7 1.2-.5 2.5-.2 3.5 .7 .5 0 2.1-1.5 2.9-1.1 4.6-.7 7-.5z" fill="#dbf0fa" fill-rule="evenodd"/>
<path d="M555.9 82.3l11 0 28.1 1.5 16 .2 4.1 .6 1 .5 .1 .5-.1 .5-1 .5-3.6 .5-16.5 .3-22.1 1.2-9.5 .4-7-.1-5-.4-2.1-.4-1.4-.5-.9-.5-.4-.5-.1-1 .1-1 .4-.5 .8-.5 2.8-.8 5.3-.5z" fill="#bae4f6" fill-rule="evenodd"/>
<path d="M567.9 83.3l8.5 0 19.5 .8 12.1 .2 4 .5 .7 .3 .3 .5-.3 .5-.5 .3-3.7 .5-12.6 .2-22 .9-5.5-.1-3.6-.3-2.4-.5-.9-.5-.3-.5 .1-1.3 1.1-.7 2.4-.5 3.1-.3z" fill="#a0d9f4" fill-rule="evenodd"/>
<path d="M575.4 83.8l7 0 23.6 .7 3.5 .3 .8 .3 .4 .5-.4 .5-.8 .3-3 .3-25.6 .7-5 0-3.5-.3-2-.4-1-.6 0-1 .6-.5 2.1-.5 3.3-.3z" fill="#84cef1" fill-rule="evenodd"/>
<path d="M583.4 84.1l21.1 .5 3.5 .4 .8 .3 .1 .3-.1 .3-.8 .3-3.5 .4-20.1 .5-6.9-.2-2.3-.5-.6-.5 .2-.8 1.1-.5 3-.4 4.5-.1z" fill="#6ac2ee" fill-rule="evenodd"/>
<path d="M585.4 84.3l17.5 .4 3.6 .4 .8 .2 .1 .3-.1 .3-.7 .2-3.2 .4-15 .4-7.5-.3-1.5-.2-.9-.5 0-.6 .9-.5 2.5-.3 3.5-.2z" fill="#54b7eb" fill-rule="evenodd"/>
<path d="M585.9 84.6l6-.1 9.5 .2 3.7 .4 .8 .2 .2 .3-.2 .3-.8 .2-2.7 .3-12.5 .3-6.5-.3-1.5-.3-.5-.5 .5-.5 1-.3 3-.2z" fill="#48b0ea" fill-rule="evenodd"/>
<path d="M586.4 84.8l5.5-.1 8 .1 3.7 .3 1 .2 .3 .3-.3 .3-1 .2-2.2 .2-9.5 .2-5.8-.1-1.5-.3-.6-.2-.1-.3 .1-.3 .6-.2 1.8-.3z" fill="#47adea" fill-rule="evenodd"/>
<path d="M589.9 84.8l10 .1 2.5 .3 1 .1 .3 .3-.3 .3-2 .3-8 .2-5.5-.2-1.5-.3-.4-.3 .1-.3 .9-.2 2.9-.3z" fill="#45aaeb" fill-rule="evenodd"/>
<path d="M589.4 85.1l4-.2 5 .1 3 .2 1.2 .4-.4 .3-1.8 .2-6 .2-5-.2-1.3-.2-.2-.3 .2-.3 1.3-.2z" fill="#44a7eb" fill-rule="evenodd"/>
<path d="M592.4 85.1l6 0 2.4 .2 .6 .3-.6 .3-1.4 .1-4.5 .2-3.5-.2-1.3-.1-.4-.3 .4-.3 2.3-.2z" fill="#43a3ec" fill-rule="evenodd"/>
<path d="M592.4 85.3l5-.1 1.8 .1 .9 .3-1.2 .3-3.5 .1-3.2-.1-.7-.3 .9-.3z" fill="#42a0ec" fill-rule="evenodd"/>
</g>
<clipPath id="cf3"><rect x="479.3" y="92.9" width="167.70" height="14.60"/></clipPath>
<g clip-path="url(#cf3)">
<path d="M523.4 94.1l11.5-.1 14 .5 12 .8 24.2 2.1 8.8 .6 6.5 .1 14.1-.4 5 .1 2.9 .4 1.7 .5 .9 .7 .1 1.1-.3 .7-.8 .6-1.6 .4-2.9 .4-6 .1-14.6-.4-7 .2-35 2.9-11 .7-10 .3-11-.1-8.1-.6-3-.6-2.1-.6-2-1-.9-1-.3-1.5 .1-2.6 .6-1 1.3-1 1.9-.7 3.3-.8 7.7-.8z" fill="#dbf0fa" fill-rule="evenodd"/>
<path d="M556.4 96.4l12.5 .4 25.5 1.5 19.1 .1 4 .5 1 .5 .4 .8-.4 .8-1 .5-3.5 .5-20.1 .1-24 1.5-10.5 .4-7.5-.1-5.5-.5-2.1-.4-1.4-.5-.8-.5-.5-.8-.1-1.5 .2-.8 .8-.7 1-.5 1.9-.5 3-.4 8-.4z" fill="#bae4f6" fill-rule="evenodd"/>
<path d="M561.9 97.7l9.5-.2 22 1 16.6 .2 4.2 .5 1 .5 .1 .5-.1 .5-1 .5-3.7 .5-17.1 .2-22.5 1-6 0-4.5-.3-3.1-.6-1.2-.8-.2-.5 0-1 .2-.5 .7-.5 2.1-.7 3-.3z" fill="#a0d9f4" fill-rule="evenodd"/>
<path d="M569.4 98.2l8-.2 18 .7 12.1 .1 4 .5 1.1 .4 .3 .5-.3 .5-.5 .3-3.6 .5-13.1 .2-19 .7-5-.1-4-.3-2.3-.5-.9-.8 0-1 .9-.8 1.9-.5 2.4-.2z" fill="#84cef1" fill-rule="evenodd"/>
<path d="M575.9 98.4l6.5 0 23.6 .6 3.9 .4 .7 .3 .4 .5-.4 .5-.7 .3-3.4 .4-26.6 .6-7.4-.3-2.1-.5-.5-.2-.3-.5 .1-.8 1.2-.7 1.6-.3 3.4-.3z" fill="#6ac2ee" fill-rule="evenodd"/>
<path d="M579.4 98.7l6 0 19 .4 3.7 .3 .9 .3 .5 .5-.1 .3-.9 .4-3 .4-21.6 .5-4.7-.1-3.2-.2-2-.5-.5-.5 .2-.8 1-.5 4.7-.5z" fill="#54b7eb" fill-rule="evenodd"/>
<path d="M580.9 98.9l6.5-.1 16 .4 3.6 .4 1 .3 .2 .3-.2 .3-1 .3-3.1 .4-17 .4-7.5-.3-2.1-.3-.7-.5 0-.6 .7-.5 3.6-.5z" fill="#48b0ea" fill-rule="evenodd"/>
<path d="M581.9 99.2l6.5-.2 13.5 .2 4.1 .4 .9 .3 .1 .3-.1 .3-.6 .2-2.9 .4-14 .3-7.7-.2-1.6-.2-1-.5 0-.6 .3-.2 2.5-.5z" fill="#47adea" fill-rule="evenodd"/>
<path d="M585.4 99.2l6.5-.1 9.5 .2 3.7 .4 .7 .2 .2 .3-.2 .3-.7 .2-2.7 .3-13 .3-6.5-.3-1.3-.3-.5-.5 .5-.5 .8-.2 3-.3z" fill="#45aaeb" fill-rule="evenodd"/>
<path d="M584.9 99.4l5.5-.2 9.5 .2 4 .3 .9 .2 .2 .3-.2 .3-.9 .2-2.4 .3-10.6 .2-6-.2-1.4-.3-.5-.2-.1-.3 .1-.3 .5-.2 1.4-.3z" fill="#44a7eb" fill-rule="evenodd"/>
<path d="M587.4 99.4l5-.1 7.2 .1 3.1 .3 1.1 .2 .3 .3-.3 .3-.9 .2-2 .2-8.5 .2-6-.2-1.1-.2-.7-.2-.2-.3 .2-.3 .7-.2 2.1-.3z" fill="#43a3ec" fill-rule="evenodd"/>
<path d="M590.4 99.4l9.5 .2 2.5 .3 .8 .3-.3 .3-2 .3-7.5 .2-5.5-.2-1.5-.2-.5-.4 .2-.3 .9-.2 3.4-.3z" fill="#42a0ec" fill-rule="evenodd"/>
<path d="M590.9 99.7l7.5 0 2.6 .2 .5 .3-.5 .3-2.1 .2-4.5 .1-4-.1-1.5-.2-.4-.3 .4-.3 2-.2z" fill="#3f9aed" fill-rule="evenodd"/>
<path d="M591.9 99.9l4.5-.1 2.2 .1 .9 .3-1.1 .3-3.5 .1-3-.1-.7-.3 .7-.3z" fill="#3c94ed" fill-rule="evenodd"/>
</g>
<clipPath id="cf4"><rect x="479.3" y="107.5" width="167.70" height="14.60"/></clipPath>
<g clip-path="url(#cf4)">
<path d="M511.8 107.7l12.1-.1 14 .6 15.5 1.2 24.7 2.4 9.3 .5 9.6-.3 19.5-1.7 11-.7 9-.2 7 .3 3.5 .4 0 9.4-7 .7-9.5-.1-11.5-.7-22-1.8-4.6-.3-5.5 0-8.8 .5-22.2 2.2-15 1.2-13.5 .7-11.1 .1-8.8-.4-6.7-.9-2.6-.6-2-.8-1.2-.7-.9-1-.4-1.5 .1-3.1 .7-1.5 1.3-1 2.4-1 3.2-.7 4.4-.6 6-.5z" fill="#dbf0fa" fill-rule="evenodd"/>
<path d="M533.9 110l8-.2 9.5 .3 29.8 2.2 6.7 .3 9.3-.3 21.3-1.4 6-.2 5 .2 5 .5 3 .9 .7 .5 .5 .7 .2 1.8-.2 .8-.5 .7-1.7 .9-3 .7-4.5 .4-11-.1-20.8-1.4-9.3-.3-6.7 .3-25.3 1.9-13 .6-8-.2-6.1-.5-4.1-1-1.3-.8-.6-.7-.3-1 .1-2.1 .3-.7 .8-.8 1.7-.7 1.9-.5 6.6-.8z" fill="#bae4f6" fill-rule="evenodd"/>
<path d="M544.4 111l6-.2 7 .2 25.3 1.5 5.7 .2 7.3-.2 17.8-1 9.4 0 4.1 .4 2.6 .6 .9 .5 .5 .5 .2 .5 .1 1.1-.1 .7-.4 .5-.7 .5-1.3 .5-3.8 .6-5 .3-7.5-.2-16.8-.9-7.3-.2-5.7 .2-22.8 1.4-12 .2-4.5-.2-3.6-.4-2.7-.8-1.4-1-.3-1 .1-1.5 .4-.8 .7-.5 1.1-.5 2.1-.5 4.6-.5z" fill="#a0d9f4" fill-rule="evenodd"/>
<path d="M552.4 111.5l10.5 0 25.5 1.3 5-.1 17.6-.8 7.5 .1 3.8 .3 2.2 .5 1.4 .7 .3 .5 .1 1.1-.2 .7-.5 .5-2 .8-3.6 .5-4.5 .1-27.1-.9-8 .3-16.5 .9-10 .1-4.5-.2-3-.5-2-.6-.7-.5-.4-.5-.1-1 .1-1 .4-.5 .7-.5 3-.8 5-.5z" fill="#84cef1" fill-rule="evenodd"/>
<path d="M554.9 112l4.5-.2 5.5 .1 24 1 19.6-.7 7 .1 3.2 .2 2.3 .5 1.3 .8 .2 .5 .1 .8-.1 .5-.5 .5-1.9 .7-3.1 .4-4 .2-24.6-.7-22 1-8 0-4-.2-3-.4-1.7-.5-1-.8-.2-1.5 .2-.5 .5-.5 2-.8 3.7-.5z" fill="#6ac2ee" fill-rule="evenodd"/>
<path d="M558.9 112.3l8.5-.1 21.5 .8 17.6-.5 6.5 0 3.3 .3 2.2 .5 1.1 .7 .1 1.1-.1 .5-.6 .5-1.3 .5-3.2 .4-4.5 .2-21.6-.6-20 .8-7 0-3.5-.2-3-.4-1.5-.5-.8-.7 0-1.6 .8-.7 2-.6 3.5-.4z" fill="#54b7eb" fill-rule="evenodd"/>
<path d="M561.4 112.5l8-.1 19 .6 16.5-.4 6.1 .1 3.5 .3 2 .5 .7 .5 .2 1.1-.4 .7-2 .7-2.5 .3-4 .2-20.1-.4-18 .6-6.5 0-5.5-.5-1.6-.4-1-.7-.1-1.3 .6-.8 2.1-.6 3-.4z" fill="#48b0ea" fill-rule="evenodd"/>
<path d="M562.9 112.8l7.5-.2 18.5 .5 20.1-.3 3 .2 2 .4 1.3 .6 .2 .8-.1 .5-.5 .5-1.4 .5-2.5 .4-4 .1-18.6-.3-22 .5-5.7-.4-1.7-.5-.7-.5-.1-1.1 .4-.7 1.8-.7 2.5-.3z" fill="#47adea" fill-rule="evenodd"/>
<path d="M566.9 112.8l6-.1 15.5 .4 19.6-.1 2.5 .2 2 .3 1.1 .5 .3 .8-.3 .8-1.6 .6-2.7 .4-3.8 .1-16.6-.2-16 .4-5.5-.1-5.3-.5-1.3-.5-.5-.5 0-1 1-.8 2.3-.5 3.3-.2z" fill="#45aaeb" fill-rule="evenodd"/>
<path d="M566.4 113l5.5-.2 16.5 .4 17.6-.2 4.9 .5 1.2 .5 .3 .8-.3 .8-1.2 .5-2.9 .4-4.1 .1-15-.2-20 .3-4.5-.4-1.7-.5-.5-.5 0-1 .5-.5 1.7-.5 2-.3z" fill="#44a7eb" fill-rule="evenodd"/>
<path d="M569.4 113l5.5 0 14 .2 16.6 0 2.5 .1 2 .4 .8 .3 .3 .3 .1 .5-.1 .5-.3 .3-1.5 .5-2.3 .3-4.1 .1-14-.1-18.5 .2-4.5-.4-1.5-.4-.7-.5 0-1 .7-.5 2-.5 3-.3z" fill="#43a3ec" fill-rule="evenodd"/>
<path d="M568.9 113.2l5.5-.2 14 .3 15.5-.1 3.1 .2 2 .4 .9 .5 .2 .5-.2 .5-.3 .3-1.6 .4-6.1 .4-13-.1-17 .2-5-.4-1-.3-.8-.5-.1-.8 .4-.5 1.4-.5 2.1-.3z" fill="#42a0ec" fill-rule="evenodd"/>
<path d="M572.9 113.3l30 .1 3.8 .4 1.2 .5 .3 .5-.3 .5-.4 .3-1.5 .3-6.6 .4-26.5 0-4.4-.5-.6-.2-.5-.5 .1-.8 1-.5 4.4-.5z" fill="#3f9aed" fill-rule="evenodd"/>
<path d="M572.9 113.5l5.5-.2 22.5 .2 4 .3 1.4 .5 .2 .5-.2 .5-1.6 .5-2.8 .3-4 .1-23 0-4.1-.4-.9-.2-.6-.5 0-.6 .6-.5 3-.5z" fill="#3c94ed" fill-rule="evenodd"/>
<path d="M575.9 113.5l24 .1 4.3 .4 .6 .3 .4 .5-.4 .5-1.9 .5-6.5 .3-20.5 0-3.5-.4-1-.3-.5-.3 0-.6 .8-.5 4.2-.5z" fill="#3a8dee" fill-rule="evenodd"/>
<path d="M580.4 113.5l19 .2 3.4 .3 .7 .3 .4 .5-.4 .5-.7 .3-2.9 .3-18 .2-7.2-.3-2.1-.5-.3-.5 .3-.5 1.8-.5 6-.3z" fill="#3787ef" fill-rule="evenodd"/>
<path d="M576.9 113.8l6-.2 15 .1 3.6 .3 .9 .3 .5 .5-.5 .5-1.5 .3-6.5 .4-16-.1-3.6-.3-1.2-.5 0-.6 .3-.2 3-.5z" fill="#3581f0" fill-rule="evenodd"/>
<path d="M578.9 113.8l18.3 0 3.2 .3 .9 .2 .6 .5-.1 .3-.9 .3-3 .4-13 .1-8-.2-1.8-.4-.5-.5 .5-.5 .8-.2 3-.3z" fill="#327bf0" fill-rule="evenodd"/>
<path d="M581.4 113.8l15.5 .1 3.4 .4 .6 .2 .1 .3-.1 .3-.6 .2-2.4 .4-11.5 .2-8.5-.3-1.7-.3-.4-.2-.2-.3 .2-.3 .4-.2 1.2-.3 4-.2z" fill="#3074f1" fill-rule="evenodd"/>
<path d="M585.9 113.8l11 .2 2.5 .3 .6 .2 .1 .3-.1 .3-.6 .2-2 .3-10.5 .2-8-.2-1.6-.3-.6-.2-.1-.3 .1-.3 .6-.2 1.4-.3 7.2-.2z" fill="#2d6ef2" fill-rule="evenodd"/>
<path d="M580.4 114l6-.2 8.5 .2 3.6 .3 .7 .2 .2 .3-.2 .3-.7 .2-1.9 .3-8.7 .2-7.9-.2-1.7-.3-.7-.2-.2-.3 .2-.3 .7-.2 2.1-.3z" fill="#2a68f3" fill-rule="evenodd"/>
<path d="M581.4 114l6-.1 7 .1 3.2 .3 .8 .2 .2 .3-.2 .3-.8 .2-1.7 .2-8 .2-7-.2-1.7-.2-.8-.2-.1-.3 .1-.3 .8-.2 2.2-.3z" fill="#2861f3" fill-rule="evenodd"/>
<path d="M582.9 114l11 .1 2.8 .2 1 .2 .2 .3-.2 .3-.8 .2-1.5 .1-7.5 .3-6.5-.2-1.5-.2-.7-.2-.2-.3 .2-.3 .9-.2 2.8-.3z" fill="#255bf4" fill-rule="evenodd"/>
<path d="M584.9 114l9 .1 2 .2 1.1 .2 .2 .3-.3 .3-2 .3-6.5 .2-6.5-.2-1.9-.3-.2-.3 .2-.3 1-.2 3.9-.3z" fill="#2355f5" fill-rule="evenodd"/>
<path d="M582.4 114.3l4.5-.2 5.5 0 2.6 .2 1.3 .2 .3 .3-.3 .3-1.4 .2-6.5 .2-6-.2-1.6-.2-.3-.3 .3-.3 1.6-.2z" fill="#204ff6" fill-rule="evenodd"/>
<path d="M583.4 114.3l9-.1 2.5 .2 1 .4-.3 .3-1.5 .2-5.7 .2-5.5-.2-1.4-.2-.3-.3 .3-.3 1.9-.2z" fill="#1e48f6" fill-rule="evenodd"/>
<path d="M584.4 114.3l8 0 2.5 .2 .4 .3-.4 .3-1.9 .2-4.6 .1-4.4-.1-1.8-.2-.3-.3 .3-.3 2.2-.2z" fill="#1b42f7" fill-rule="evenodd"/>
<path d="M585.4 114.3l6.4 0 2.3 .2 .5 .3-.5 .3-1.7 .2-4 .1-4-.2-1.4-.1-.4-.3 .4-.3 2.4-.2z" fill="#183cf8" fill-rule="evenodd"/>
<path d="M587.4 114.3l4.5 .1 1.5 .1 .5 .3-1.5 .4-4 .1-3.5-.1-1.1-.1-.5-.3 1.1-.3 3-.2z" fill="#1635f9" fill-rule="evenodd"/>
<path d="M584.9 114.5l5-.1 2.6 .1 .7 .3-1.3 .3-3.5 .1-3.5-.1-.9-.3 .9-.3z" fill="#132ff9" fill-rule="evenodd"/>
<path d="M585.9 114.5l4.5 0 2.1 .3-.9 .3-3.2 .1-2.7-.1-.9-.3 1.1-.3z" fill="#1129fa" fill-rule="evenodd"/>
<path d="M587.4 114.5l2.8 0 1.4 .3-1.4 .3-1.8 0-2.7-.3 1.7-.3z" fill="#0e23fb" fill-rule="evenodd"/>
<path d="M587.4 114.7l3 .1-3.4 0 .4-.1z" fill="#0c1cfc" fill-rule="evenodd"/>
</g>
<clipPath id="cf5"><rect x="479.3" y="122.1" width="167.70" height="14.60"/></clipPath>
<g clip-path="url(#cf5)">
<path d="M509.3 122.3l10.5 .1 12.6 .6 13 1 24.6 2.4 10.4 .5 10.4-.5 22.2-2.2 13-1 11.5-.6 9.5-.1 0 13.8-9.5-.1-11.5-.6-13-1-22.2-2.2-10.4-.5-10.4 .5-24.6 2.4-13.5 1-12.6 .6-10.5 0-7.5-.4-5.3-.8-1.9-.5-1.8-.8-1.2-.7-.9-1-.4-1.8 .1-3 .9-1.5 1.5-1 2.7-1 3.8-.8 4.8-.5 5.7-.3z" fill="#dbf0fa" fill-rule="evenodd"/>
<path d="M525.4 124.6l8-.2 9.5 .3 30.4 2.2 7.1 .2 7.1-.2 29-2.1 9-.3 7 .1 6.1 .5 4 1 1.3 .8 .6 .7 .3 .8 0 1.5-.3 1.3-.6 .7-1.3 .8-1.5 .5-5.1 .8-7 .3-13.5-.3-28-2.1-7.1-.2-7.1 .2-28.9 2.2-8 .3-7 0-6-.4-4.3-.6-2.4-.7-.9-.5-.8-.8-.4-1 0-2 .4-1 .8-.8 1.5-.7 1.8-.5 6.3-.8z" fill="#bae4f6" fill-rule="evenodd"/>
<path d="M539.9 125.4l11 .2 24.2 1.5 5.3 .1 5.3-.1 25.3-1.5 6.5-.2 5.5 .1 5 .5 2.1 .4 1.5 .5 .8 .5 .6 .7 .2 1.8-.2 .8-.6 .7-.8 .5-1.5 .5-4.6 .7-6.5 .3-10.5-.3-22.8-1.4-5.3-.1-5.3 .1-25.2 1.6-11.5 .1-4.5-.3-3.5-.5-2.5-.9-.8-.5-.3-.5-.2-1.3 .2-1.3 .6-.7 1.4-.8 1.9-.5 2.7-.4 6.5-.3z" fill="#a0d9f4" fill-rule="evenodd"/>
<path d="M541.9 126.1l5-.2 6 .1 19.9 1.1 7.6 .3 7.6-.3 18.5-1 10-.1 4.5 .4 3.3 .7 .9 .5 .5 .5 .3 1.6-.1 .7-.4 .5-.7 .5-1.3 .5-4 .7-5.5 .2-9.1-.2-16.9-.9-7.6-.3-7.6 .3-18.4 1-9.5 .1-4-.2-3.4-.4-2.1-.7-1.1-.8-.2-.8 0-1.3 .4-.7 .7-.5 2.3-.8 4.4-.5z" fill="#84cef1" fill-rule="evenodd"/>
<path d="M548.9 126.4l8.5 0 18 .9 5 .1 23-.9 9.1-.1 4 .4 2.8 .6 1 .5 .5 .5 .2 1.3-.2 .7-.5 .5-1.8 .8-3.5 .5-5.5 .2-7.1-.1-22-.9-5 .1-18 .9-8.7 0-4.1-.2-3-.5-1.7-.8-.6-.7-.1-1.1 .2-.7 .5-.5 .9-.5 3.1-.7 5-.3z" fill="#6ac2ee" fill-rule="evenodd"/>
<path d="M548.4 126.9l4-.2 5 0 16.9 .7 6.6 .1 20-.8 8.1 0 4 .3 2.8 .6 1.2 .8 .2 1.3-.1 .5-.4 .5-1.7 .7-3.2 .5-4.8 .2-6.6 0-20-.8-20.5 .8-7.5 0-6-.4-1.9-.5-1.2-.8-.2-1.3 .1-.5 .4-.5 1.7-.7 3.1-.5z" fill="#54b7eb" fill-rule="evenodd"/>
<path d="M555.4 126.9l6.5 0 18.5 .7 19-.7 7.6 .1 4 .3 2.1 .6 1 .7 .1 1.1-.1 .5-.5 .5-2.1 .7-3.5 .4-4.6 .1-23-.7-19.5 .7-7 0-3.5-.3-2.5-.4-1.1-.5-.6-.8 0-1 .3-.5 1.4-.8 2.9-.5 4.6-.2z" fill="#48b0ea" fill-rule="evenodd"/>
<path d="M555.4 127.1l6.5 0 18.5 .5 18-.5 6.5 0 3.1 .3 2.4 .5 1.2 .7 .2 1.1-.2 .5-.6 .5-1.5 .5-3.5 .4-4.6 .1-21-.5-18 .5-6 0-5.5-.5-1.5-.5-.7-.8 .1-1.3 1.2-.7 2.3-.5 3.1-.3z" fill="#47adea" fill-rule="evenodd"/>
<path d="M555.9 127.4l7-.2 18 .5 16-.5 6 .1 3.6 .3 2 .4 1 .6 .2 1.1-.2 .5-.7 .5-1.8 .5-3.1 .3-4 .1-19.5-.5-16.5 .5-6-.1-5-.5-1.3-.3-.8-.8 0-1 .8-.8 1.9-.5 2.4-.2z" fill="#45aaeb" fill-rule="evenodd"/>
<path d="M559.9 127.4l20.5 .3 15.5-.3 5.5 0 3.1 .2 2.4 .5 .9 .5 .2 .8-.1 .5-.5 .5-1.4 .5-3.1 .4-4 .1-18.5-.3-21 .3-5-.5-1.4-.5-.4-.5 0-1 1-.8 2.3-.5 4-.2z" fill="#44a7eb" fill-rule="evenodd"/>
<path d="M558.4 127.6l6.5-.1 16 .3 19-.3 3 .2 2.3 .4 1 .5 .3 .8-.3 .8-1.8 .6-2.5 .4-4 .1-17.5-.3-19.5 .3-4.5-.4-1.7-.5-.6-.5 0-1 .6-.5 1.7-.5 2-.3z" fill="#43a3ec" fill-rule="evenodd"/>
<path d="M561.4 127.6l19 .2 18.5-.2 4.7 .5 1.2 .5 .4 .8-.4 .8-1.4 .5-3 .4-4 .1-16-.2-18.5 .2-4.5-.4-1.3-.4-.6-.5 0-1 .6-.5 2.1-.5 3.2-.3z" fill="#42a0ec" fill-rule="evenodd"/>
<path d="M561.9 127.9l5-.2 13 .2 17-.1 3 .2 2 .4 .8 .5 .2 .5-.2 .5-.3 .3-1.5 .5-3 .3-4 .1-13-.2-17 .1-4.2-.3-1.6-.5-.4-.5 .1-.8 .9-.5 3.2-.5z" fill="#3f9aed" fill-rule="evenodd"/>
<path d="M565.9 127.9l29.5 0 4.3 .5 1.1 .5 .2 .5-.2 .5-.4 .3-1.5 .4-6.5 .4-27-.1-4.5-.5-.8-.2-.5-.5 .2-.8 1-.5 2.1-.3 3-.2z" fill="#3c94ed" fill-rule="evenodd"/>
<path d="M564.9 128.1l5-.2 24 .1 4 .4 1.3 .5 .2 .5-.2 .5-1.4 .5-2.9 .3-4 .1-24 0-4.1-.4-.9-.2-.7-.5 0-.6 .7-.5 3-.5z" fill="#3a8dee" fill-rule="evenodd"/>
<path d="M567.4 128.1l25.5 0 4 .5 .9 .3 .2 .5-.2 .5-1.7 .5-6.7 .4-21.5-.1-3.5-.3-1-.2-.8-.5 0-.6 .8-.5 4-.5z" fill="#3787ef" fill-rule="evenodd"/>
<path d="M570.9 128.1l21 .1 3.9 .4 .7 .3 .3 .5-.3 .5-.7 .3-3.4 .4-19 .1-7.2-.3-2.1-.5-.3-.5 .3-.5 1.3-.4 5.5-.4z" fill="#3581f0" fill-rule="evenodd"/>
<path d="M567.9 128.4l5.5-.2 17 .1 4.2 .3 .7 .3 .5 .5-.5 .5-1.4 .4-6.5 .3-17.5-.1-3.5-.3-1.4-.5 0-.6 .3-.2 2.6-.5z" fill="#327bf0" fill-rule="evenodd"/>
<path d="M569.9 128.4l20-.1 3.5 .3 .9 .3 .5 .5-.1 .3-.8 .3-2.7 .4-14.3 .2-8.5-.3-2.1-.4-.4-.5 .4-.5 .6-.2 3-.3z" fill="#3074f1" fill-rule="evenodd"/>
<path d="M571.4 128.4l18 0 3.5 .4 .9 .3 .1 .3-.6 .5-2.9 .4-11 .2-9.5-.2-2.6-.4-.5-.5 .1-.3 1-.4 3.5-.3z" fill="#2d6ef2" fill-rule="evenodd"/>
<path d="M573.9 128.4l15 .1 3.5 .4 .5 .2 .1 .3-.1 .3-.5 .2-2.5 .4-10 .2-9.5-.3-2.2-.3-.5-.2-.1-.3 .1-.3 .5-.2 1.2-.2 4.5-.3z" fill="#2a68f3" fill-rule="evenodd"/>
<path d="M577.9 128.4l11 .2 2.7 .3 .5 .2 .2 .3-.2 .3-.5 .2-2.2 .3-9 .2-9.5-.2-1.8-.3-.6-.2-.1-.3 .1-.3 .6-.2 1.5-.3 7.3-.2z" fill="#2861f3" fill-rule="evenodd"/>
<path d="M571.9 128.6l6-.2 9 .1 3.8 .4 .7 .2 .1 .3-.1 .3-.7 .2-1.7 .3-8.6 .2-8.7-.2-1.8-.3-.6-.2-.2-.3 .2-.3 .6-.2 2-.3z" fill="#255bf4" fill-rule="evenodd"/>
<path d="M572.9 128.6l6-.1 7.5 .1 3.5 .3 .8 .2 .2 .3-.2 .3-.8 .2-2 .2-7.5 .2-7.6-.1-2.1-.3-.7-.2-.2-.3 .2-.3 .7-.2 2.2-.3z" fill="#2355f5" fill-rule="evenodd"/>
<path d="M574.4 128.6l12 0 2.7 .3 .9 .2 .2 .3-.2 .3-.9 .2-1.7 .2-7 .2-7.5-.2-1.5-.2-.7-.2-.2-.3 .2-.3 .8-.2 2.9-.3z" fill="#204ff6" fill-rule="evenodd"/>
<path d="M575.4 128.6l10.5 .1 2.5 .2 .9 .2 .3 .3-.7 .4-1.5 .2-7 .2-7-.2-1.5-.2-.8-.4 .2-.3 1-.2 3.1-.3z" fill="#1e48f6" fill-rule="evenodd"/>
<path d="M577.4 128.6l8.5 .1 2 .3 .8 .1 .3 .3-.3 .3-1.8 .3-6.5 .2-6.5-.2-1.9-.3-.3-.3 .3-.3 1.1-.2 4.3-.3z" fill="#1b42f7" fill-rule="evenodd"/>
<path d="M573.9 128.9l4.5-.2 5.5 0 2.9 .2 1.3 .2 .3 .3-.3 .3-1.7 .2-6 .2-6.5-.2-1.3-.2-.3-.3 .3-.3 1.3-.2z" fill="#183cf8" fill-rule="evenodd"/>
<path d="M574.9 128.9l9-.1 2.5 .2 1 .1 .4 .3-.4 .3-1.4 .2-5.6 .2-5.7-.2-1.4-.2-.4-.3 .4-.3 1.6-.2z" fill="#1635f9" fill-rule="evenodd"/>
<path d="M575.9 128.9l8-.1 2.5 .3 .8 .3-.4 .3-1.7 .2-4.7 .1-4.8-.1-1.7-.2-.4-.3 .4-.3 2-.2z" fill="#132ff9" fill-rule="evenodd"/>
<path d="M576.9 128.9l7.2 0 2.1 .2 .4 .3-.4 .3-1.8 .2-4 .1-4.5-.2-1.4-.1-.4-.3 .4-.3 2.4-.2z" fill="#1129fa" fill-rule="evenodd"/>
<path d="M577.9 128.9l5.5 0 2.1 .2 .5 .3-.5 .3-1.1 .1-4 .1-4-.1-1.2-.1-.5-.3 .5-.3 2.7-.2z" fill="#0e23fb" fill-rule="evenodd"/>
<path d="M575.9 129.1l5.5-.2 3.4 .2 .6 .3-1.5 .3-3.5 .2-4-.2-1.1-.3 .6-.3z" fill="#0c1cfc" fill-rule="evenodd"/>
<path d="M576.9 129.1l5-.1 2.1 .1 .8 .3-.9 .3-3.5 .1-3.5-.1-1-.3 1-.3z" fill="#0916fc" fill-rule="evenodd"/>
<path d="M577.9 129.1l4 0 2.2 .3-1 .3-2.7 .1-2.8-.1-1-.3 1.3-.3z" fill="#0610fd" fill-rule="evenodd"/>
<path d="M578.9 129.1l2.9 0 1.5 .3-2.9 .3-3-.3 1.5-.3z" fill="#0409fe" fill-rule="evenodd"/>
<path d="M578.9 129.3l3.3 .1-1.8 .1-1.9-.1 .4-.1z" fill="#0103ff" fill-rule="evenodd"/>
</g>
<clipPath id="cf6"><rect x="479.3" y="136.7" width="167.70" height="14.60"/></clipPath>
<g clip-path="url(#cf6)">
<path d="M632 136.9l8-.1 7 0 0 14.4-12-.1-14-.6-14-1.1-24.6-2.4-9.5-.5-8.9 .3-21.6 1.9-11 .7-9.5 .4-8.1-.1-7-.7-4.2-1-1.1-.5-1.1-.7-.6-1-.2-1 0-1.8 .3-1 .5-.8 1.1-.7 1.8-.8 2.1-.5 6.9-.8 8.5-.2 10.1 .3 11.5 .8 21.6 1.9 8.9 .3 9.5-.5 31.1-3 18.5-1.1z" fill="#dbf0fa" fill-rule="evenodd"/>
<path d="M610.5 139.2l7.5-.2 6.5 0 5.5 .4 4 .6 2.5 .7 1.5 1 .6 1.3 0 2.3-.6 1-1 .7-1.5 .6-2 .5-6 .7-8.5 .2-14.1-.5-25.7-2-6.3-.2-8.9 .2-23.6 1.6-11.5 .1-4.8-.4-3.5-.8-1.8-1-.5-.7-.2-.8 .1-1.3 .2-.7 .7-.8 .8-.5 3-.8 5-.5 5.5-.2 7 .2 23.6 1.6 8.9 .2 6.3-.2 20.7-1.7 10.6-.6z" fill="#bae4f6" fill-rule="evenodd"/>
<path d="M609 140l8.5 .2 3 .3 2.5 .5 1.8 .7 .8 .8 .3 1-.1 1.5-.4 .8-.6 .5-1.1 .5-1.9 .5-4.8 .5-7 .2-10.6-.3-21.8-1.4-5.2-.2-6.8 .2-19.7 1.1-9.5 .1-4.5-.4-2.8-.6-1.5-.7-.5-.5-.2-.8 0-1 .2-.8 .5-.5 .8-.5 3-.7 4-.4 10 0 20.2 1.1 6.8 .2 5.2-.2 21.8-1.4 9.6-.3z" fill="#a0d9f4" fill-rule="evenodd"/>
<path d="M597.4 140.7l10.6-.1 3.5 .2 3.1 .4 1.8 .5 1.3 .8 .4 .7 0 1.6-.4 .7-.7 .5-2.4 .8-4.2 .5-6.5 .1-8.5-.2-15.5-.9-7.5-.3-7 .2-16 .8-8.5 0-4-.3-2.5-.6-1.6-.8-.3-1 .1-1.3 .5-.5 .9-.5 2.4-.6 3.5-.3 9-.1 16.5 .8 7 .2 7.5-.3 17.5-1z" fill="#84cef1" fill-rule="evenodd"/>
<path d="M598.9 141l7.1 .1 4.3 .6 1.5 .5 .7 .5 .3 .8 0 1.3-.6 .7-1.9 .8-3.1 .5-3.8 .2-9-.1-22-1-25.5 .8-5-.2-3.3-.5-1.7-.7-.4-.5-.1-.5 .3-1.3 1.1-.8 2.1-.5 3.5-.3 7.5-.1 15.7 .7 5.8 .1 26.5-1.1z" fill="#6ac2ee" fill-rule="evenodd"/>
<path d="M589.4 141.5l9.5-.2 6.5 .4 2.1 .5 .9 .5 .5 .8 0 1-.3 .5-.6 .5-2.5 .8-3.6 .3-5 .1-24.5-.8-19 .5-6.5 0-3-.2-2.6-.4-1.4-.7-.4-.8 .1-1.1 1-.7 1.8-.5 3.5-.4 7-.1 19 .6 17.5-.6z" fill="#54b7eb" fill-rule="evenodd"/>
<path d="M550.4 141.7l21.5 .5 19-.6 7.5 0 4 .3 2.3 .6 .9 .7 .2 1.1-.2 .5-.5 .5-1.7 .6-3 .4-5 .2-23-.7-17.5 .5-6-.1-3-.2-2-.3-1.2-.4-.7-.8-.1-.8 .2-.5 1.2-.7 2.6-.5 4.5-.3z" fill="#48b0ea" fill-rule="evenodd"/>
<path d="M589.4 141.7l7 .1 4.5 .4 1.9 .8 .4 .5 0 1-.7 .8-2.6 .6-3.5 .3-4.5 .1-19.5-.6-16.5 .4-5.5 0-4.7-.6-1.3-.5-.5-.7 .3-1.1 .7-.5 2.1-.5 2.9-.2 6-.1 16.5 .4 17-.6z" fill="#47adea" fill-rule="evenodd"/>
<path d="M584.4 142l8-.1 5.5 .3 1.5 .3 1.2 .5 .5 .5 0 .8-.2 .5-.5 .3-2 .6-3 .3-4.5 .1-18.5-.4-20.5 .2-4.5-.5-1.1-.4-.6-.7 0-.6 .2-.5 .9-.5 2.1-.4 2.5-.2 5.5-.1 15 .3 12.5-.3z" fill="#45aaeb" fill-rule="evenodd"/>
<path d="M588.9 142l5 .1 3.3 .4 1 .2 .9 .5 .2 .5 0 .6-.6 .7-1.3 .5-5 .5-20.5-.4-15.5 .3-4.2-.1-2.8-.4-1.9-.6-.4-.8 .4-.8 1.1-.5 4.3-.5 19.5 .2 16.5-.4z" fill="#44a7eb" fill-rule="evenodd"/>
<path d="M555.9 142.2l16 .2 19.5-.2 3 .2 2 .3 1.1 .5 .3 .8-.1 .5-.6 .5-1.7 .5-3 .3-4 .1-16-.3-18 .1-4.3-.4-1.3-.5-.3-.5 0-.6 .3-.5 1.3-.5 2.3-.3 3.5-.2z" fill="#43a3ec" fill-rule="evenodd"/>
<path d="M583.4 142.2l6 0 4 .3 1.4 .2 1.2 .5 .4 .5 0 .6-.4 .5-1.2 .5-4.9 .5-18-.3-13.5 .2-4-.1-2.9-.3-1.5-.5-.2-.3-.2-.5 .2-.5 .8-.5 1.8-.4 2.5-.2 17.5 .1 11-.3z" fill="#42a0ec" fill-rule="evenodd"/>
<path d="M557.9 142.5l30.5-.1 2.5 .2 2.1 .4 .9 .5 .1 .5-.1 .5-.3 .3-1.7 .5-6.5 .3-28-.1-4.5-.5-.7-.2-.6-.5 .2-.8 1.1-.5 2-.3 3-.2z" fill="#3f9aed" fill-rule="evenodd"/>
<path d="M582.9 142.5l4.5 .1 3 .3 1.5 .6 .2 .8-.6 .5-.8 .2-4.3 .5-24.5-.1-4.5-.1-2.5-.3-1.4-.5-.2-.5 .2-.5 .9-.4 4-.5 24.5-.1z" fill="#3c94ed" fill-rule="evenodd"/>
<path d="M559.9 142.7l25.5 0 4 .5 .8 .3 .3 .5-.3 .5-1.5 .5-2.8 .3-4 .1-22-.1-3.5-.3-1-.3-.7-.4 0-.6 .8-.5 4.4-.5z" fill="#3a8dee" fill-rule="evenodd"/>
<path d="M563.4 142.7l21 .1 3.8 .4 .6 .3 .3 .5-.3 .5-1.9 .5-7.5 .3-19-.1-3.4-.4-.7-.3-.4-.5 .4-.5 1.6-.4 5.5-.4z" fill="#3787ef" fill-rule="evenodd"/>
<path d="M560.4 143l5.5-.2 16.5 0 4.3 .4 .8 .3 .3 .5-.3 .5-1.6 .4-6 .3-18-.1-3.6-.3-1.2-.5 0-.6 .4-.2 2.9-.5z" fill="#3581f0" fill-rule="evenodd"/>
<path d="M561.9 143l20-.1 3.5 .3 .9 .3 .4 .5-.4 .5-1.9 .4-8 .3-14.5-.2-3-.4-.8-.3-.1-.3 .1-.3 .8-.3 3-.4z" fill="#327bf0" fill-rule="evenodd"/>
<path d="M563.9 143l17.5 0 3 .3 .8 .2 .5 .5-.5 .5-2.3 .4-8 .2-12.5-.2-2.9-.4-.5-.5 .5-.5 .9-.2 3.5-.3z" fill="#3074f1" fill-rule="evenodd"/>
<path d="M566.9 143l14 .1 3.3 .4 .5 .2 .1 .3-.1 .3-.5 .2-1.8 .3-8.5 .3-11-.2-2.4-.4-.6-.2-.1-.3 .1-.3 .6-.2 1.3-.3 5.1-.2z" fill="#2d6ef2" fill-rule="evenodd"/>
<path d="M563.4 143.2l6-.2 9.5 .1 4 .3 .9 .3 .1 .3-.1 .3-.6 .2-1.5 .3-8.3 .2-10-.2-2-.3-.7-.2-.1-.3 .1-.3 .7-.2 2-.3z" fill="#2a68f3" fill-rule="evenodd"/>
<path d="M564.4 143.2l6-.1 8 0 3.9 .4 .7 .2 .1 .3-.1 .3-.7 .2-1.8 .3-7.6 .2-8.8-.2-1.9-.3-.7-.2-.2-.3 .2-.3 .7-.2 2.2-.3z" fill="#2861f3" fill-rule="evenodd"/>
<path d="M565.4 143.2l6.5-.1 6.5 .1 3 .3 .8 .2 .2 .3-.2 .3-.8 .2-1.5 .2-7.5 .2-7.5-.2-1.9-.2-.8-.2-.2-.3 .2-.3 .8-.2 2.4-.3z" fill="#255bf4" fill-rule="evenodd"/>
<path d="M566.9 143.2l11 0 2.7 .3 .9 .2 .2 .3-.8 .4-1.5 .2-7 .3-7-.2-2-.3-.7-.4 .2-.3 1-.2 3-.3z" fill="#2355f5" fill-rule="evenodd"/>
<path d="M568.4 143.2l9 .1 2.3 .2 1 .2 .3 .3-.3 .3-1.8 .3-6.5 .2-7-.2-1.8-.3-.3-.3 .3-.3 1.1-.2 3.7-.3z" fill="#204ff6" fill-rule="evenodd"/>
<path d="M565.9 143.5l4.5-.2 5.5 0 2.9 .2 1.2 .2 .3 .3-.3 .3-1.6 .2-6 .3-6.5-.3-1.6-.2-.3-.3 .3-.3 1.6-.2z" fill="#1e48f6" fill-rule="evenodd"/>
<path d="M566.4 143.5l9-.2 3 .3 .9 .1 .3 .3-.3 .3-1.4 .2-5.5 .2-6-.2-1.5-.2-.3-.3 .3-.3 1.5-.2z" fill="#1b42f7" fill-rule="evenodd"/>
<path d="M567.4 143.5l8-.1 2.5 .2 1.1 .4-.4 .3-1.6 .2-4.6 .1-5.1-.1-1.7-.2-.4-.3 .4-.3 1.8-.2z" fill="#183cf8" fill-rule="evenodd"/>
<path d="M568.4 143.5l7.5 0 2 .2 .4 .3-.4 .3-1.5 .2-4.5 .1-4-.1-1.6-.2-.5-.3 .5-.3 2.1-.2z" fill="#1635f9" fill-rule="evenodd"/>
<path d="M569.9 143.5l5 0 2.3 .2 .5 .3-.5 .3-1.3 .1-4 .1-4-.1-1.4-.4 .5-.3 2.9-.2z" fill="#132ff9" fill-rule="evenodd"/>
<path d="M567.9 143.7l5.5-.2 3 .2 .6 .3-1.1 .3-4 .2-3.5-.2-1.3-.3 .8-.3z" fill="#1129fa" fill-rule="evenodd"/>
<path d="M568.9 143.7l5-.1 1.7 .1 .7 .3-.9 .3-3.5 .1-3.3-.1-.8-.3 1.1-.3z" fill="#0e23fb" fill-rule="evenodd"/>
<path d="M569.9 143.7l4 0 1.6 .3-1 .3-2.6 0-2.3 0-1-.3 1.3-.3z" fill="#0c1cfc" fill-rule="evenodd"/>
<path d="M571.9 143.7l2.7 .3-2.7 .3-2.4-.3 2.4-.3z" fill="#0916fc" fill-rule="evenodd"/>
<path d="M570.9 144l2.2 0-2.2 0z" fill="#0610fd" fill-rule="evenodd"/>
</g>
<clipPath id="cf7"><rect x="479.3" y="151.3" width="167.70" height="12.40"/></clipPath>
<g clip-path="url(#cf7)">
<path d="M481.3 151.5l2.4-.2 25.8 0 17.4 1.1 27.8 2.4 8.7 .4 8.2-.4 27.8-2.4 16.6-1.1 26.6 0 4.4 .5 0 11.4-4.4 .5-25.8 0-17.4-1.1-27.8-2.4-8.7-.4-8.2 .4-27.8 2.4-16.6 1.1-26.6 0-4.4-.5 0-11.4 2-.3z" fill="#dbf0fa" fill-rule="evenodd"/>
<path d="M512.8 153.6l7-.3 8.6 .2 25.7 1.6 9.3 .3 8.8-.3 24.2-1.5 8-.3 6.6 .1 6 .5 2.4 .4 1.6 .5 .9 .5 .7 .8 .2 1.8-.2 1-.7 .8-.9 .5-1.6 .5-4.9 .7-7 .3-13.1-.3-22.2-1.5-8.8-.3-9.3 .3-23.2 1.5-14.1 .2-5.5-.3-4-.6-2.5-.8-1.1-1-.2-1 .1-1.5 .5-.8 .7-.5 1.2-.5 2.2-.5 4.6-.5z" fill="#bae4f6" fill-rule="evenodd"/>
<path d="M528.9 154.3l9.5 .2 16.9 .8 7.6 .3 8.1-.3 17.9-.9 10.5 0 4.5 .3 3 .6 1.2 .6 .5 .5 .2 .5 0 1-.2 .7-.5 .5-2.1 .8-4.1 .6-6 .2-8.5-.2-16.4-.8-7.6-.3-8.1 .3-17.4 .9-10 0-4.2-.2-3.4-.5-2.1-.8-.6-.7-.1-1.3 .2-.7 .5-.5 1.2-.6 4-.7 5.5-.3z" fill="#a0d9f4" fill-rule="evenodd"/>
<path d="M530.9 155.1l4-.2 5.5 0 23 .8 21-.8 8 0 4 .3 3 .6 .8 .3 .5 .5 .2 1 0 .5-.4 .5-1.7 .8-3.4 .5-5.5 .2-26.5-.8-21.5 .8-7.5 0-6-.5-1.7-.5-1.1-.7-.2-.5 0-1 .7-.8 1.8-.6 3-.4z" fill="#84cef1" fill-rule="evenodd"/>
<path d="M536.4 155.3l7.5-.1 19.5 .6 18-.6 7 .1 4 .3 2 .4 1.1 .6 .3 1-.2 .5-.5 .5-1.7 .6-3.4 .5-4.6 .1-22-.6-18.5 .6-6.5-.1-5.5-.5-1.5-.5-.7-.6 0-1.2 .7-.6 2-.6 3-.4z" fill="#6ac2ee" fill-rule="evenodd"/>
<path d="M539.9 155.6l6.5-.1 17 .4 16-.4 6 0 5 .6 1.2 .5 .4 .5 0 .5-.1 .5-.5 .4-2 .6-3 .3-4.5 .1-18.5-.4-16 .4-6 0-3-.2-2.5-.4-1.2-.5-.4-.5 .1-1 .7-.5 2-.5 2.8-.3z" fill="#54b7eb" fill-rule="evenodd"/>
<path d="M541.4 155.8l5.5-.2 16 .3 19.5-.2 3 .2 2.6 .5 1 .5 .2 .7-.2 .5-.4 .3-1.6 .5-3.1 .3-4 .2-16.5-.3-19.5 .2-4.6-.4-1.6-.5-.5-.5 0-.8 .5-.5 1.6-.5 2.1-.3z" fill="#48b0ea" fill-rule="evenodd"/>
<path d="M545.9 155.8l17 .2 18-.1 4.5 .5 1.2 .5 .3 .7-.3 .5-.4 .3-1.8 .4-6.5 .4-14.5-.2-17.5 .2-4.5-.5-1.3-.3-.6-.5-.1-.5 .3-.5 1.2-.5 5-.6z" fill="#47adea" fill-rule="evenodd"/>
<path d="M545.4 156.1l5-.2 28.5 .1 3 .2 2 .4 .7 .3 .3 .2 .1 .5-.4 .5-1.4 .5-2.8 .3-4 .2-29-.1-4.3-.4-.9-.2-.8-.5 0-.8 .8-.5 3.2-.5z" fill="#45aaeb" fill-rule="evenodd"/>
<path d="M548.4 156.1l29.5 0 4.4 .5 1 .5 .1 .5-.4 .5-1.9 .5-7.2 .4-25.5-.1-4.4-.5-.7-.3-.4-.5 .1-.5 1-.5 4.4-.5z" fill="#44a7eb" fill-rule="evenodd"/>
<path d="M547.4 156.3l5.5-.2 23.5 .1 4.3 .4 1.1 .5 .2 .5-.5 .5-2.1 .5-6 .3-23-.1-4-.3-1-.2-.9-.4-.2-.5 .5-.5 2.6-.6z" fill="#43a3ec" fill-rule="evenodd"/>
<path d="M549.4 156.3l5.5-.1 20.5 .1 4 .4 1.2 .4 .1 .5-.5 .5-2.3 .5-7 .2-20.5-.1-3.4-.3-.9-.3-.5-.5 .1-.5 .4-.2 3.3-.6z" fill="#42a0ec" fill-rule="evenodd"/>
<path d="M553.4 156.4l20.5 0 4 .5 .5 .2 .2 .5-.7 .5-2 .4-7.5 .2-16-.1-3.5-.4-1-.3-.2-.3 .2-.5 1-.3 4.5-.4z" fill="#3f9aed" fill-rule="evenodd"/>
<path d="M552.4 156.6l6-.2 13.5 .1 4 .4 .7 .2 .3 .5-1 .5-2 .3-10.5 .2-10.5-.2-2.5-.3-1-.5 0-.2 .5-.4 2.5-.4z" fill="#3c94ed" fill-rule="evenodd"/>
<path d="M554.9 156.6l8.5-.1 8 .1 3 .3 .6 .2 .4 .3 0 .2-1.3 .5-2.2 .3-9 .1-8.5-.1-2.2-.3-1.3-.5 0-.2 .4-.3 .6-.2 3-.3z" fill="#3a8dee" fill-rule="evenodd"/>
<path d="M558.4 156.6l12.5 .1 2.7 .4 .4 .3 0 .2-.6 .3-2 .3-8 .2-8-.1-2-.3-1.1-.4 0-.2 .4-.3 1.2-.2 4.5-.3z" fill="#3787ef" fill-rule="evenodd"/>
<path d="M555.9 156.8l5.5-.1 7.5 .1 3.4 .3 .5 .3 0 .2-.5 .3-1.9 .3-7 .2-7.5-.2-1.9-.3-.5-.3 0-.2 .5-.3 1.9-.3z" fill="#3581f0" fill-rule="evenodd"/>
<path d="M557.9 156.8l5.5-.1 5.5 .2 2.1 .2 .7 .3 0 .2-.7 .3-2.1 .2-5.5 .2-6-.2-2.1-.2-.7-.3 0-.2 .7-.3 2.6-.3z" fill="#327bf0" fill-rule="evenodd"/>
<path d="M559.9 156.9l8 0 1.9 .2 .8 .3 0 .2-2.2 .4-5 .2-5-.1-2.7-.5 0-.2 .8-.3 3.4-.2z" fill="#3074f1" fill-rule="evenodd"/>
<path d="M557.9 157.1l4-.2 4.5 .1 2 .1 1.1 .3 0 .2-2.1 .4-4 .1-4.5-.1-2.1-.4 0-.2 1.1-.3z" fill="#2d6ef2" fill-rule="evenodd"/>
<path d="M559.4 157.1l7 0 2 .3 0 .2-1.5 .3-3.5 .1-4-.1-1.5-.3 0-.2 1.5-.3z" fill="#2a68f3" fill-rule="evenodd"/>
<path d="M561.9 157.1l4 .1 1.2 .2 0 .2-3.7 .3-4.2-.3 0-.2 2.7-.3z" fill="#2861f3" fill-rule="evenodd"/>
<path d="M560.9 157.4l4-.1 .7 .1 0 .2-4.9 0 0-.2 .2 0z" fill="#255bf4" fill-rule="evenodd"/>
</g>
<clipPath id="cf8"><rect x="479.3" y="163.7" width="167.70" height="14.60"/></clipPath>
<g clip-path="url(#cf8)">
<path d="M479.8 163.8l11.5 .1 14 .6 14 1.1 24.6 2.4 9.5 .5 8.9-.3 21.6-1.9 11-.7 10-.4 8.6 .2 6.5 .6 2.5 .6 1.8 .6 1.3 .8 .8 1 .3 1 0 1.8-.2 1-.6 1-1.1 .7-1.1 .5-4.2 1-7 .7-8.1 .1-9.5-.4-11-.7-21.6-1.9-8.9-.3-9.5 .5-24.6 2.4-14 1.1-14 .6-12 .1 0-14.4 .5 0z" fill="#dbf0fa" fill-rule="evenodd"/>
<path d="M498.3 166.2l8-.2 10 .2 10.1 .6 20.7 1.7 6.8 .2 8.4-.2 23.6-1.6 6.5-.2 5.5 .1 5 .5 3.5 .9 .8 .5 .7 .8 .2 .7 .1 1.3-.3 1-.7 .8-2.3 1-4.5 .7-6 .3-11-.3-21.1-1.5-8.9-.2-6.3 .2-28.3 2.1-8.5 .4-7 0-6-.3-4.5-.6-3-.8-.9-.5-.8-.8-.4-1 0-2 .4-1 .8-.8 1.6-.7 1.8-.5 6-.8z" fill="#bae4f6" fill-rule="evenodd"/>
<path d="M514.3 167l10.6 .2 23.8 1.5 5.2 .2 6.8-.2 20.2-1.1 10 0 4 .4 3 .7 .8 .5 .5 .5 .2 .8 0 1-.2 .8-.5 .5-.8 .5-1.7 .5-3.8 .5-5.5 .2-7.5-.1-18.7-1.1-6.8-.2-5.2 .2-24.3 1.5-11.6 .2-4.5-.2-4-.6-2.5-.8-.6-.4-.6-.7-.2-1.3 .2-1.3 .6-.7 1.4-.8 1.9-.5 2.8-.4 7-.3z" fill="#a0d9f4" fill-rule="evenodd"/>
<path d="M516.3 167.7l5.1-.1 6 .1 26.5 1.3 7-.2 16.5-.8 8.5 0 4 .4 2.4 .6 .9 .5 .5 .5 .1 1.3-.1 .7-.5 .5-1.7 .8-3.6 .5-5 .3-7-.2-14.5-.7-7.5-.2-7.5 .3-17.5 1-9.6 .1-4-.2-3.6-.4-2.4-.8-.9-.7-.3-.8 .1-1.3 .4-.7 .7-.5 2.4-.8 4.6-.5z" fill="#84cef1" fill-rule="evenodd"/>
<path d="M524.4 168l8 .1 21.5 1 5.8-.1 15.2-.7 7.5 .1 4 .3 2.1 .5 1.1 .8 .3 1.3-.1 .5-.4 .5-1.7 .7-3.3 .5-5 .2-25.5-.8-22 1-9 .1-3.8-.2-3.1-.5-1.9-.8-.6-.7 0-1.1 .1-.7 .5-.5 1-.5 3.7-.7 5.6-.3z" fill="#6ac2ee" fill-rule="evenodd"/>
<path d="M523.4 168.5l9-.2 22 .8 18.5-.5 7 0 3.5 .3 2.3 .6 1 .7 .1 1.1-.1 .5-.5 .5-1.8 .6-3 .4-4 .2-23-.6-20.5 .8-7 0-6.1-.4-2-.5-1.1-.8-.3-.5 0-1 .3-.5 .6-.5 2-.7 3.1-.3z" fill="#54b7eb" fill-rule="evenodd"/>
<path d="M525.9 168.7l8-.2 20.5 .7 17-.5 6 .1 3 .2 2.6 .5 1.2 .7 .2 1.1-.2 .5-.6 .5-1.6 .5-3.1 .3-4 .2-20.5-.5-18.5 .6-7 .1-5.5-.5-1.8-.5-.9-.7-.1-1.3 .6-.8 1.7-.6 3-.4z" fill="#48b0ea" fill-rule="evenodd"/>
<path d="M530.9 168.7l6.5 0 16.5 .6 16.5-.4 6 .1 2.9 .2 2.1 .5 .7 .5 .3 1.1-.5 .7-1.3 .5-4.7 .6-5.5 0-16.5-.4-19.5 .6-4.5-.1-3.5-.3-2.6-.6-.7-.8 .1-1.3 1.3-.7 2.5-.5 3.9-.3z" fill="#47adea" fill-rule="evenodd"/>
<path d="M530.9 169l6.5-.1 17 .4 14.5-.3 5.5 .1 3 .2 2.1 .4 .9 .5 .2 .8 0 .5-.6 .5-1.5 .5-2.6 .3-4 .2-17.5-.3-16 .4-6 0-3-.2-2.5-.4-1.2-.5-.5-.5 0-1 .9-.8 2.1-.5 2.7-.2z" fill="#45aaeb" fill-rule="evenodd"/>
<path d="M536.4 169l17.5 .4 19.5-.2 4.3 .5 1.1 .5 .4 .8-.4 .8-1.9 .6-2.8 .4-4.2 .1-15.5-.3-20.5 .4-5-.5-1.3-.5-.6-.7 0-.6 .2-.5 .9-.5 1-.2 2.8-.4 4.5-.1z" fill="#44a7eb" fill-rule="evenodd"/>
<path d="M533.4 169.2l6-.1 15.5 .3 17-.1 4.5 .5 1.1 .4 .4 .8-.4 .8-1.3 .5-2.8 .3-4 .2-15-.2-19 .3-4.5-.4-1.7-.5-.6-.5 0-1 .6-.5 1.9-.5 2.3-.3z" fill="#43a3ec" fill-rule="evenodd"/>
<path d="M536.9 169.2l17.5 .3 16.5-.1 4.5 .5 .9 .3 .2 .3 .2 .5-.2 .5-.2 .3-1.5 .5-2.9 .3-4 .1-13.5-.2-18 .3-4.9-.5-1.2-.5-.4-.5 0-.6 .4-.5 1.1-.4 2-.4 3.5-.2z" fill="#42a0ec" fill-rule="evenodd"/>
<path d="M536.9 169.5l5-.1 27 .1 4.5 .5 1.1 .5 .2 .5-.2 .5-.4 .3-1.7 .4-6.5 .4-27.5 0-4.5-.5-1.2-.3-.4-.5 .1-.8 .9-.5 3.6-.5z" fill="#3f9aed" fill-rule="evenodd"/>
<path d="M543.4 169.5l24.5 .1 4 .5 .9 .4 .2 .5-.2 .5-1.4 .5-2.5 .3-4.5 .1-24.5 .1-4.3-.5-.8-.2-.6-.5 .2-.8 1.5-.6 3-.3 4.5-.1z" fill="#3c94ed" fill-rule="evenodd"/>
<path d="M539.9 169.7l5.5-.1 21 .1 4 .5 .9 .3 .3 .5-.3 .5-1.7 .5-6.7 .4-21.5-.1-3.8-.3-1-.2-.7-.5 0-.6 .7-.5 3.3-.5z" fill="#3a8dee" fill-rule="evenodd"/>
<path d="M542.9 169.7l22.5 .1 3.9 .4 .7 .3 .4 .5-.4 .5-1.6 .4-6.5 .4-19.5-.1-3.5-.3-1-.3-.6-.3 0-.6 .8-.5 1.8-.3 3-.2z" fill="#3787ef" fill-rule="evenodd"/>
<path d="M541.4 170l5.5-.2 17 .1 4.1 .3 .8 .3 .5 .5-.5 .5-1.4 .4-6.5 .3-17.5 0-3.5-.4-1.4-.5 0-.6 .3-.2 2.6-.5z" fill="#3581f0" fill-rule="evenodd"/>
<path d="M543.4 170l6-.2 14 .1 3.4 .3 1 .3 .5 .5-.1 .3-.8 .3-3 .4-14.5 .2-8-.3-1.9-.4-.4-.5 .1-.3 .7-.3 3-.4z" fill="#327bf0" fill-rule="evenodd"/>
<path d="M545.4 170l17.5 0 3.5 .4 .8 .3 .1 .3-.5 .5-2.9 .4-12.5 .2-8-.2-2.3-.4-.5-.5 .5-.5 .8-.2 3.5-.3z" fill="#3074f1" fill-rule="evenodd"/>
<path d="M547.4 170l15 .1 3.4 .4 .6 .2 .1 .3-.1 .3-.6 .2-2.4 .4-11 .2-8.5-.3-1.8-.3-.5-.2-.1-.3 .1-.3 .5-.2 1.3-.3 4-.2z" fill="#2d6ef2" fill-rule="evenodd"/>
<path d="M544.9 170.2l5.5-.2 10.5 .1 4 .4 .7 .2 .1 .3-.1 .3-.7 .2-2 .3-10 .2-8.3-.2-1.5-.3-.6-.2-.1-.3 .1-.3 .6-.2 1.8-.3z" fill="#2a68f3" fill-rule="evenodd"/>
<path d="M545.9 170.2l6-.1 8.5 0 3.7 .4 .7 .2 .2 .3-.2 .3-.7 .2-1.9 .3-8.8 .2-7.6-.2-1.8-.3-.7-.2-.1-.3 .1-.3 .7-.2 1.9-.3z" fill="#2861f3" fill-rule="evenodd"/>
<path d="M547.4 170.2l6-.1 7 .1 2.9 .3 .8 .2 .2 .3-.2 .3-.8 .2-1.9 .2-7.5 .2-7.5-.2-1.5-.2-.8-.2-.2-.3 .2-.3 .8-.2 2.5-.3z" fill="#255bf4" fill-rule="evenodd"/>
<path d="M548.9 170.2l10.7 0 2.8 .3 1 .2 .2 .3-.7 .4-2 .3-7 .2-7-.3-1.5-.2-.8-.4 .2-.3 .9-.2 3.2-.3z" fill="#2355f5" fill-rule="evenodd"/>
<path d="M550.4 170.2l9 .1 2.2 .2 1.1 .2 .3 .3-.3 .3-1.8 .3-7 .2-6.5-.2-1.8-.3-.3-.3 .3-.3 1-.2 3.8-.3z" fill="#204ff6" fill-rule="evenodd"/>
<path d="M547.9 170.5l4.5-.2 5.5 0 2.9 .2 1.2 .2 .3 .3-.3 .3-1.6 .2-6.5 .3-6-.3-1.6-.2-.3-.3 .3-.3 1.6-.2z" fill="#1e48f6" fill-rule="evenodd"/>
<path d="M548.4 170.5l9-.1 3 .2 1 .1 .3 .3-.3 .3-1.5 .2-6 .2-5.5-.2-1.4-.2-.3-.3 .3-.3 1.4-.2z" fill="#1b42f7" fill-rule="evenodd"/>
<path d="M549.4 170.5l8.5-.1 2.5 .3 .7 .3-.4 .3-1.7 .2-5.1 .1-4.6-.1-1.6-.2-.4-.3 .4-.3 1.7-.2z" fill="#183cf8" fill-rule="evenodd"/>
<path d="M550.9 170.5l7 0 2.1 .2 .5 .3-.5 .3-1.6 .2-4 .1-4.5-.1-1.5-.2-.4-.3 .4-.3 2.5-.2z" fill="#1635f9" fill-rule="evenodd"/>
<path d="M551.9 170.5l5.5 0 1.9 .2 .5 .3-1.4 .4-4 .1-4-.1-1.3-.1-.5-.3 .5-.3 2.8-.2z" fill="#132ff9" fill-rule="evenodd"/>
<path d="M549.9 170.7l5.5-.2 3.2 .2 .6 .3-1.3 .3-3.5 .2-4-.2-1.1-.3 .6-.3z" fill="#1129fa" fill-rule="evenodd"/>
<path d="M550.9 170.7l5-.1 1.8 .1 .8 .3-.8 .3-3.3 .1-3.5-.1-.9-.3 .9-.3z" fill="#0e23fb" fill-rule="evenodd"/>
<path d="M551.9 170.7l4 0 1.8 .3-1 .3-2.3 0-2.6 0-1-.3 1.1-.3z" fill="#0c1cfc" fill-rule="evenodd"/>
<path d="M553.9 170.7l2.9 .3-2.4 .3-2.7-.3 2.2-.3z" fill="#0916fc" fill-rule="evenodd"/>
<path d="M553.4 171l2 0-2.2 0 .2 0z" fill="#0610fd" fill-rule="evenodd"/>
</g>
<clipPath id="cf9"><rect x="479.3" y="178.3" width="167.70" height="14.50"/></clipPath>
<g clip-path="url(#cf9)">
<path d="M606.5 178.5l8.5 0 7.5 .2 5.5 .6 4.3 1 2.2 1 1 .7 .6 .8 .4 1.8 0 2-.2 1.2-.6 1-.8 .8-1.3 .7-2.1 .7-5.6 1-7.9 .6-10.5 0-13.1-.6-14-1.1-24.3-2.3-10.2-.6-10.1 .6-22 2.1-13 1-11.5 .6-10 .2 0-13.9 10 .2 11.5 .6 13 1 22 2.2 10.1 .5 10.2-.5 33.3-3.1 17.1-1z" fill="#dbf0fa" fill-rule="evenodd"/>
<path d="M591.9 180.5l5.5 .1 5 .3 3.6 .4 3 .7 1.6 .8 .9 1 .2 1.2-.1 2-.5 .8-.9 .8-2.7 .9-4.6 .7-5.5 .3-7 0-8.5-.3-29.2-2.2-6.8-.2-6.8 .2-27.8 2.1-13.5 .4-7.5-.4-5.2-.8-1.5-.5-1.2-.8-.6-.7-.3-1.3 0-1.4 .3-.8 .6-.8 1.2-.7 3.9-1 5.8-.6 7-.1 9 .3 29.8 2.1 6.8 .3 6.8-.3 27.2-2 12-.5z" fill="#bae4f6" fill-rule="evenodd"/>
<path d="M508.3 181.5l10 .3 18.2 1.3 9.4 .3 9.5-.4 21.5-1.3 7-.2 5.5 .1 5 .5 2.4 .5 1.4 .4 .7 .6 .6 .7 .2 1.7-.2 .8-.6 .8-.7 .4-1.8 .6-4.5 .7-7 .3-10-.3-19.5-1.3-9.5-.3-9.4 .3-20.7 1.4-11.5 .1-5-.4-3.2-.5-1.9-.8-.6-.5-.4-.7-.1-1.6 .3-1 .8-.7 1.1-.5 1.9-.5 3.1-.4 8-.4z" fill="#a0d9f4" fill-rule="evenodd"/>
<path d="M507.8 182.3l5-.2 6 .1 19.8 1.1 7.3 .2 7.3-.2 19.2-1.1 10.5 0 4.5 .4 3.2 .7 .9 .5 .5 .5 .2 1.5-.1 .8-.6 .7-2.1 .9-4 .6-5.5 .2-8.5-.1-18.2-1.1-7.3-.2-7.3 .2-18.3 1-9.5 .1-4-.2-3-.4-2.4-.7-.8-.8-.3-.8 .1-1.2 .4-.8 .5-.4 2.5-.8 4-.5z" fill="#84cef1" fill-rule="evenodd"/>
<path d="M515.3 182.5l8.1 .1 22.5 1 23.5-1 9 0 4 .3 3.1 .7 1.2 .7 .3 .5 .1 1-.2 .8-.4 .4-1.8 .8-3.8 .6-5.5 .2-7.5-.1-22-1-23 1-8.6 0-3.6-.2-3-.5-1.7-.8-.6-.7-.1-1 .2-.7 .5-.6 .9-.4 3.4-.8 5-.3z" fill="#6ac2ee" fill-rule="evenodd"/>
<path d="M569.9 182.8l7 .1 4.2 .7 1.3 .4 .6 .6 .2 .4 0 1-.5 .8-1.6 .8-2.7 .4-3.5 .3-8-.1-21-.8-25.6 .9-5-.2-3.5-.4-2-.7-.5-.4-.2-.8 .2-1.2 1.2-.8 2.3-.6 3.5-.3 8.1 0 15.8 .7 6.2 .1 23.5-.9z" fill="#54b7eb" fill-rule="evenodd"/>
<path d="M521.4 183l24.5 .7 19.5-.6 7.5 0 3.5 .3 2.5 .6 .7 .3 .4 .5 .2 1-.2 .5-.4 .5-2.2 .8-3.5 .3-4.5 .2-23.5-.7-19 .6-7.1 0-3.5-.2-2.5-.5-1.1-.5-.6-.8 0-1 .3-.4 1.4-.8 2.9-.5 4.7-.3z" fill="#48b0ea" fill-rule="evenodd"/>
<path d="M521.4 183.3l6.5-.1 18 .6 18-.6 7 .1 3.2 .3 2.3 .4 1.1 .8 .2 1-.2 .5-.6 .5-1.4 .5-3.6 .5-4.5 .1-21.5-.6-17.5 .5-6.5 0-5.2-.5-1.4-.5-.7-.8 .1-1.2 1.1-.8 2.4-.4 3.2-.3z" fill="#47adea" fill-rule="evenodd"/>
<path d="M521.9 183.5l7-.1 17.5 .4 16-.4 6.5 0 3.5 .3 2 .5 1 .6 .2 1-.2 .5-.7 .5-1.8 .5-3 .3-4 .1-19.5-.4-16.5 .4-6 0-5.1-.5-1.3-.4-.9-.8 0-1 .9-.7 1.8-.5 2.6-.3z" fill="#45aaeb" fill-rule="evenodd"/>
<path d="M525.4 183.5l20.5 .4 15.5-.4 5.8 .1 3.3 .2 1.9 .4 1.2 .6 .2 .8-.1 .4-.4 .6-1.4 .4-3 .5-4 .1-18.5-.4-21 .4-5.2-.6-1.3-.4-.5-.6 0-1 1-.7 2.3-.5 3.7-.3z" fill="#44a7eb" fill-rule="evenodd"/>
<path d="M524.4 183.8l6-.2 16 .3 19-.3 3 .2 2.6 .5 1 .5 .3 .8-.1 .4-.6 .6-1.6 .4-2.6 .4-4 .1-17.5-.3-19 .3-4.8-.5-1.6-.4-.6-.6 0-1 .6-.4 1.6-.6 2.3-.2z" fill="#43a3ec" fill-rule="evenodd"/>
<path d="M526.9 183.8l5.5-.1 13.5 .3 19-.2 4.6 .5 1.1 .5 .3 .8-.3 .7-1.7 .6-3 .4-3.5 .1-16-.3-18.5 .2-4.5-.3-1.5-.4-.6-.5 0-1.1 .6-.4 2-.6 3-.2z" fill="#42a0ec" fill-rule="evenodd"/>
<path d="M527.4 184l5-.1 13.5 .1 16.5-.1 3 .2 2 .4 1 .5 .2 .6-.1 .4-.3 .3-1.5 .5-2.8 .3-3.5 .1-14-.1-16.5 .1-4.5-.4-1-.2-.8-.6-.2-.7 .5-.5 1.5-.5 2-.3z" fill="#3f9aed" fill-rule="evenodd"/>
<path d="M531.4 184l29.5 0 4.6 .6 1 .4 .2 .6-.2 .4-.3 .3-1.8 .5-6.5 .3-27-.1-4.3-.4-.8-.3-.5-.5 .2-.8 1.1-.4 4.8-.6z" fill="#3c94ed" fill-rule="evenodd"/>
<path d="M530.4 184.3l5-.2 24 .1 4.2 .4 1.3 .4 .2 .6-.2 .4-1.5 .6-2.5 .3-4 .1-24.5-.1-4-.3-.8-.3-.7-.5 0-.5 .7-.5 2.8-.5z" fill="#3a8dee" fill-rule="evenodd"/>
<path d="M532.9 184.3l25.5 0 4 .4 1.1 .3 .2 .6-.2 .4-1.7 .6-6.4 .3-22-.1-3.5-.3-1-.3-.6-.4 0-.5 .8-.5 3.8-.5z" fill="#3787ef" fill-rule="evenodd"/>
<path d="M536.4 184.3l21.5 .1 3.6 .4 .7 .2 .3 .6-.3 .4-2 .6-7.3 .2-19-.1-3.4-.4-.7-.3-.3-.4 .3-.6 1.6-.4 5-.3z" fill="#3581f0" fill-rule="evenodd"/>
<path d="M533.9 184.5l5.5-.2 16.5 .1 4.4 .4 .7 .2 .4 .6-.4 .4-1.6 .4-6 .4-18-.1-3.5-.4-1.3-.5 0-.5 .3-.3 3-.5z" fill="#327bf0" fill-rule="evenodd"/>
<path d="M535.4 184.5l20 0 3.7 .3 .9 .2 .4 .6-.4 .4-2.1 .5-8.5 .2-14.4-.1-2.6-.4-.8-.4-.1-.2 .1-.3 .8-.4 3-.4z" fill="#3074f1" fill-rule="evenodd"/>
<path d="M536.9 184.5l18 0 3.5 .4 1 .4 .1 .3-.5 .4-2.6 .5-9.5 .2-11-.2-2.9-.5-.6-.4 .1-.3 .9-.4 3.5-.4z" fill="#2d6ef2" fill-rule="evenodd"/>
<path d="M538.9 184.5l15.5 .1 3.5 .4 .7 .3 .1 .3-.1 .2-.5 .2-2.2 .4-9.5 .2-10-.2-2.5-.4-.5-.2-.1-.2 .1-.3 .5-.3 1-.2 4-.3z" fill="#2a68f3" fill-rule="evenodd"/>
<path d="M542.4 184.5l12 .2 2.8 .3 .6 .3 .1 .3-.1 .2-.6 .2-1.8 .3-9.5 .3-9-.2-2.2-.4-.5-.2-.2-.2 .2-.3 .5-.3 1.5-.2 6.2-.3z" fill="#2861f3" fill-rule="evenodd"/>
<path d="M537.4 184.8l6-.2 9 .1 4 .3 .6 .3 .2 .3-.2 .2-.6 .2-1.7 .3-8.8 .2-8.6-.2-1.7-.3-.7-.2-.1-.3 .1-.2 .7-.3 1.8-.2z" fill="#255bf4" fill-rule="evenodd"/>
<path d="M538.9 184.8l6.5-.2 7 .1 3.2 .3 .7 .3 .2 .3-.2 .2-.7 .2-2 .3-7.7 .2-7.5-.2-2-.3-.8-.2-.2-.2 .2-.3 .8-.3 2.5-.2z" fill="#2355f5" fill-rule="evenodd"/>
<path d="M539.9 184.8l12 0 2.9 .2 .8 .3 .2 .3-.2 .2-.7 .2-1.5 .2-7.5 .2-7-.2-1.8-.2-.8-.2-.2-.2 .2-.3 .8-.3 2.8-.2z" fill="#204ff6" fill-rule="evenodd"/>
<path d="M541.4 184.8l10 0 2.6 .2 1 .3 .2 .3-.8 .4-1.5 .2-7 .2-7-.2-1.5-.3-.7-.3 .3-.3 .9-.3 3.5-.2z" fill="#1e48f6" fill-rule="evenodd"/>
<path d="M542.9 184.8l8.5 .1 2 .2 .9 .2 .3 .3-.3 .2-1.9 .3-6.5 .2-6.5-.2-1.8-.3-.3-.2 .3-.3 1.1-.3 4.2-.2z" fill="#1b42f7" fill-rule="evenodd"/>
<path d="M539.9 185l4.5-.2 5.5 .1 2.5 .1 1.3 .3 .3 .3-.3 .2-1.8 .3-6 .2-6-.2-1.7-.3-.3-.2 .3-.3 1.7-.3z" fill="#183cf8" fill-rule="evenodd"/>
<path d="M540.4 185l9-.1 2.5 .2 1.2 .2 .3 .3-.3 .2-1.5 .2-5.7 .2-5.6-.2-1.4-.2-.4-.2 .4-.3 1.5-.3z" fill="#1635f9" fill-rule="evenodd"/>
<path d="M541.4 185l8 0 2.5 .2 .9 .4-.4 .2-1.7 .2-4.8 .2-4.7-.2-1.7-.2-.4-.2 .4-.3 1.9-.3z" fill="#132ff9" fill-rule="evenodd"/>
<path d="M542.4 185l7.3 0 2.1 .3 .4 .3-.4 .2-1.9 .2-4 .1-4-.1-1.8-.2-.4-.2 .4-.3 2.3-.3z" fill="#1129fa" fill-rule="evenodd"/>
<path d="M543.9 185l5 .1 2.2 .2 .5 .3-.5 .2-1.2 .2-4 .1-4-.2-1.1-.1-.5-.2 .6-.3 3-.3z" fill="#0e23fb" fill-rule="evenodd"/>
<path d="M541.9 185.3l5.5-.2 3 .2 .6 .3-1.1 .3-4 .1-3.5-.1-1.5-.3 1-.3z" fill="#0c1cfc" fill-rule="evenodd"/>
<path d="M542.4 185.3l5-.1 2.2 .1 .8 .3-1 .2-3.5 .2-3.5-.2-.9-.2 .9-.3z" fill="#0916fc" fill-rule="evenodd"/>
<path d="M543.4 185.3l4-.1 2.3 .4-1 .2-2.8 .1-2.7-.1-1-.2 1.2-.3z" fill="#0610fd" fill-rule="evenodd"/>
<path d="M544.9 185.3l2.6 0 1.4 .3-3 .2-2.9-.2 1.9-.3z" fill="#0409fe" fill-rule="evenodd"/>
<path d="M544.4 185.5l3.4 .1-1.9 .1-1.8-.1 .3-.1z" fill="#0103ff" fill-rule="evenodd"/>
</g>
<clipPath id="cf10"><rect x="479.3" y="192.8" width="167.70" height="14.60"/></clipPath>
<g clip-path="url(#cf10)">
<path d="M598.9 193l9.1-.1 8 .2 6.5 .6 4.7 .9 2.9 1 1.2 .7 .7 .8 .4 .7 .2 1-.1 3.3-.7 1.3-1.3 1-1.6 .7-2.4 .7-3.1 .6-3.9 .4-9 .5-11.1-.1-13.5-.7-13-1-24.7-2.4-8.8-.5-5.5 0-4.6 .3-22 1.8-11.5 .7-9.5 .1-7-.7 0-9.4 3-.4 7-.3 9 .2 11.5 .7 19.5 1.7 9.6 .3 9.3-.5 31.2-2.9 19.5-1.2z" fill="#dbf0fa" fill-rule="evenodd"/>
<path d="M577.4 195.3l7-.2 6 .1 5.2 .4 3.8 .6 2.2 .6 1.6 1 .6 1.3-.1 2.3-.3 .7-1 .8-1.5 .7-2 .5-6 .8-8.5 .2-14-.6-25.3-1.9-6.7-.3-9.3 .3-20.8 1.4-11 .1-4.5-.4-3-.7-1.7-.9-.5-.7-.2-.8 .2-1.8 .5-.7 .7-.5 3-.9 4.5-.5 5-.2 6.5 .2 21.3 1.4 9.3 .3 6.7-.3 20.8-1.7 11.5-.6z" fill="#bae4f6" fill-rule="evenodd"/>
<path d="M567.9 196.3l11-.1 4 .2 3.6 .4 2.7 .8 1.2 .7 .5 1 0 1.6-.3 .7-.9 .8-1.1 .5-2.1 .5-4.6 .5-7 .2-10-.3-21.3-1.4-5.7-.2-7.3 .2-17.8 1-9.4 0-4.1-.4-2.6-.6-1.2-.8-.4-.5-.1-.7 .1-1.1 .2-.5 1-.8 2.3-.7 4.2-.4 9-.1 18.8 1 7.3 .2 5.7-.2 24.3-1.5z" fill="#a0d9f4" fill-rule="evenodd"/>
<path d="M564.4 196.8l9.5 0 3.6 .3 2.4 .4 1.5 .4 1.2 .7 .5 .7 0 1.6-.5 .7-.7 .5-2.6 .8-4.4 .4-6 .2-8-.3-22.5-1.1-5.5 .1-17.6 .8-7.5-.1-3.8-.3-2.2-.5-1.4-.7-.4-1 .2-1.3 1-.8 2.6-.7 3.5-.3 8-.1 17.6 .8 5.5 .1 26-1.3z" fill="#84cef1" fill-rule="evenodd"/>
<path d="M557.9 197.3l9.5-.1 6.5 .4 2.1 .5 1.1 .5 .6 .7 .1 1.3-.2 .5-.7 .6-2.5 .8-4 .4-5.5 .2-26.5-1.1-7.1 .1-14 .6-6.5-.1-3.2-.2-2.3-.5-1.3-.8-.3-.7 .1-1.1 1-.8 2-.5 3.5-.4 7-.1 20.6 .7 20-.9z" fill="#6ac2ee" fill-rule="evenodd"/>
<path d="M555.9 197.6l8.5-.1 6 .4 1.9 .4 1 .5 .5 .8 0 1-.3 .5-.6 .5-2 .6-3.5 .4-5.5 .2-24-.9-18.6 .6-6-.1-3-.2-2-.4-1.4-.7-.3-.7 .1-1.1 1.1-.7 2.2-.5 2.8-.3 6.5-.1 18.6 .6 18-.7z" fill="#54b7eb" fill-rule="evenodd"/>
<path d="M552.9 197.8l8.5-.1 6 .4 2.6 .7 .5 .5 .2 1.1-.2 .5-.5 .5-2.1 .6-3 .4-5 .1-21.6-.6-16.9 .4-6.1-.1-3-.2-1.8-.4-1.2-.5-.4-.7 .2-1.1 .7-.5 1.8-.5 3.2-.3 6-.1 17.1 .4 15-.5z" fill="#48b0ea" fill-rule="evenodd"/>
<path d="M518.3 198.1l19.6 .3 17-.5 6.5 0 3 .3 2.2 .4 1.4 .7 .1 1.1-.1 .5-.7 .5-1.7 .5-3.2 .3-4 .1-20-.5-21.1 .3-4.5-.5-1.4-.5-.5-.5 0-1 1-.8 2.4-.5 4-.2z" fill="#47adea" fill-rule="evenodd"/>
<path d="M551.4 198.1l7-.1 4.5 .4 2.6 .7 .5 .5 0 .8-.5 .7-2.1 .7-3.5 .3-4.5 .1-17-.4-20.1 .1-2.5-.2-2-.3-1.1-.5-.3-.8 .3-.8 1.1-.5 4-.5 5.6-.1 14.5 .2 13.5-.3z" fill="#45aaeb" fill-rule="evenodd"/>
<path d="M520.3 198.3l17.1 .2 15-.3 5.5 0 3 .2 2.1 .4 1 .5 .2 .8-.1 .5-.5 .5-1.7 .5-3 .3-4 .2-17-.4-18.1 .1-4.4-.4-1.2-.5-.3-.5 0-.6 .3-.5 1.1-.4 2-.4 3-.2z" fill="#44a7eb" fill-rule="evenodd"/>
<path d="M547.9 198.3l7.5 0 4.5 .3 1.3 .2 1.1 .5 .4 .5 0 .6-.4 .5-1.1 .5-4.8 .5-19-.2-13.5 .1-4.1-.1-2.8-.3-1.5-.5-.3-.3-.1-.5 .1-.5 .9-.5 1.7-.4 2.5-.2 17.6 0 10-.2z" fill="#43a3ec" fill-rule="evenodd"/>
<path d="M520.8 198.6l34.1-.2 3 .2 2 .3 1 .4 .4 .8-.4 .8-1.4 .5-2.6 .3-4.5 .2-14.5-.3-16 .1-4.1-.5-1.1-.3-.4-.5 .1-.8 .9-.5 3.5-.5z" fill="#42a0ec" fill-rule="evenodd"/>
<path d="M543.9 198.6l7-.1 4.5 .2 3 .6 .4 .3 .2 .5-.2 .5-.4 .3-1.9 .5-7.1 .3-26-.2-3.8-.4-1.2-.5-.3-.5 .3-.5 .9-.4 3.6-.5 21-.1z" fill="#3f9aed" fill-rule="evenodd"/>
<path d="M524.4 198.8l27-.1 4.1 .4 1.3 .5 .3 .5-.3 .5-1.4 .5-2.5 .3-4 .2-24-.2-3.3-.3-1.1-.2-.7-.5 0-.6 .7-.5 3.9-.5z" fill="#3c94ed" fill-rule="evenodd"/>
<path d="M527.4 198.8l23 0 4 .5 .7 .3 .3 .5-.3 .5-1.6 .5-3.1 .3-4.5 .1-20-.2-3.8-.4-.6-.3-.4-.5 .4-.5 .9-.3 5-.5z" fill="#3a8dee" fill-rule="evenodd"/>
<path d="M542.4 198.8l5.5 .1 3.7 .2 2.1 .5 .3 .5-.3 .5-2.1 .5-7.2 .3-18-.2-2.9-.3-.7-.3-.4-.5 .4-.5 .7-.3 2.9-.3 16-.2z" fill="#3787ef" fill-rule="evenodd"/>
<path d="M527.4 199.1l20.5-.1 3.6 .3 .9 .3 .4 .5-.4 .5-2 .4-7.5 .3-15.5-.2-3-.4-.9-.3-.1-.3 .1-.3 .9-.3 3-.4z" fill="#3581f0" fill-rule="evenodd"/>
<path d="M529.4 199.1l18 0 3 .3 .8 .2 .5 .5-.5 .5-1.8 .4-8 .2-13-.1-3-.4-.9-.3-.1-.3 .6-.5 .9-.2 3.5-.3z" fill="#327bf0" fill-rule="evenodd"/>
<path d="M531.9 199.1l14.5 0 3.5 .5 .6 .2 .2 .3-.2 .3-.4 .2-1.7 .3-8.5 .3-11.5-.2-2.4-.4-.6-.2-.1-.3 .1-.3 .6-.2 1.3-.3 4.6-.2z" fill="#3074f1" fill-rule="evenodd"/>
<path d="M537.9 199.1l9 .2 2.1 .3 .6 .2 .1 .3-.1 .3-.6 .2-1.6 .3-8 .2-10.5-.2-2-.3-.6-.2-.1-.3 .1-.3 .6-.2 2-.3 9-.2z" fill="#2d6ef2" fill-rule="evenodd"/>
<path d="M529.9 199.3l6-.1 8.5 0 3.6 .4 .7 .2 .2 .3-.2 .3-.7 .2-1.7 .3-7.9 .2-8.7-.2-1.9-.3-.7-.2-.2-.3 .2-.3 .7-.2 2.1-.3z" fill="#2a68f3" fill-rule="evenodd"/>
<path d="M531.4 199.3l12.5 0 3.2 .3 .8 .2 .1 .3-.1 .3-.8 .2-1.7 .2-7 .2-8-.2-1.7-.2-.8-.2-.2-.3 .2-.3 .8-.2 2.7-.3z" fill="#2861f3" fill-rule="evenodd"/>
<path d="M532.9 199.3l10.6 0 2.7 .3 .9 .2 .2 .3-.2 .3-.7 .2-1.5 .2-6.5 .2-7.5-.3-1.5-.1-.8-.2-.2-.3 .2-.3 1-.2 3.3-.3z" fill="#255bf4" fill-rule="evenodd"/>
<path d="M534.4 199.3l9 .1 2 .2 .9 .2 .2 .3-.2 .3-1.9 .3-6.5 .2-6.5-.2-2-.3-.3-.3 .2-.3 1.1-.2 4-.3z" fill="#2355f5" fill-rule="evenodd"/>
<path d="M531.4 199.6l4.5-.2 5.5 0 2.9 .2 1.2 .2 .3 .3-.3 .3-1.6 .2-6 .2-6.5-.2-1.4-.2-.3-.3 .3-.3 1.4-.2z" fill="#204ff6" fill-rule="evenodd"/>
<path d="M532.4 199.6l9-.1 2.5 .2 .9 .1 .3 .3-.3 .3-1.4 .2-5.5 .2-5.7-.2-1.5-.2-.3-.3 .3-.3 1.7-.2z" fill="#1e48f6" fill-rule="evenodd"/>
<path d="M533.4 199.6l8-.1 2.5 .3 .5 .3-.3 .3-1.8 .2-4.4 .1-4.6-.1-1.9-.2-.4-.3 .4-.3 2-.2z" fill="#1b42f7" fill-rule="evenodd"/>
<path d="M534.9 199.6l6.2 0 2.2 .2 .4 .3-.4 .3-1.4 .1-4 .2-4-.1-1.7-.2-.5-.3 .5-.3 2.7-.2z" fill="#183cf8" fill-rule="evenodd"/>
<path d="M536.4 199.6l4.5 .1 1.6 .1 .5 .3-.5 .3-1.1 .1-3.5 .1-4-.1-1.5-.4 1-.3 3-.2z" fill="#1635f9" fill-rule="evenodd"/>
<path d="M533.9 199.8l5.5-.1 2.2 .1 .7 .3-.9 .3-3.5 .1-3.5-.1-1.3-.3 .8-.3z" fill="#132ff9" fill-rule="evenodd"/>
<path d="M534.9 199.8l4.5 0 2.1 .3-.9 .3-2.7 .1-3.2-.1-.9-.3 1.1-.3z" fill="#1129fa" fill-rule="evenodd"/>
<path d="M536.4 199.8l2.8 0 1.4 .3-2.7 .3-1.8 0-1.4-.3 1.7-.3z" fill="#0e23fb" fill-rule="evenodd"/>
<path d="M536.4 200l2.9 .1-3.4 0 .5-.1z" fill="#0c1cfc" fill-rule="evenodd"/>
</g>
<clipPath id="cf11"><rect x="479.3" y="207.4" width="167.70" height="14.60"/></clipPath>
<g clip-path="url(#cf11)">
<path d="M584.9 208.6l9-.1 7.5 .1 6.1 .4 5 .8 2.8 .9 1.8 1.2 .5 .8 .2 .7-.1 2.8-.6 1.3-1.3 1-1.9 .7-2.4 .6-3.5 .5-4.6 .4-11 .2-10-.2-11-.7-37-3-7-.2-14.6 .4-6-.1-2.9-.4-1.6-.4-.8-.6-.3-.7 .1-1.1 .9-.7 1.7-.5 2.4-.3 6-.2 15.1 .4 7-.2 33.5-2.8 17-1zM623.5 212.7l1.6 .2 .7 .5 .5 .8 0 .8-.3 .7-.5 .5-1 .5-1 0-1-.2-.9-.5-.5-.8 0-1 .5-.8 .9-.5 1-.2z" fill="#dbf0fa" fill-rule="evenodd"/>
<path d="M568.9 210.9l8 .3 3 .3 2.5 .6 1.4 .6 .8 .7 .2 .8-.1 1.5-.5 .8-.8 .5-1.4 .5-2.1 .4-5.5 .5-7.5 .1-10.5-.4-24-1.5-20.1-.1-3.5-.5-1-.5-.4-.8 .4-.8 1-.5 3.5-.5 19.6-.1 25-1.5 12-.4z" fill="#bae4f6" fill-rule="evenodd"/>
<path d="M548.9 212.2l10.5-.3 7 .5 2 .4 1.5 .6 .5 .8 0 1-.2 .5-.7 .5-2.6 .8-4.5 .4-5.5 .1-24.5-1.1-16.6-.2-3.7-.5-1-.5-.1-.5 .1-.5 1-.5 3.2-.5 17.6-.2 16-.8z" fill="#a0d9f4" fill-rule="evenodd"/>
<path d="M543.9 212.7l8.5-.2 6 .3 2.1 .4 1.2 .5 .4 .5 .1 .8-.2 .5-.8 .5-1.9 .5-3.4 .3-5 .1-20-.7-13.1-.2-3.6-.5-.5-.3-.3-.5 .3-.5 .5-.3 3.6-.5 13.1-.2 13-.5z" fill="#84cef1" fill-rule="evenodd"/>
<path d="M542.9 212.9l6.5 0 4.4 .3 1.4 .2 1.2 .5 .3 .5 0 .6-.3 .5-.5 .2-2.1 .5-7.4 .3-26.6-.6-3.4-.4-.7-.3-.4-.5 .4-.5 .7-.3 2.9-.4 23.6-.6z" fill="#6ac2ee" fill-rule="evenodd"/>
<path d="M539.4 213.2l6.5 0 4.4 .2 2 .5 .5 .5 0 .6-.5 .5-2 .5-3.2 .2-4.7 .1-21.6-.5-3-.4-.9-.4-.1-.3 .1-.3 .9-.4 3-.4 18.6-.4z" fill="#54b7eb" fill-rule="evenodd"/>
<path d="M533.9 213.4l7.5-.1 4.5 .2 3.1 .4 .5 .3 .2 .5-.2 .5-1.6 .5-2.5 .3-4.5 .1-18.5-.4-3.1-.4-1-.3-.2-.3 .6-.5 2.7-.4 12.5-.4z" fill="#48b0ea" fill-rule="evenodd"/>
<path d="M525.9 213.7l11.5-.2 5.5 .1 3.3 .3 .7 .3 .4 .5-.4 .5-1.5 .4-6.5 .3-15.5-.3-3.4-.4-.6-.2-.1-.3 .5-.4 1-.3 5.1-.3z" fill="#47adea" fill-rule="evenodd"/>
<path d="M529.9 213.7l11.5 0 3 .4 .7 .3 .1 .3-.5 .5-1.3 .3-6.5 .3-13-.3-2.7-.3-.7-.2-.2-.3 .2-.3 .7-.2 1.7-.2 7-.3z" fill="#45aaeb" fill-rule="evenodd"/>
<path d="M524.9 213.9l14-.1 3.5 .3 .9 .3 .1 .3-.1 .3-.5 .2-1.4 .3-6 .2-10.6-.2-2.4-.3-.9-.2-.2-.3 .2-.3 .9-.2 2.5-.3z" fill="#44a7eb" fill-rule="evenodd"/>
<path d="M526.9 213.9l11.5 0 2.6 .3 .7 .2 .2 .3-.2 .3-.7 .2-1.1 .2-6 .2-8.5-.2-2-.2-.9-.2-.3-.3 .3-.3 1.1-.2 3.3-.3z" fill="#43a3ec" fill-rule="evenodd"/>
<path d="M529.4 213.9l8 .1 1.9 .2 .9 .2 .2 .3-.5 .4-1.5 .2-5.5 .2-7.5-.2-2-.3-.3-.3 .3-.3 1.3-.2 4.7-.3z" fill="#42a0ec" fill-rule="evenodd"/>
<path d="M527.9 214.2l7.5 0 2 .2 .4 .3-.4 .3-1.5 .2-4 .1-4.5-.1-2.1-.2-.5-.3 .5-.3 2.6-.2z" fill="#3f9aed" fill-rule="evenodd"/>
<path d="M527.9 214.4l5-.1 1.5 .1 .7 .3-.7 .3-3 .1-3.5-.1-1.1-.3 1.1-.3z" fill="#3c94ed" fill-rule="evenodd"/>
</g>
<clipPath id="cf12"><rect x="479.3" y="222.0" width="167.70" height="14.60"/></clipPath>
<g clip-path="url(#cf12)">
<path d="M584.9 223.5l13 0 4.8 .3 4.4 .5 2.5 .5 2.3 .7 .9 .5 1.7 1.3 .5 0 3.5-.7 1.5 0 1.5 .4 1 .5 .6 .5 .5 .8 0 .8-.3 .7-.4 .5-.9 .6-1 .4-2.5 .2-3.5-.7-.5 0-1.7 1.3-.9 .5-3.9 1.1-7.1 .8-9 .2-9.5-.2-11.5-.6-32.3-2.6-7.7-.5-21.1 0-4-.5-.9-.5-.5-.7 .2-1.1 .7-.5 1.9-.5 2.1-.2 4.5-.1 11.6 .1 6-.1 7.2-.4 28.8-2.4 17.5-.9z" fill="#dbf0fa" fill-rule="evenodd"/>
<path d="M559.4 226l10.5 0 4 .3 2.5 .4 1.5 .4 1.4 .7 .4 .7 0 1.6-.4 .7-.8 .5-2.8 .8-5.2 .5-7.1 .1-10-.4-22.1-1.2-16.5-.3-3.6-.5-1-.5-.1-.5 .1-.5 1-.5 3.6-.5 16.5-.3 28.1-1.5z" fill="#bae4f6" fill-rule="evenodd"/>
<path d="M547.9 227l8-.1 5.6 .4 2.9 .7 .6 .5 .2 1.1-.2 .5-.6 .5-2 .6-3.7 .4-5.8 .1-23-.9-12.1-.2-3.7-.5-.5-.3-.3-.5 .3-.5 .5-.3 3.4-.5 13.4-.3 17-.7z" fill="#a0d9f4" fill-rule="evenodd"/>
<path d="M541.9 227.5l7.5 0 4.8 .3 1.3 .2 1.2 .5 .3 .5 0 .6-.3 .5-.4 .2-2.1 .5-3.3 .3-4.5 0-26.6-.7-3-.3-.8-.3-.4-.5 .4-.5 .8-.3 3-.3 22.1-.7z" fill="#84cef1" fill-rule="evenodd"/>
<path d="M542.4 227.8l4.5 .1 3 .3 1.6 .6 .2 .8-.6 .5-2.3 .5-6.9 .2-20.1-.5-3.5-.4-.8-.3-.1-.3 .1-.3 .8-.3 3.5-.4 20.6-.5z" fill="#6ac2ee" fill-rule="evenodd"/>
<path d="M537.4 228l5 .1 3.2 .2 2 .5 .3 .5-.3 .5-2 .5-6.2 .3-16.5-.4-3.2-.4-.7-.2-.1-.3 .1-.3 .7-.2 2.7-.4 15-.4z" fill="#54b7eb" fill-rule="evenodd"/>
<path d="M530.4 228.3l11 0 3 .5 .5 .5-.5 .5-1.5 .3-6.5 .3-12.5-.3-2.7-.3-.8-.2-.2-.3 .2-.3 .8-.2 1.7-.2 7.5-.3z" fill="#48b0ea" fill-rule="evenodd"/>
<path d="M525.9 228.5l12.5-.1 3.3 .4 .6 .2 .1 .3-.1 .3-.6 .2-1.5 .3-5.8 .1-9.5-.2-2.2-.2-1-.2-.3-.3 .3-.3 1-.2 3.2-.3z" fill="#47adea" fill-rule="evenodd"/>
<path d="M528.9 228.5l8.5 .1 1.9 .2 .9 .2 .1 .3-.4 .3-1.5 .3-5.5 .2-8-.2-2-.3-.3-.3 .3-.3 1.3-.2 4.7-.3z" fill="#45aaeb" fill-rule="evenodd"/>
<path d="M526.4 228.8l8.5-.1 2.5 .2 .8 .1 .2 .3-.2 .3-1.3 .2-5 .2-6-.2-1.8-.2-.4-.3 .4-.3 2.3-.2z" fill="#44a7eb" fill-rule="evenodd"/>
<path d="M528.4 228.8l5.6 0 2.2 .2 .4 .3-.4 .3-1.3 .1-3.5 .2-4.5-.2-1.4-.1-.6-.3 .6-.3 2.9-.2z" fill="#43a3ec" fill-rule="evenodd"/>
<path d="M527.4 229l5-.1 1.7 .1 .7 .3-.7 .3-3.2 .1-3.5-.1-1.2-.3 1.2-.3z" fill="#42a0ec" fill-rule="evenodd"/>
</g>
<clipPath id="cf13"><rect x="479.3" y="236.6" width="167.70" height="14.60"/></clipPath>
<g clip-path="url(#cf13)">
<path d="M579.9 238.6l12.5-.1 5 .2 4.5 .4 2.8 .5 2.5 .8 1.4 .7 1.4 1.2 .5 0 1.8-.7 1.7-.3 1.5-.1 1.5 .3 1 .4 1 .7 .4 .8 0 .8-.2 .7-.8 .8-.9 .5-1.5 .3-2.5 0-3-1-.5 0-1.4 1.2-1.4 .7-3.8 1-6.5 .7-9 .2-9.5-.2-11-.5-35.1-2.7-20-.3-2.5-.3-1.4-.4-.7-.5-.2-.5 .2-.5 .7-.5 1.4-.4 2.5-.3 20-.3 31.1-2.4 16.5-.9z" fill="#dbf0fa" fill-rule="evenodd"/>
<path d="M553.9 241.1l9.5 0 6.5 .5 1.9 .5 .9 .5 .4 .8 0 1-.2 .5-.5 .5-2.5 .8-5 .5-6.5 .1-9-.3-18.5-1-13.6-.3-3.7-.5-.6-.3-.3-.5 .3-.5 .6-.3 3.2-.5 15.1-.4 22-1.1z" fill="#bae4f6" fill-rule="evenodd"/>
<path d="M540.9 242.1l8.5-.1 5.5 .2 3 .7 .5 .5 .1 .8-.3 .5-.3 .2-1.9 .5-3.6 .3-5 .1-27.1-.8-3.1-.3-.9-.3-.5-.5 .1-.3 .9-.4 3-.4 21.1-.7z" fill="#a0d9f4" fill-rule="evenodd"/>
<path d="M532.9 242.6l8.5-.1 5.5 .1 3.1 .5 .4 .3 .3 .5-.3 .5-1.5 .5-2.5 .3-4.5 .1-19.5-.5-3.6-.4-.6-.2-.2-.3 .2-.3 .6-.2 2-.3 12.1-.5z" fill="#84cef1" fill-rule="evenodd"/>
<path d="M529.4 242.9l8-.1 4.8 .1 2.7 .4 .6 .3 .1 .3-.5 .5-1.2 .3-6.5 .3-14-.3-2.5-.3-.8-.2-.3-.3 .3-.3 .7-.2 1.6-.2 7-.3z" fill="#6ac2ee" fill-rule="evenodd"/>
<path d="M526.4 243.1l12 0 2.7 .3 .6 .2 .1 .3-.1 .3-.6 .2-1.7 .3-5.5 .1-9.5-.3-2-.2-.9-.4 .3-.3 1.1-.2 3.5-.3z" fill="#54b7eb" fill-rule="evenodd"/>
<path d="M525.4 243.4l9.5-.2 2.6 .2 1 .2 .3 .3-.3 .3-1 .2-5.1 .2-7.2-.2-1.7-.2-.5-.3 .5-.3 1.9-.2z" fill="#48b0ea" fill-rule="evenodd"/>
<path d="M528.9 243.4l5 0 1.7 .2 .4 .3-.4 .3-1.2 .1-3.5 .1-4.5-.1-1.7-.4 .7-.3 3.5-.2z" fill="#47adea" fill-rule="evenodd"/>
<path d="M528.4 243.6l3.5 0 1.2 .3-1.2 .3-2 0-3.1-.3 1.6-.3z" fill="#45aaeb" fill-rule="evenodd"/>
</g>
<clipPath id="cf14"><rect x="479.3" y="251.2" width="167.70" height="14.50"/></clipPath>
<g clip-path="url(#cf14)">
<path d="M578.9 253.7l12.5 .2 4.5 .4 3.5 .6 2 .7 1.2 .8 .5 1.3-.1 2-.7 1-1.2 .7-3.8 1-7.4 .7-9.5 .1-17.5-.7-33.4-2.3-14.2-.3-3.5-.5-.9-.4-.2-.6 .2-.4 .9-.5 3.5-.5 14.6-.3 32.5-2.3 16.5-.7zM608 256.4l1-.1 1 .3 1.1 .8 .3 .8-.1 .8-.8 1-1 .5-1.5 0-1-.3-.9-.8-.4-1 .4-1 .9-.7 1-.3z" fill="#dbf0fa" fill-rule="evenodd"/>
<path d="M543.4 256.4l10-.2 6.5 .3 3.3 .7 .8 .5 .1 1-.1 .5-.8 .5-1.9 .5-3.9 .4-5.5 .1-32.1-1.2-3-.4-.7-.1-.5-.6 .1-.2 .6-.3 3-.5 24.1-1z" fill="#bae4f6" fill-rule="evenodd"/>
<path d="M533.9 257.2l7.5-.1 4.9 .1 3.1 .5 .5 .3 .2 .4-.2 .6-1.5 .4-2.5 .3-4.5 .1-18.5-.5-3.4-.3-.7-.3-.2-.3 .2-.2 .7-.2 2.4-.4 12-.4z" fill="#a0d9f4" fill-rule="evenodd"/>
<path d="M525.9 257.7l7.5-.2 5.5 .1 3.3 .4 .5 .2 .1 .2-.1 .3-.5 .3-1.4 .2-5.9 .2-10.5-.3-2.5-.3-.9-.4 .3-.2 1.2-.2 3.4-.3z" fill="#84cef1" fill-rule="evenodd"/>
<path d="M526.4 257.9l8.5 0 2 .2 .6 .1 .2 .2-.2 .3-1.3 .3-4.8 .1-5.5-.1-2.1-.3-.5-.3 .5-.2 2.6-.3z" fill="#6ac2ee" fill-rule="evenodd"/>
<path d="M527.9 258.2l4 0 1.2 .2-1 .3-2.2 .1-2.5-.1-1.2-.3 1.7-.2z" fill="#54b7eb" fill-rule="evenodd"/>
</g>
<line x1="479.3" y1="63.8" x2="647.0" y2="63.8" stroke="#a0a0a0" stroke-width="1.8"/>
<line x1="479.3" y1="78.3" x2="647.0" y2="78.3" stroke="#a0a0a0" stroke-width="1.8"/>
<line x1="479.3" y1="92.9" x2="647.0" y2="92.9" stroke="#a0a0a0" stroke-width="1.8"/>
<line x1="479.3" y1="107.5" x2="647.0" y2="107.5" stroke="#a0a0a0" stroke-width="1.8"/>
<line x1="479.3" y1="122.1" x2="647.0" y2="122.1" stroke="#a0a0a0" stroke-width="1.8"/>
<line x1="479.3" y1="136.7" x2="647.0" y2="136.7" stroke="#a0a0a0" stroke-width="1.8"/>
<line x1="479.3" y1="151.3" x2="647.0" y2="151.3" stroke="#a0a0a0" stroke-width="1.8"/>
<line x1="479.3" y1="163.7" x2="647.0" y2="163.7" stroke="#a0a0a0" stroke-width="1.8"/>
<line x1="479.3" y1="178.3" x2="647.0" y2="178.3" stroke="#a0a0a0" stroke-width="1.8"/>
<line x1="479.3" y1="192.8" x2="647.0" y2="192.8" stroke="#a0a0a0" stroke-width="1.8"/>
<line x1="479.3" y1="207.4" x2="647.0" y2="207.4" stroke="#a0a0a0" stroke-width="1.8"/>
<line x1="479.3" y1="222.0" x2="647.0" y2="222.0" stroke="#a0a0a0" stroke-width="1.8"/>
<line x1="479.3" y1="236.6" x2="647.0" y2="236.6" stroke="#a0a0a0" stroke-width="1.8"/>
<line x1="479.3" y1="251.2" x2="647.0" y2="251.2" stroke="#a0a0a0" stroke-width="1.8"/>
<line x1="507.25" y1="49.2" x2="507.25" y2="51.2" stroke="#555" stroke-width="0.8"/>
<line x1="507.25" y1="63.8" x2="507.25" y2="61.8" stroke="#555" stroke-width="0.8"/>
<line x1="535.20" y1="49.2" x2="535.20" y2="51.2" stroke="#555" stroke-width="0.8"/>
<line x1="535.20" y1="63.8" x2="535.20" y2="61.8" stroke="#555" stroke-width="0.8"/>
<line x1="563.15" y1="49.2" x2="563.15" y2="51.2" stroke="#555" stroke-width="0.8"/>
<line x1="563.15" y1="63.8" x2="563.15" y2="61.8" stroke="#555" stroke-width="0.8"/>
<line x1="591.10" y1="49.2" x2="591.10" y2="51.2" stroke="#555" stroke-width="0.8"/>
<line x1="591.10" y1="63.8" x2="591.10" y2="61.8" stroke="#555" stroke-width="0.8"/>
<line x1="619.05" y1="49.2" x2="619.05" y2="51.2" stroke="#555" stroke-width="0.8"/>
<line x1="619.05" y1="63.8" x2="619.05" y2="61.8" stroke="#555" stroke-width="0.8"/>
<line x1="479.3" y1="56.50" x2="480.90000000000003" y2="56.50" stroke="#555" stroke-width="0.8"/>
<line x1="647.0" y1="56.50" x2="645.4" y2="56.50" stroke="#555" stroke-width="0.8"/>
<text x="477.50" y="60.30" font-size="10.8" text-anchor="end" fill="#1a1a1a">-80.8 </text>
<path d="M763 0H583V1110Q518 1050 412 990Q306 930 222 900V1070Q373 1140 486 1240Q599 1340 646 1409H763Z" fill="#1a1a1a" transform="translate(471.49 60.30) scale(0.005273 -0.005273)"/>
<line x1="507.25" y1="63.8" x2="507.25" y2="65.8" stroke="#555" stroke-width="0.8"/>
<line x1="507.25" y1="78.3" x2="507.25" y2="76.3" stroke="#555" stroke-width="0.8"/>
<line x1="535.20" y1="63.8" x2="535.20" y2="65.8" stroke="#555" stroke-width="0.8"/>
<line x1="535.20" y1="78.3" x2="535.20" y2="76.3" stroke="#555" stroke-width="0.8"/>
<line x1="563.15" y1="63.8" x2="563.15" y2="65.8" stroke="#555" stroke-width="0.8"/>
<line x1="563.15" y1="78.3" x2="563.15" y2="76.3" stroke="#555" stroke-width="0.8"/>
<line x1="591.10" y1="63.8" x2="591.10" y2="65.8" stroke="#555" stroke-width="0.8"/>
<line x1="591.10" y1="78.3" x2="591.10" y2="76.3" stroke="#555" stroke-width="0.8"/>
<line x1="619.05" y1="63.8" x2="619.05" y2="65.8" stroke="#555" stroke-width="0.8"/>
<line x1="619.05" y1="78.3" x2="619.05" y2="76.3" stroke="#555" stroke-width="0.8"/>
<line x1="479.3" y1="71.05" x2="480.90000000000003" y2="71.05" stroke="#555" stroke-width="0.8"/>
<line x1="647.0" y1="71.05" x2="645.4" y2="71.05" stroke="#555" stroke-width="0.8"/>
<text x="477.50" y="74.90" font-size="10.8" text-anchor="end" fill="#1a1a1a">-78.74</text>
<line x1="507.25" y1="78.3" x2="507.25" y2="80.3" stroke="#555" stroke-width="0.8"/>
<line x1="507.25" y1="92.9" x2="507.25" y2="90.9" stroke="#555" stroke-width="0.8"/>
<line x1="535.20" y1="78.3" x2="535.20" y2="80.3" stroke="#555" stroke-width="0.8"/>
<line x1="535.20" y1="92.9" x2="535.20" y2="90.9" stroke="#555" stroke-width="0.8"/>
<line x1="563.15" y1="78.3" x2="563.15" y2="80.3" stroke="#555" stroke-width="0.8"/>
<line x1="563.15" y1="92.9" x2="563.15" y2="90.9" stroke="#555" stroke-width="0.8"/>
<line x1="591.10" y1="78.3" x2="591.10" y2="80.3" stroke="#555" stroke-width="0.8"/>
<line x1="591.10" y1="92.9" x2="591.10" y2="90.9" stroke="#555" stroke-width="0.8"/>
<line x1="619.05" y1="78.3" x2="619.05" y2="80.3" stroke="#555" stroke-width="0.8"/>
<line x1="619.05" y1="92.9" x2="619.05" y2="90.9" stroke="#555" stroke-width="0.8"/>
<line x1="479.3" y1="85.60" x2="480.90000000000003" y2="85.60" stroke="#555" stroke-width="0.8"/>
<line x1="647.0" y1="85.60" x2="645.4" y2="85.60" stroke="#555" stroke-width="0.8"/>
<text x="477.50" y="89.30" font-size="10.8" text-anchor="end" fill="#1a1a1a">-76.67</text>
<line x1="507.25" y1="92.9" x2="507.25" y2="94.9" stroke="#555" stroke-width="0.8"/>
<line x1="507.25" y1="107.5" x2="507.25" y2="105.5" stroke="#555" stroke-width="0.8"/>
<line x1="535.20" y1="92.9" x2="535.20" y2="94.9" stroke="#555" stroke-width="0.8"/>
<line x1="535.20" y1="107.5" x2="535.20" y2="105.5" stroke="#555" stroke-width="0.8"/>
<line x1="563.15" y1="92.9" x2="563.15" y2="94.9" stroke="#555" stroke-width="0.8"/>
<line x1="563.15" y1="107.5" x2="563.15" y2="105.5" stroke="#555" stroke-width="0.8"/>
<line x1="591.10" y1="92.9" x2="591.10" y2="94.9" stroke="#555" stroke-width="0.8"/>
<line x1="591.10" y1="107.5" x2="591.10" y2="105.5" stroke="#555" stroke-width="0.8"/>
<line x1="619.05" y1="92.9" x2="619.05" y2="94.9" stroke="#555" stroke-width="0.8"/>
<line x1="619.05" y1="107.5" x2="619.05" y2="105.5" stroke="#555" stroke-width="0.8"/>
<line x1="479.3" y1="100.20" x2="480.90000000000003" y2="100.20" stroke="#555" stroke-width="0.8"/>
<line x1="647.0" y1="100.20" x2="645.4" y2="100.20" stroke="#555" stroke-width="0.8"/>
<text x="477.50" y="103.30" font-size="10.8" text-anchor="end" fill="#1a1a1a">-74.60</text>
<line x1="507.25" y1="107.5" x2="507.25" y2="109.5" stroke="#555" stroke-width="0.8"/>
<line x1="507.25" y1="122.1" x2="507.25" y2="120.1" stroke="#555" stroke-width="0.8"/>
<line x1="535.20" y1="107.5" x2="535.20" y2="109.5" stroke="#555" stroke-width="0.8"/>
<line x1="535.20" y1="122.1" x2="535.20" y2="120.1" stroke="#555" stroke-width="0.8"/>
<line x1="563.15" y1="107.5" x2="563.15" y2="109.5" stroke="#555" stroke-width="0.8"/>
<line x1="563.15" y1="122.1" x2="563.15" y2="120.1" stroke="#555" stroke-width="0.8"/>
<line x1="591.10" y1="107.5" x2="591.10" y2="109.5" stroke="#555" stroke-width="0.8"/>
<line x1="591.10" y1="122.1" x2="591.10" y2="120.1" stroke="#555" stroke-width="0.8"/>
<line x1="619.05" y1="107.5" x2="619.05" y2="109.5" stroke="#555" stroke-width="0.8"/>
<line x1="619.05" y1="122.1" x2="619.05" y2="120.1" stroke="#555" stroke-width="0.8"/>
<line x1="479.3" y1="114.80" x2="480.90000000000003" y2="114.80" stroke="#555" stroke-width="0.8"/>
<line x1="647.0" y1="114.80" x2="645.4" y2="114.80" stroke="#555" stroke-width="0.8"/>
<text x="477.50" y="118.20" font-size="10.8" text-anchor="end" fill="#1a1a1a">-55.95</text>
<line x1="507.25" y1="122.1" x2="507.25" y2="124.1" stroke="#555" stroke-width="0.8"/>
<line x1="507.25" y1="136.7" x2="507.25" y2="134.7" stroke="#555" stroke-width="0.8"/>
<line x1="535.20" y1="122.1" x2="535.20" y2="124.1" stroke="#555" stroke-width="0.8"/>
<line x1="535.20" y1="136.7" x2="535.20" y2="134.7" stroke="#555" stroke-width="0.8"/>
<line x1="563.15" y1="122.1" x2="563.15" y2="124.1" stroke="#555" stroke-width="0.8"/>
<line x1="563.15" y1="136.7" x2="563.15" y2="134.7" stroke="#555" stroke-width="0.8"/>
<line x1="591.10" y1="122.1" x2="591.10" y2="124.1" stroke="#555" stroke-width="0.8"/>
<line x1="591.10" y1="136.7" x2="591.10" y2="134.7" stroke="#555" stroke-width="0.8"/>
<line x1="619.05" y1="122.1" x2="619.05" y2="124.1" stroke="#555" stroke-width="0.8"/>
<line x1="619.05" y1="136.7" x2="619.05" y2="134.7" stroke="#555" stroke-width="0.8"/>
<line x1="479.3" y1="129.40" x2="480.90000000000003" y2="129.40" stroke="#555" stroke-width="0.8"/>
<line x1="647.0" y1="129.40" x2="645.4" y2="129.40" stroke="#555" stroke-width="0.8"/>
<text x="477.50" y="132.40" font-size="10.8" text-anchor="end" fill="#1a1a1a">-37.30</text>
<line x1="507.25" y1="136.7" x2="507.25" y2="138.7" stroke="#555" stroke-width="0.8"/>
<line x1="507.25" y1="151.3" x2="507.25" y2="149.3" stroke="#555" stroke-width="0.8"/>
<line x1="535.20" y1="136.7" x2="535.20" y2="138.7" stroke="#555" stroke-width="0.8"/>
<line x1="535.20" y1="151.3" x2="535.20" y2="149.3" stroke="#555" stroke-width="0.8"/>
<line x1="563.15" y1="136.7" x2="563.15" y2="138.7" stroke="#555" stroke-width="0.8"/>
<line x1="563.15" y1="151.3" x2="563.15" y2="149.3" stroke="#555" stroke-width="0.8"/>
<line x1="591.10" y1="136.7" x2="591.10" y2="138.7" stroke="#555" stroke-width="0.8"/>
<line x1="591.10" y1="151.3" x2="591.10" y2="149.3" stroke="#555" stroke-width="0.8"/>
<line x1="619.05" y1="136.7" x2="619.05" y2="138.7" stroke="#555" stroke-width="0.8"/>
<line x1="619.05" y1="151.3" x2="619.05" y2="149.3" stroke="#555" stroke-width="0.8"/>
<line x1="479.3" y1="144.00" x2="480.90000000000003" y2="144.00" stroke="#555" stroke-width="0.8"/>
<line x1="647.0" y1="144.00" x2="645.4" y2="144.00" stroke="#555" stroke-width="0.8"/>
<text x="477.50" y="148.30" font-size="10.8" text-anchor="end" fill="#1a1a1a">- 8.65</text>
<path d="M763 0H583V1110Q518 1050 412 990Q306 930 222 900V1070Q373 1140 486 1240Q599 1340 646 1409H763Z" fill="#1a1a1a" transform="translate(450.47 148.30) scale(0.005273 -0.005273)"/>
<line x1="507.25" y1="151.3" x2="507.25" y2="153.3" stroke="#555" stroke-width="0.8"/>
<line x1="507.25" y1="163.7" x2="507.25" y2="161.7" stroke="#555" stroke-width="0.8"/>
<line x1="535.20" y1="151.3" x2="535.20" y2="153.3" stroke="#555" stroke-width="0.8"/>
<line x1="535.20" y1="163.7" x2="535.20" y2="161.7" stroke="#555" stroke-width="0.8"/>
<line x1="563.15" y1="151.3" x2="563.15" y2="153.3" stroke="#555" stroke-width="0.8"/>
<line x1="563.15" y1="163.7" x2="563.15" y2="161.7" stroke="#555" stroke-width="0.8"/>
<line x1="591.10" y1="151.3" x2="591.10" y2="153.3" stroke="#555" stroke-width="0.8"/>
<line x1="591.10" y1="163.7" x2="591.10" y2="161.7" stroke="#555" stroke-width="0.8"/>
<line x1="619.05" y1="151.3" x2="619.05" y2="153.3" stroke="#555" stroke-width="0.8"/>
<line x1="619.05" y1="163.7" x2="619.05" y2="161.7" stroke="#555" stroke-width="0.8"/>
<line x1="479.3" y1="157.50" x2="480.90000000000003" y2="157.50" stroke="#555" stroke-width="0.8"/>
<line x1="647.0" y1="157.50" x2="645.4" y2="157.50" stroke="#555" stroke-width="0.8"/>
<text x="449.50" y="162.20" font-size="10.8" text-anchor="start" fill="#1a1a1a">0</text>
<line x1="507.25" y1="163.7" x2="507.25" y2="165.7" stroke="#555" stroke-width="0.8"/>
<line x1="507.25" y1="178.3" x2="507.25" y2="176.3" stroke="#555" stroke-width="0.8"/>
<line x1="535.20" y1="163.7" x2="535.20" y2="165.7" stroke="#555" stroke-width="0.8"/>
<line x1="535.20" y1="178.3" x2="535.20" y2="176.3" stroke="#555" stroke-width="0.8"/>
<line x1="563.15" y1="163.7" x2="563.15" y2="165.7" stroke="#555" stroke-width="0.8"/>
<line x1="563.15" y1="178.3" x2="563.15" y2="176.3" stroke="#555" stroke-width="0.8"/>
<line x1="591.10" y1="163.7" x2="591.10" y2="165.7" stroke="#555" stroke-width="0.8"/>
<line x1="591.10" y1="178.3" x2="591.10" y2="176.3" stroke="#555" stroke-width="0.8"/>
<line x1="619.05" y1="163.7" x2="619.05" y2="165.7" stroke="#555" stroke-width="0.8"/>
<line x1="619.05" y1="178.3" x2="619.05" y2="176.3" stroke="#555" stroke-width="0.8"/>
<line x1="479.3" y1="171.00" x2="480.90000000000003" y2="171.00" stroke="#555" stroke-width="0.8"/>
<line x1="647.0" y1="171.00" x2="645.4" y2="171.00" stroke="#555" stroke-width="0.8"/>
<text x="477.50" y="174.00" font-size="10.8" text-anchor="end" fill="#1a1a1a"> 8.65</text>
<path d="M763 0H583V1110Q518 1050 412 990Q306 930 222 900V1070Q373 1140 486 1240Q599 1340 646 1409H763Z" fill="#1a1a1a" transform="translate(450.47 174.00) scale(0.005273 -0.005273)"/>
<line x1="507.25" y1="178.3" x2="507.25" y2="180.3" stroke="#555" stroke-width="0.8"/>
<line x1="507.25" y1="192.8" x2="507.25" y2="190.8" stroke="#555" stroke-width="0.8"/>
<line x1="535.20" y1="178.3" x2="535.20" y2="180.3" stroke="#555" stroke-width="0.8"/>
<line x1="535.20" y1="192.8" x2="535.20" y2="190.8" stroke="#555" stroke-width="0.8"/>
<line x1="563.15" y1="178.3" x2="563.15" y2="180.3" stroke="#555" stroke-width="0.8"/>
<line x1="563.15" y1="192.8" x2="563.15" y2="190.8" stroke="#555" stroke-width="0.8"/>
<line x1="591.10" y1="178.3" x2="591.10" y2="180.3" stroke="#555" stroke-width="0.8"/>
<line x1="591.10" y1="192.8" x2="591.10" y2="190.8" stroke="#555" stroke-width="0.8"/>
<line x1="619.05" y1="178.3" x2="619.05" y2="180.3" stroke="#555" stroke-width="0.8"/>
<line x1="619.05" y1="192.8" x2="619.05" y2="190.8" stroke="#555" stroke-width="0.8"/>
<line x1="479.3" y1="185.55" x2="480.90000000000003" y2="185.55" stroke="#555" stroke-width="0.8"/>
<line x1="647.0" y1="185.55" x2="645.4" y2="185.55" stroke="#555" stroke-width="0.8"/>
<text x="477.50" y="187.60" font-size="10.8" text-anchor="end" fill="#1a1a1a">37.30</text>
<line x1="507.25" y1="192.8" x2="507.25" y2="194.8" stroke="#555" stroke-width="0.8"/>
<line x1="507.25" y1="207.4" x2="507.25" y2="205.4" stroke="#555" stroke-width="0.8"/>
<line x1="535.20" y1="192.8" x2="535.20" y2="194.8" stroke="#555" stroke-width="0.8"/>
<line x1="535.20" y1="207.4" x2="535.20" y2="205.4" stroke="#555" stroke-width="0.8"/>
<line x1="563.15" y1="192.8" x2="563.15" y2="194.8" stroke="#555" stroke-width="0.8"/>
<line x1="563.15" y1="207.4" x2="563.15" y2="205.4" stroke="#555" stroke-width="0.8"/>
<line x1="591.10" y1="192.8" x2="591.10" y2="194.8" stroke="#555" stroke-width="0.8"/>
<line x1="591.10" y1="207.4" x2="591.10" y2="205.4" stroke="#555" stroke-width="0.8"/>
<line x1="619.05" y1="192.8" x2="619.05" y2="194.8" stroke="#555" stroke-width="0.8"/>
<line x1="619.05" y1="207.4" x2="619.05" y2="205.4" stroke="#555" stroke-width="0.8"/>
<line x1="479.3" y1="200.10" x2="480.90000000000003" y2="200.10" stroke="#555" stroke-width="0.8"/>
<line x1="647.0" y1="200.10" x2="645.4" y2="200.10" stroke="#555" stroke-width="0.8"/>
<text x="477.50" y="204.10" font-size="10.8" text-anchor="end" fill="#1a1a1a">55.95</text>
<line x1="507.25" y1="207.4" x2="507.25" y2="209.4" stroke="#555" stroke-width="0.8"/>
<line x1="507.25" y1="222.0" x2="507.25" y2="220.0" stroke="#555" stroke-width="0.8"/>
<line x1="535.20" y1="207.4" x2="535.20" y2="209.4" stroke="#555" stroke-width="0.8"/>
<line x1="535.20" y1="222.0" x2="535.20" y2="220.0" stroke="#555" stroke-width="0.8"/>
<line x1="563.15" y1="207.4" x2="563.15" y2="209.4" stroke="#555" stroke-width="0.8"/>
<line x1="563.15" y1="222.0" x2="563.15" y2="220.0" stroke="#555" stroke-width="0.8"/>
<line x1="591.10" y1="207.4" x2="591.10" y2="209.4" stroke="#555" stroke-width="0.8"/>
<line x1="591.10" y1="222.0" x2="591.10" y2="220.0" stroke="#555" stroke-width="0.8"/>
<line x1="619.05" y1="207.4" x2="619.05" y2="209.4" stroke="#555" stroke-width="0.8"/>
<line x1="619.05" y1="222.0" x2="619.05" y2="220.0" stroke="#555" stroke-width="0.8"/>
<line x1="479.3" y1="214.70" x2="480.90000000000003" y2="214.70" stroke="#555" stroke-width="0.8"/>
<line x1="647.0" y1="214.70" x2="645.4" y2="214.70" stroke="#555" stroke-width="0.8"/>
<text x="477.50" y="216.60" font-size="10.8" text-anchor="end" fill="#1a1a1a">74.60</text>
<line x1="507.25" y1="222.0" x2="507.25" y2="224.0" stroke="#555" stroke-width="0.8"/>
<line x1="507.25" y1="236.6" x2="507.25" y2="234.6" stroke="#555" stroke-width="0.8"/>
<line x1="535.20" y1="222.0" x2="535.20" y2="224.0" stroke="#555" stroke-width="0.8"/>
<line x1="535.20" y1="236.6" x2="535.20" y2="234.6" stroke="#555" stroke-width="0.8"/>
<line x1="563.15" y1="222.0" x2="563.15" y2="224.0" stroke="#555" stroke-width="0.8"/>
<line x1="563.15" y1="236.6" x2="563.15" y2="234.6" stroke="#555" stroke-width="0.8"/>
<line x1="591.10" y1="222.0" x2="591.10" y2="224.0" stroke="#555" stroke-width="0.8"/>
<line x1="591.10" y1="236.6" x2="591.10" y2="234.6" stroke="#555" stroke-width="0.8"/>
<line x1="619.05" y1="222.0" x2="619.05" y2="224.0" stroke="#555" stroke-width="0.8"/>
<line x1="619.05" y1="236.6" x2="619.05" y2="234.6" stroke="#555" stroke-width="0.8"/>
<line x1="479.3" y1="229.30" x2="480.90000000000003" y2="229.30" stroke="#555" stroke-width="0.8"/>
<line x1="647.0" y1="229.30" x2="645.4" y2="229.30" stroke="#555" stroke-width="0.8"/>
<text x="477.50" y="231.90" font-size="10.8" text-anchor="end" fill="#1a1a1a">76.67</text>
<line x1="507.25" y1="236.6" x2="507.25" y2="238.6" stroke="#555" stroke-width="0.8"/>
<line x1="507.25" y1="251.2" x2="507.25" y2="249.2" stroke="#555" stroke-width="0.8"/>
<line x1="535.20" y1="236.6" x2="535.20" y2="238.6" stroke="#555" stroke-width="0.8"/>
<line x1="535.20" y1="251.2" x2="535.20" y2="249.2" stroke="#555" stroke-width="0.8"/>
<line x1="563.15" y1="236.6" x2="563.15" y2="238.6" stroke="#555" stroke-width="0.8"/>
<line x1="563.15" y1="251.2" x2="563.15" y2="249.2" stroke="#555" stroke-width="0.8"/>
<line x1="591.10" y1="236.6" x2="591.10" y2="238.6" stroke="#555" stroke-width="0.8"/>
<line x1="591.10" y1="251.2" x2="591.10" y2="249.2" stroke="#555" stroke-width="0.8"/>
<line x1="619.05" y1="236.6" x2="619.05" y2="238.6" stroke="#555" stroke-width="0.8"/>
<line x1="619.05" y1="251.2" x2="619.05" y2="249.2" stroke="#555" stroke-width="0.8"/>
<line x1="479.3" y1="243.90" x2="480.90000000000003" y2="243.90" stroke="#555" stroke-width="0.8"/>
<line x1="647.0" y1="243.90" x2="645.4" y2="243.90" stroke="#555" stroke-width="0.8"/>
<text x="477.50" y="246.70" font-size="10.8" text-anchor="end" fill="#1a1a1a">78.74</text>
<line x1="507.25" y1="251.2" x2="507.25" y2="253.2" stroke="#555" stroke-width="0.8"/>
<line x1="507.25" y1="265.7" x2="507.25" y2="263.7" stroke="#555" stroke-width="0.8"/>
<line x1="535.20" y1="251.2" x2="535.20" y2="253.2" stroke="#555" stroke-width="0.8"/>
<line x1="535.20" y1="265.7" x2="535.20" y2="263.7" stroke="#555" stroke-width="0.8"/>
<line x1="563.15" y1="251.2" x2="563.15" y2="253.2" stroke="#555" stroke-width="0.8"/>
<line x1="563.15" y1="265.7" x2="563.15" y2="263.7" stroke="#555" stroke-width="0.8"/>
<line x1="591.10" y1="251.2" x2="591.10" y2="253.2" stroke="#555" stroke-width="0.8"/>
<line x1="591.10" y1="265.7" x2="591.10" y2="263.7" stroke="#555" stroke-width="0.8"/>
<line x1="619.05" y1="251.2" x2="619.05" y2="253.2" stroke="#555" stroke-width="0.8"/>
<line x1="619.05" y1="265.7" x2="619.05" y2="263.7" stroke="#555" stroke-width="0.8"/>
<line x1="479.3" y1="258.45" x2="480.90000000000003" y2="258.45" stroke="#555" stroke-width="0.8"/>
<line x1="647.0" y1="258.45" x2="645.4" y2="258.45" stroke="#555" stroke-width="0.8"/>
<text x="477.50" y="263.40" font-size="10.8" text-anchor="end" fill="#1a1a1a">80.8 </text>
<path d="M763 0H583V1110Q518 1050 412 990Q306 930 222 900V1070Q373 1140 486 1240Q599 1340 646 1409H763Z" fill="#1a1a1a" transform="translate(471.49 263.40) scale(0.005273 -0.005273)"/>
<rect x="479.3" y="49.2" width="167.70" height="216.50" fill="none" stroke="#111" stroke-width="1.5"/>
<text x="479.30" y="278.80" font-size="10.8" text-anchor="middle" fill="#1a1a1a">-6</text>
<text x="507.25" y="278.80" font-size="10.8" text-anchor="middle" fill="#1a1a1a">-4</text>
<text x="535.20" y="278.80" font-size="10.8" text-anchor="middle" fill="#1a1a1a">-2</text>
<text x="563.15" y="278.80" font-size="10.8" text-anchor="middle" fill="#1a1a1a">0</text>
<text x="591.10" y="278.80" font-size="10.8" text-anchor="middle" fill="#1a1a1a">2</text>
<text x="619.05" y="278.80" font-size="10.8" text-anchor="middle" fill="#1a1a1a">4</text>
<text x="647.00" y="278.80" font-size="10.8" text-anchor="middle" fill="#1a1a1a">6</text>
<text x="563.15" y="290.80" font-size="11" text-anchor="middle" fill="#1a1a1a">z (mm)</text>
<text x="241.30" y="20.90" font-size="12.6" text-anchor="start" font-weight="bold" fill="#000">b</text>
<text x="241.30" y="44.80" font-size="12.6" text-anchor="start" font-weight="bold" fill="#000">c</text>
<text x="462.60" y="21.20" font-size="12.6" text-anchor="start" font-weight="bold" fill="#000">e</text>
<text x="463.60" y="44.60" font-size="12.6" text-anchor="start" font-weight="bold" fill="#000">f</text>
<line x1="426.2" y1="17.7" x2="433.2" y2="17.7" stroke="#111" stroke-width="1.1"/>
<line x1="426.2" y1="31.4" x2="433.2" y2="31.4" stroke="#111" stroke-width="1.1"/>
<line x1="431.5" y1="9.8" x2="431.5" y2="17.3" stroke="#111" stroke-width="1"/>
<polyline points="428.6,13.0 431.5,17.3 434.4,13.0" fill="none" stroke="#111" stroke-width="1"/>
<line x1="431.5" y1="31.8" x2="431.5" y2="40.8" stroke="#111" stroke-width="1"/>
<polyline points="428.6,36.1 431.5,31.8 434.4,36.1" fill="none" stroke="#111" stroke-width="1"/>
<text x="430.50" y="7.70" font-size="10.8" text-anchor="middle" fill="#1a1a1a">0. </text>
<path d="M763 0H583V1110Q518 1050 412 990Q306 930 222 900V1070Q373 1140 486 1240Q599 1340 646 1409H763Z" fill="#1a1a1a" transform="translate(432.00 7.70) scale(0.005273 -0.005273)"/>
<text x="438.60" y="6.90" font-size="11.1" text-anchor="start" transform="rotate(90 438.60 6.90)" fill="#1a1a1a">x (mm)</text>
<defs><linearGradient id="cbg" x1="0" y1="1" x2="0" y2="0">
<stop offset="0.0000" stop-color="#ffffff"/><stop offset="0.0156" stop-color="#ffffff"/>
<stop offset="0.0156" stop-color="#dbf0fa"/><stop offset="0.0312" stop-color="#dbf0fa"/>
<stop offset="0.0312" stop-color="#bae4f6"/><stop offset="0.0469" stop-color="#bae4f6"/>
<stop offset="0.0469" stop-color="#a0d9f4"/><stop offset="0.0625" stop-color="#a0d9f4"/>
<stop offset="0.0625" stop-color="#84cef1"/><stop offset="0.0781" stop-color="#84cef1"/>
<stop offset="0.0781" stop-color="#6ac2ee"/><stop offset="0.0938" stop-color="#6ac2ee"/>
<stop offset="0.0938" stop-color="#54b7eb"/><stop offset="0.1094" stop-color="#54b7eb"/>
<stop offset="0.1094" stop-color="#48b0ea"/><stop offset="0.1250" stop-color="#48b0ea"/>
<stop offset="0.1250" stop-color="#47adea"/><stop offset="0.1406" stop-color="#47adea"/>
<stop offset="0.1406" stop-color="#45aaeb"/><stop offset="0.1562" stop-color="#45aaeb"/>
<stop offset="0.1562" stop-color="#44a7eb"/><stop offset="0.1719" stop-color="#44a7eb"/>
<stop offset="0.1719" stop-color="#43a3ec"/><stop offset="0.1875" stop-color="#43a3ec"/>
<stop offset="0.1875" stop-color="#42a0ec"/><stop offset="0.2031" stop-color="#42a0ec"/>
<stop offset="0.2031" stop-color="#409dec"/><stop offset="0.2188" stop-color="#409dec"/>
<stop offset="0.2188" stop-color="#3f9aed"/><stop offset="0.2344" stop-color="#3f9aed"/>
<stop offset="0.2344" stop-color="#3e97ed"/><stop offset="0.2500" stop-color="#3e97ed"/>
<stop offset="0.2500" stop-color="#3c94ed"/><stop offset="0.2656" stop-color="#3c94ed"/>
<stop offset="0.2656" stop-color="#3b91ee"/><stop offset="0.2812" stop-color="#3b91ee"/>
<stop offset="0.2812" stop-color="#3a8dee"/><stop offset="0.2969" stop-color="#3a8dee"/>
<stop offset="0.2969" stop-color="#398aee"/><stop offset="0.3125" stop-color="#398aee"/>
<stop offset="0.3125" stop-color="#3787ef"/><stop offset="0.3281" stop-color="#3787ef"/>
<stop offset="0.3281" stop-color="#3684ef"/><stop offset="0.3438" stop-color="#3684ef"/>
<stop offset="0.3438" stop-color="#3581f0"/><stop offset="0.3594" stop-color="#3581f0"/>
<stop offset="0.3594" stop-color="#337ef0"/><stop offset="0.3750" stop-color="#337ef0"/>
<stop offset="0.3750" stop-color="#327bf0"/><stop offset="0.3906" stop-color="#327bf0"/>
<stop offset="0.3906" stop-color="#3177f1"/><stop offset="0.4062" stop-color="#3177f1"/>
<stop offset="0.4062" stop-color="#3074f1"/><stop offset="0.4219" stop-color="#3074f1"/>
<stop offset="0.4219" stop-color="#2e71f2"/><stop offset="0.4375" stop-color="#2e71f2"/>
<stop offset="0.4375" stop-color="#2d6ef2"/><stop offset="0.4531" stop-color="#2d6ef2"/>
<stop offset="0.4531" stop-color="#2c6bf2"/><stop offset="0.4688" stop-color="#2c6bf2"/>
<stop offset="0.4688" stop-color="#2a68f3"/><stop offset="0.4844" stop-color="#2a68f3"/>
<stop offset="0.4844" stop-color="#2965f3"/><stop offset="0.5000" stop-color="#2965f3"/>
<stop offset="0.5000" stop-color="#2861f3"/><stop offset="0.5156" stop-color="#2861f3"/>
<stop offset="0.5156" stop-color="#275ef4"/><stop offset="0.5312" stop-color="#275ef4"/>
<stop offset="0.5312" stop-color="#255bf4"/><stop offset="0.5469" stop-color="#255bf4"/>
<stop offset="0.5469" stop-color="#2458f4"/><stop offset="0.5625" stop-color="#2458f4"/>
<stop offset="0.5625" stop-color="#2355f5"/><stop offset="0.5781" stop-color="#2355f5"/>
<stop offset="0.5781" stop-color="#2152f5"/><stop offset="0.5938" stop-color="#2152f5"/>
<stop offset="0.5938" stop-color="#204ff6"/><stop offset="0.6094" stop-color="#204ff6"/>
<stop offset="0.6094" stop-color="#1f4bf6"/><stop offset="0.6250" stop-color="#1f4bf6"/>
<stop offset="0.6250" stop-color="#1e48f6"/><stop offset="0.6406" stop-color="#1e48f6"/>
<stop offset="0.6406" stop-color="#1c45f7"/><stop offset="0.6562" stop-color="#1c45f7"/>
<stop offset="0.6562" stop-color="#1b42f7"/><stop offset="0.6719" stop-color="#1b42f7"/>
<stop offset="0.6719" stop-color="#1a3ff8"/><stop offset="0.6875" stop-color="#1a3ff8"/>
<stop offset="0.6875" stop-color="#183cf8"/><stop offset="0.7031" stop-color="#183cf8"/>
<stop offset="0.7031" stop-color="#1739f8"/><stop offset="0.7188" stop-color="#1739f8"/>
<stop offset="0.7188" stop-color="#1635f9"/><stop offset="0.7344" stop-color="#1635f9"/>
<stop offset="0.7344" stop-color="#1532f9"/><stop offset="0.7500" stop-color="#1532f9"/>
<stop offset="0.7500" stop-color="#132ff9"/><stop offset="0.7656" stop-color="#132ff9"/>
<stop offset="0.7656" stop-color="#122cfa"/><stop offset="0.7812" stop-color="#122cfa"/>
<stop offset="0.7812" stop-color="#1129fa"/><stop offset="0.7969" stop-color="#1129fa"/>
<stop offset="0.7969" stop-color="#0f26fa"/><stop offset="0.8125" stop-color="#0f26fa"/>
<stop offset="0.8125" stop-color="#0e23fb"/><stop offset="0.8281" stop-color="#0e23fb"/>
<stop offset="0.8281" stop-color="#0d1ffb"/><stop offset="0.8438" stop-color="#0d1ffb"/>
<stop offset="0.8438" stop-color="#0c1cfc"/><stop offset="0.8594" stop-color="#0c1cfc"/>
<stop offset="0.8594" stop-color="#0a19fc"/><stop offset="0.8750" stop-color="#0a19fc"/>
<stop offset="0.8750" stop-color="#0916fc"/><stop offset="0.8906" stop-color="#0916fc"/>
<stop offset="0.8906" stop-color="#0813fd"/><stop offset="0.9062" stop-color="#0813fd"/>
<stop offset="0.9062" stop-color="#0610fd"/><stop offset="0.9219" stop-color="#0610fd"/>
<stop offset="0.9219" stop-color="#050dfe"/><stop offset="0.9375" stop-color="#050dfe"/>
<stop offset="0.9375" stop-color="#0409fe"/><stop offset="0.9531" stop-color="#0409fe"/>
<stop offset="0.9531" stop-color="#0306fe"/><stop offset="0.9688" stop-color="#0306fe"/>
<stop offset="0.9688" stop-color="#0103ff"/><stop offset="0.9844" stop-color="#0103ff"/>
<stop offset="0.9844" stop-color="#0000ff"/><stop offset="1.0000" stop-color="#0000ff"/>
</linearGradient></defs>
<rect x="658.2" y="20.1" width="11.10" height="243.90" fill="url(#cbg)" stroke="#aaa" stroke-width="0.6"/>
<text x="671.70" y="267.60" font-size="10.8" text-anchor="start" fill="#1a1a1a">0</text>
<line x1="658.2" y1="239.61" x2="659.8000000000001" y2="239.61" stroke="#444" stroke-width="0.7"/>
<line x1="669.3" y1="239.61" x2="667.6999999999999" y2="239.61" stroke="#444" stroke-width="0.7"/>
<text x="670.20" y="243.21" font-size="10.8" text-anchor="start" fill="#1a1a1a">0. </text>
<path d="M763 0H583V1110Q518 1050 412 990Q306 930 222 900V1070Q373 1140 486 1240Q599 1340 646 1409H763Z" fill="#1a1a1a" transform="translate(679.21 243.21) scale(0.005273 -0.005273)"/>
<line x1="658.2" y1="215.22" x2="659.8000000000001" y2="215.22" stroke="#444" stroke-width="0.7"/>
<line x1="669.3" y1="215.22" x2="667.6999999999999" y2="215.22" stroke="#444" stroke-width="0.7"/>
<text x="670.20" y="218.82" font-size="10.8" text-anchor="start" fill="#1a1a1a">0.2</text>
<line x1="658.2" y1="190.83" x2="659.8000000000001" y2="190.83" stroke="#444" stroke-width="0.7"/>
<line x1="669.3" y1="190.83" x2="667.6999999999999" y2="190.83" stroke="#444" stroke-width="0.7"/>
<text x="670.20" y="194.43" font-size="10.8" text-anchor="start" fill="#1a1a1a">0.3</text>
<line x1="658.2" y1="166.44" x2="659.8000000000001" y2="166.44" stroke="#444" stroke-width="0.7"/>
<line x1="669.3" y1="166.44" x2="667.6999999999999" y2="166.44" stroke="#444" stroke-width="0.7"/>
<text x="670.20" y="170.04" font-size="10.8" text-anchor="start" fill="#1a1a1a">0.4</text>
<line x1="658.2" y1="142.05" x2="659.8000000000001" y2="142.05" stroke="#444" stroke-width="0.7"/>
<line x1="669.3" y1="142.05" x2="667.6999999999999" y2="142.05" stroke="#444" stroke-width="0.7"/>
<text x="670.20" y="145.65" font-size="10.8" text-anchor="start" fill="#1a1a1a">0.5</text>
<line x1="658.2" y1="117.66" x2="659.8000000000001" y2="117.66" stroke="#444" stroke-width="0.7"/>
<line x1="669.3" y1="117.66" x2="667.6999999999999" y2="117.66" stroke="#444" stroke-width="0.7"/>
<text x="670.20" y="121.26" font-size="10.8" text-anchor="start" fill="#1a1a1a">0.6</text>
<line x1="658.2" y1="93.27" x2="659.8000000000001" y2="93.27" stroke="#444" stroke-width="0.7"/>
<line x1="669.3" y1="93.27" x2="667.6999999999999" y2="93.27" stroke="#444" stroke-width="0.7"/>
<text x="670.20" y="96.87" font-size="10.8" text-anchor="start" fill="#1a1a1a">0.7</text>
<line x1="658.2" y1="68.88" x2="659.8000000000001" y2="68.88" stroke="#444" stroke-width="0.7"/>
<line x1="669.3" y1="68.88" x2="667.6999999999999" y2="68.88" stroke="#444" stroke-width="0.7"/>
<text x="670.20" y="72.48" font-size="10.8" text-anchor="start" fill="#1a1a1a">0.8</text>
<line x1="658.2" y1="44.49" x2="659.8000000000001" y2="44.49" stroke="#444" stroke-width="0.7"/>
<line x1="669.3" y1="44.49" x2="667.6999999999999" y2="44.49" stroke="#444" stroke-width="0.7"/>
<text x="670.20" y="48.09" font-size="10.8" text-anchor="start" fill="#1a1a1a">0.9</text>
<text x="671.70" y="23.70" font-size="10.8" text-anchor="start" fill="#1a1a1a"> </text>
<path d="M763 0H583V1110Q518 1050 412 990Q306 930 222 900V1070Q373 1140 486 1240Q599 1340 646 1409H763Z" fill="#1a1a1a" transform="translate(671.70 23.70) scale(0.005273 -0.005273)"/>
<text x="662.60" y="11.30" font-size="11" text-anchor="middle" fill="#1a1a1a">(a. u.)</text></svg></body></html>
